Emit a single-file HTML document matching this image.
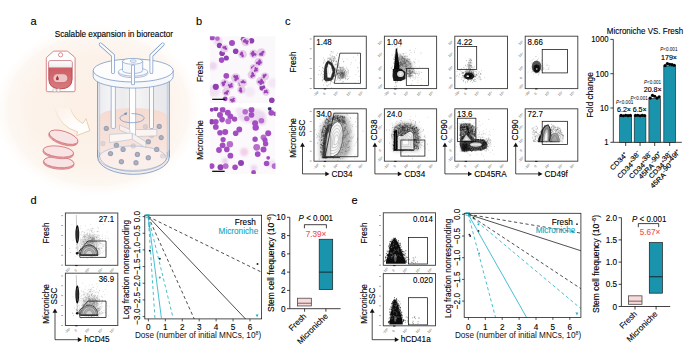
<!DOCTYPE html>
<html><head><meta charset="utf-8"><style>
html,body{margin:0;padding:0;background:#fff;overflow:hidden;}
svg{display:block;}
text{font-family:"Liberation Sans", sans-serif;}
</style></head><body>
<svg width="685" height="345" viewBox="0 0 685 345">
<defs>
<radialGradient id="glow" cx="0.5" cy="0.5" r="0.5">
 <stop offset="0" stop-color="#fcf0e6"/>
 <stop offset="0.6" stop-color="#fcf2e9"/>
 <stop offset="0.85" stop-color="#fdf7f2"/>
 <stop offset="1" stop-color="#ffffff" stop-opacity="0"/>
</radialGradient>
<filter id="b1" x="-50%" y="-50%" width="200%" height="200%"><feGaussianBlur stdDeviation="1"/></filter>
<filter id="b05" x="-50%" y="-50%" width="200%" height="200%"><feGaussianBlur stdDeviation="0.5"/></filter>
<filter id="b2" x="-50%" y="-50%" width="200%" height="200%"><feGaussianBlur stdDeviation="2"/></filter>
</defs>
<text x="30.50" y="24.90" font-size="11" text-anchor="start" fill="#000" stroke="#000" stroke-width="0.12" >a</text>
<text x="196.00" y="24.90" font-size="11" text-anchor="start" fill="#000" stroke="#000" stroke-width="0.12" >b</text>
<text x="285.00" y="24.90" font-size="11" text-anchor="start" fill="#000" stroke="#000" stroke-width="0.12" >c</text>
<text x="30.60" y="204.30" font-size="11" text-anchor="start" fill="#000" stroke="#000" stroke-width="0.12" >d</text>
<text x="351.50" y="204.40" font-size="11" text-anchor="start" fill="#000" stroke="#000" stroke-width="0.12" >e</text>
<ellipse cx="98" cy="110" rx="106" ry="88" fill="url(#glow)"/>
<path d="M46.3,58.5 Q46.3,57.5 47.2,56.8 L53,51.6 Q53.6,51.1 54.5,51.1 L66.5,51.1 Q67.4,51.1 68,51.6 L74.3,56.8 Q75.1,57.5 75.1,58.5 L75.1,90.3 Q75.1,91.7 73.7,91.7 L47.7,91.7 Q46.3,91.7 46.3,90.3 Z" fill="#fff" stroke="#cc5f66" stroke-width="0.75"/>
<circle cx="60.6" cy="54.8" r="2.1" fill="#fff" stroke="#cc5f66" stroke-width="0.7"/>
<linearGradient id="bagR" x1="0" y1="0" x2="0" y2="1"><stop offset="0" stop-color="#c9545b"/><stop offset="1" stop-color="#d97a7e"/></linearGradient>
<linearGradient id="bagW" x1="0" y1="0" x2="0" y2="1"><stop offset="0" stop-color="#ffffff"/><stop offset="1" stop-color="#ececec"/></linearGradient>
<path d="M48.8,62.6 Q48.8,60.7 50.7,60.7 L70.2,60.7 Q72.1,60.7 72.1,62.6 L72.1,79 Q72.1,88.8 60.45,88.8 Q48.8,88.8 48.8,79 Z" fill="url(#bagR)" stroke="#b5424a" stroke-width="0.85"/>
<path d="M48.8,62.6 Q48.8,60.7 50.7,60.7 L70.2,60.7 Q72.1,60.7 72.1,62.6 L72.1,67.6 L48.8,67.6 Z" fill="url(#bagW)" stroke="#c9a0a2" stroke-width="0.4"/>
<rect x="53" y="73.8" width="14.8" height="8.8" rx="4.4" fill="#eec3c3" stroke="#b9525a" stroke-width="0.6"/>
<path d="M57.4,75.6 Q56,78 56,79.2 A1.45,1.45 0 0 0 58.8,79.2 Q58.8,78 57.4,75.6 Z" fill="#a8343c"/>
<circle cx="54.6" cy="90.3" r="1.8" fill="#f7f7f7" stroke="#a9a9a9" stroke-width="0.55"/><circle cx="58.4" cy="90.3" r="1.8" fill="#f7f7f7" stroke="#a9a9a9" stroke-width="0.55"/>
<linearGradient id="arrF" x1="0" y1="0" x2="1" y2="1"><stop offset="0" stop-color="#fff" stop-opacity="0"/><stop offset="0.6" stop-color="#fff" stop-opacity="0.9"/><stop offset="1" stop-color="#fff"/></linearGradient>
<linearGradient id="arrS" x1="0" y1="0" x2="1" y2="1"><stop offset="0" stop-color="#e4c9a4" stop-opacity="0.2"/><stop offset="0.5" stop-color="#e2c39c"/><stop offset="1" stop-color="#dcb88e"/></linearGradient>
<path d="M55,108.5 Q60,127 77.5,131.8 L76.6,135.6 L89.8,130.6 L86,118.7 L82.8,123.6 Q73.5,118.5 70.5,108.5" fill="url(#arrF)" stroke="url(#arrS)" stroke-width="0.7" stroke-linejoin="round"/>
<g transform="rotate(5 58.8 162.2)"><ellipse cx="58.8" cy="163.79999999999998" rx="15.3" ry="5.4" fill="#f3d3d3" stroke="#cc5f66" stroke-width="0.6"/><ellipse cx="58.8" cy="163.0" rx="15.3" ry="5.4" fill="#f3d3d3" stroke="#cc5f66" stroke-width="0.5"/><ellipse cx="58.8" cy="162.2" rx="15.3" ry="5.4" fill="#f8e4e4" stroke="#cc5f66" stroke-width="0.7"/></g>
<g transform="rotate(7 58.400000000000006 151.5)"><ellipse cx="58.400000000000006" cy="153.1" rx="15.3" ry="5.4" fill="#f3d3d3" stroke="#cc5f66" stroke-width="0.6"/><ellipse cx="58.400000000000006" cy="152.3" rx="15.3" ry="5.4" fill="#f3d3d3" stroke="#cc5f66" stroke-width="0.5"/><ellipse cx="58.400000000000006" cy="151.5" rx="15.3" ry="5.4" fill="#f8e4e4" stroke="#cc5f66" stroke-width="0.7"/></g>
<g transform="rotate(18 63.6 137.2)"><ellipse cx="63.6" cy="138.79999999999998" rx="15.0" ry="5.8" fill="#f3d3d3" stroke="#cc5f66" stroke-width="0.6"/><ellipse cx="63.6" cy="138.0" rx="15.0" ry="5.8" fill="#f3d3d3" stroke="#cc5f66" stroke-width="0.5"/><ellipse cx="63.6" cy="137.2" rx="15.0" ry="5.8" fill="#f8e4e4" stroke="#cc5f66" stroke-width="0.7"/></g>
<linearGradient id="glass" x1="0" y1="0" x2="1" y2="0">
 <stop offset="0" stop-color="#e9eaee"/><stop offset="0.15" stop-color="#f3f3f5"/><stop offset="0.35" stop-color="#ececee"/>
 <stop offset="0.55" stop-color="#f4f4f5"/><stop offset="0.8" stop-color="#ebebee"/><stop offset="1" stop-color="#e6e7eb"/></linearGradient>
<linearGradient id="liq" x1="0" y1="0" x2="0" y2="1">
 <stop offset="0" stop-color="#f5dbd1"/><stop offset="0.5" stop-color="#f6e2db"/><stop offset="1" stop-color="#f8ebe7"/></linearGradient>
<radialGradient id="part" cx="0.5" cy="0.5" r="0.5"><stop offset="0" stop-color="#c2b2b0"/><stop offset="0.4" stop-color="#b0acb6"/><stop offset="0.8" stop-color="#94a0b6"/><stop offset="1" stop-color="#a9b3c5"/></radialGradient>
<path d="M97.6,76 L97.6,157 A35.85,17 0 0 0 169.3,157 L169.3,76 Z" fill="url(#glass)"/>
<path d="M99.2,117 A34.1,9 0 0 1 167.6,117 L167.6,157 A34.2,15.5 0 0 1 99.2,157 Z" fill="url(#liq)"/>
<ellipse cx="132.4" cy="158.2" rx="33.8" ry="12.2" fill="#fbf0ec" fill-opacity="0.8" stroke="#9fb2cf" stroke-width="0.6"/>
<path d="M97.6,150 L97.6,157 A35.85,17.3 0 0 0 169.3,157 L169.3,150" fill="none" stroke="#7091c1" stroke-width="0.8"/>
<path d="M99.6,152 L99.6,156.5 A33.9,15.8 0 0 0 167.3,156.5 L167.3,152" fill="none" stroke="#7091c1" stroke-width="0.5"/>
<line x1="97.60" y1="80.00" x2="97.60" y2="157.00" stroke="#7091c1" stroke-width="0.9" />
<line x1="169.30" y1="80.00" x2="169.30" y2="157.00" stroke="#7091c1" stroke-width="0.9" />
<line x1="99.60" y1="82.00" x2="99.60" y2="156.50" stroke="#a7b8d2" stroke-width="0.55" />
<line x1="167.30" y1="82.00" x2="167.30" y2="156.50" stroke="#a7b8d2" stroke-width="0.55" />
<path d="M111.2,84 L111.2,127.6 Q111.2,128.5 113.30000000000001,128.5 Q115.4,128.5 115.4,127.6 L115.4,84" fill="#fbfbfc" stroke="#7091c1" stroke-width="0.6"/>
<path d="M149.5,84 L149.5,127.6 Q149.5,128.5 151.5,128.5 Q153.5,128.5 153.5,127.6 L153.5,84" fill="#fbfbfc" stroke="#7091c1" stroke-width="0.6"/>
<rect x="129.4" y="84" width="6.4" height="51.5" fill="#fdfdfd" stroke="#7091c1" stroke-width="0.5"/>
<rect x="130.2" y="84" width="4.8" height="50" fill="#ffffff"/>
<path d="M126,114.2 A12.1,4.6 0 1 0 131.5,113.6" fill="none" stroke="#7091c1" stroke-width="0.7"/>
<path d="M123.6,113.3 L127.2,112.2 L126.4,115.3 Z" fill="#7091c1"/>
<circle cx="106.3" cy="128.4" r="2.7" fill="url(#part)" opacity="1"/>
<circle cx="159.2" cy="126.4" r="2.7" fill="url(#part)" opacity="1"/>
<circle cx="145.4" cy="126.7" r="2.7" fill="url(#part)" opacity="0.35"/>
<circle cx="151.6" cy="135.5" r="2.7" fill="url(#part)" opacity="0.35"/>
<circle cx="102.9" cy="143.5" r="2.7" fill="url(#part)" opacity="0.3"/>
<circle cx="161.2" cy="137.6" r="2.7" fill="url(#part)" opacity="1"/>
<path d="M119.5,125 L130,129.5 L130,134.5 L119.5,130 Z" fill="#f8eeea" stroke="#a4b4cc" stroke-width="0.5"/>
<path d="M135.5,129.5 L156.8,129.4 L156.8,135.8 L135.5,136.5 Z" fill="#fbf4f1" stroke="#a4b4cc" stroke-width="0.5"/>
<path d="M109.6,134.4 L132.3,133.1 L132.3,139.4 L109.6,142.6 Z" fill="#fcf6f3" stroke="#a4b4cc" stroke-width="0.5"/>
<path d="M132.3,133.1 L145.8,141.8 L145.8,147.7 L132.3,139.4 Z" fill="#faf0ec" stroke="#a4b4cc" stroke-width="0.5"/>
<circle cx="148.3" cy="141.8" r="2.7" fill="url(#part)" opacity="1"/>
<circle cx="116.4" cy="145.2" r="2.7" fill="url(#part)" opacity="1"/>
<circle cx="123.1" cy="149.4" r="2.7" fill="url(#part)" opacity="1"/>
<circle cx="110.5" cy="153.6" r="2.7" fill="url(#part)" opacity="1"/>
<circle cx="137.4" cy="154.4" r="2.7" fill="url(#part)" opacity="1"/>
<circle cx="148.3" cy="157.8" r="2.7" fill="url(#part)" opacity="1"/>
<circle cx="156.7" cy="149.4" r="2.7" fill="url(#part)" opacity="1"/>
<circle cx="121.4" cy="161.7" r="2.7" fill="url(#part)" opacity="1"/>
<circle cx="136" cy="162.8" r="2.7" fill="url(#part)" opacity="1"/>
<circle cx="133.2" cy="146" r="2.7" fill="url(#part)" opacity="0.35"/>
<circle cx="162.6" cy="156.1" r="2.7" fill="url(#part)" opacity="0.3"/>
<path d="M93.2,70.5 L93.2,76.6 A40,11.5 0 0 0 173.2,76.6 L173.2,70.5 Z" fill="#f7f8fb" stroke="#7091c1" stroke-width="0.7"/>
<ellipse cx="133.2" cy="70.5" rx="40" ry="11.5" fill="#fdfdfe" stroke="#7091c1" stroke-width="0.75"/>
<path d="M118.4,71.8 L118.4,73.4 A14.7,4.3 0 0 0 147.8,73.4 L147.8,71.8" fill="#f4f6fa" stroke="#7091c1" stroke-width="0.55"/>
<ellipse cx="133.1" cy="71.8" rx="14.7" ry="4.3" fill="#fbfbfd" stroke="#7091c1" stroke-width="0.55"/>
<path d="M122.5,61.3 L122.5,70.6 A10.1,2.9 0 0 0 142.7,70.6 L142.7,61.3 Z" fill="#f6f7fa" stroke="#7091c1" stroke-width="0.6"/>
<ellipse cx="132.6" cy="61.3" rx="10.1" ry="2.9" fill="#fdfdfe" stroke="#7091c1" stroke-width="0.6"/>
<ellipse cx="133.2" cy="61.1" rx="3.2" ry="1.3" fill="#f2f4f8" stroke="#7091c1" stroke-width="0.5"/>
<path d="M100.6,44.3 L113,55.4 L113,72.3" fill="none" stroke="#7091c1" stroke-width="3.6" stroke-linecap="round" stroke-linejoin="round"/>
<path d="M100.6,44.3 L113,55.4 L113,72.3" fill="none" stroke="#fbfcfd" stroke-width="2.3" stroke-linecap="round" stroke-linejoin="round"/>
<path d="M162.8,44.3 L151.4,55.4 L151.4,72.3" fill="none" stroke="#7091c1" stroke-width="3.6" stroke-linecap="round" stroke-linejoin="round"/>
<path d="M162.8,44.3 L151.4,55.4 L151.4,72.3" fill="none" stroke="#fbfcfd" stroke-width="2.3" stroke-linecap="round" stroke-linejoin="round"/>
<path d="M133,66.6 L133,83.3" fill="none" stroke="#7091c1" stroke-width="4" stroke-linecap="round" stroke-linejoin="round"/>
<path d="M133,66.6 L133,83.3" fill="none" stroke="#fbfcfd" stroke-width="2.7" stroke-linecap="round" stroke-linejoin="round"/>
<text x="54.70" y="36.50" font-size="8.2" text-anchor="start" fill="#000" stroke="#000" stroke-width="0.12" >Scalable expansion in bioreactor</text>
<clipPath id="im1"><rect x="209.7" y="36.2" width="65.8" height="66.8"/></clipPath>
<clipPath id="im2"><rect x="209.7" y="107.2" width="65.8" height="66.8"/></clipPath>
<filter id="soft" x="-10%" y="-10%" width="120%" height="120%"><feGaussianBlur stdDeviation="0.45"/></filter>
<filter id="soft2" x="-50%" y="-50%" width="200%" height="200%"><feGaussianBlur stdDeviation="1.2"/></filter>
<g clip-path="url(#im1)"><rect x="209.7" y="36.2" width="65.8" height="66.8" fill="#fbf8fb"/>
<g filter="url(#soft2)" opacity="0.7"><circle cx="213" cy="66" r="4" fill="#e5c9ea"/><circle cx="214" cy="91" r="6" fill="#ecd6ef"/><circle cx="218" cy="41" r="4" fill="#e3c3e8"/><circle cx="273" cy="83" r="5" fill="#efe0f2"/><circle cx="250" cy="92" r="5" fill="#f0e2f2"/></g>
<g filter="url(#soft)">
<circle cx="212.2" cy="37.7" r="2.60" fill="#a44ec2"/>
<circle cx="217.4" cy="38.6" r="2.40" fill="#b86ccd"/>
<circle cx="219.5" cy="45.5" r="2.70" fill="#9140b2"/>
<circle cx="232" cy="42.9" r="3.00" fill="#a44ec2"/>
<circle cx="235.7" cy="51.2" r="2.80" fill="#9140b2"/>
<circle cx="222.1" cy="53.3" r="2.80" fill="#9140b2"/>
<circle cx="226.3" cy="58.0" r="2.60" fill="#9140b2"/>
<circle cx="221.6" cy="60.1" r="2.80" fill="#a44ec2"/>
<circle cx="243" cy="39.2" r="2.40" fill="#a44ec2"/>
<circle cx="251.5" cy="40.8" r="2.80" fill="#9140b2"/>
<circle cx="226.3" cy="75.8" r="2.90" fill="#a44ec2"/>
<circle cx="215.8" cy="86.8" r="3.10" fill="#9140b2"/>
<circle cx="225.2" cy="98.8" r="2.40" fill="#9140b2"/>
<circle cx="262.4" cy="87.8" r="3.00" fill="#9140b2"/>
<circle cx="271.8" cy="100.3" r="2.80" fill="#9140b2"/>
<circle cx="224.5" cy="48.4" r="3.92" fill="#e7cdea"/>
<ellipse cx="223.56" cy="47.49" rx="1.40" ry="1.12" transform="rotate(224 223.56 47.49)" fill="#9c44b6"/>
<ellipse cx="225.08" cy="47.22" rx="1.40" ry="1.12" transform="rotate(296 225.08 47.22)" fill="#9c44b6"/>
<ellipse cx="225.78" cy="48.69" rx="1.40" ry="1.12" transform="rotate(373 225.78 48.69)" fill="#9c44b6"/>
<circle cx="245.7" cy="41.8" r="4.3999999999999995" fill="#e7cdea"/>
<ellipse cx="244.24" cy="41.42" rx="1.62" ry="1.30" transform="rotate(195 244.24 41.42)" fill="#9c44b6"/>
<ellipse cx="245.27" cy="40.35" rx="1.62" ry="1.30" transform="rotate(253 245.27 40.35)" fill="#9c44b6"/>
<ellipse cx="247.19" cy="41.52" rx="1.62" ry="1.30" transform="rotate(349 247.19 41.52)" fill="#9c44b6"/>
<ellipse cx="246.63" cy="42.99" rx="1.62" ry="1.30" transform="rotate(412 246.63 42.99)" fill="#9c44b6"/>
<circle cx="242.6" cy="54.3" r="4.28" fill="#e7cdea"/>
<ellipse cx="242.61" cy="55.76" rx="1.57" ry="1.25" transform="rotate(90 242.61 55.76)" fill="#9c44b6"/>
<ellipse cx="241.14" cy="54.33" rx="1.57" ry="1.25" transform="rotate(179 241.14 54.33)" fill="#9c44b6"/>
<ellipse cx="241.86" cy="53.04" rx="1.57" ry="1.25" transform="rotate(240 241.86 53.04)" fill="#9c44b6"/>
<circle cx="253.6" cy="53.8" r="4.3999999999999995" fill="#e7cdea"/>
<ellipse cx="254.97" cy="54.43" rx="1.62" ry="1.30" transform="rotate(25 254.97 54.43)" fill="#9c44b6"/>
<ellipse cx="252.96" cy="55.17" rx="1.62" ry="1.30" transform="rotate(115 252.96 55.17)" fill="#9c44b6"/>
<ellipse cx="252.10" cy="53.60" rx="1.62" ry="1.30" transform="rotate(187 252.10 53.60)" fill="#9c44b6"/>
<ellipse cx="253.17" cy="52.35" rx="1.62" ry="1.30" transform="rotate(254 253.17 52.35)" fill="#9c44b6"/>
<circle cx="261.4" cy="52.8" r="4.52" fill="#e7cdea"/>
<ellipse cx="262.87" cy="52.26" rx="1.67" ry="1.34" transform="rotate(340 262.87 52.26)" fill="#9c44b6"/>
<ellipse cx="261.99" cy="54.25" rx="1.67" ry="1.34" transform="rotate(428 261.99 54.25)" fill="#9c44b6"/>
<ellipse cx="260.51" cy="54.09" rx="1.67" ry="1.34" transform="rotate(485 260.51 54.09)" fill="#9c44b6"/>
<circle cx="258.8" cy="62.2" r="4.3999999999999995" fill="#e7cdea"/>
<ellipse cx="259.48" cy="60.85" rx="1.62" ry="1.30" transform="rotate(297 259.48 60.85)" fill="#9c44b6"/>
<ellipse cx="260.30" cy="62.40" rx="1.62" ry="1.30" transform="rotate(368 260.30 62.40)" fill="#9c44b6"/>
<ellipse cx="259.07" cy="63.69" rx="1.62" ry="1.30" transform="rotate(440 259.07 63.69)" fill="#9c44b6"/>
<ellipse cx="257.47" cy="62.92" rx="1.62" ry="1.30" transform="rotate(512 257.47 62.92)" fill="#9c44b6"/>
<circle cx="253.6" cy="67.9" r="3.92" fill="#e7cdea"/>
<ellipse cx="252.31" cy="67.67" rx="1.40" ry="1.12" transform="rotate(190 252.31 67.67)" fill="#9c44b6"/>
<ellipse cx="253.56" cy="66.59" rx="1.40" ry="1.12" transform="rotate(268 253.56 66.59)" fill="#9c44b6"/>
<ellipse cx="254.87" cy="67.57" rx="1.40" ry="1.12" transform="rotate(346 254.87 67.57)" fill="#9c44b6"/>
<circle cx="235.7" cy="77.9" r="4.64" fill="#e7cdea"/>
<ellipse cx="234.76" cy="76.59" rx="1.73" ry="1.38" transform="rotate(234 234.76 76.59)" fill="#9c44b6"/>
<ellipse cx="236.71" cy="76.64" rx="1.73" ry="1.38" transform="rotate(309 236.71 76.64)" fill="#9c44b6"/>
<ellipse cx="237.27" cy="78.27" rx="1.73" ry="1.38" transform="rotate(373 237.27 78.27)" fill="#9c44b6"/>
<ellipse cx="235.63" cy="79.51" rx="1.73" ry="1.38" transform="rotate(453 235.63 79.51)" fill="#9c44b6"/>
<circle cx="224.5" cy="83.5" r="4.3999999999999995" fill="#e7cdea"/>
<ellipse cx="223.55" cy="84.68" rx="1.62" ry="1.30" transform="rotate(129 223.55 84.68)" fill="#9c44b6"/>
<ellipse cx="223.02" cy="83.21" rx="1.62" ry="1.30" transform="rotate(191 223.02 83.21)" fill="#9c44b6"/>
<ellipse cx="224.74" cy="82.01" rx="1.62" ry="1.30" transform="rotate(279 224.74 82.01)" fill="#9c44b6"/>
<circle cx="230.5" cy="85.5" r="3.92" fill="#e7cdea"/>
<ellipse cx="231.31" cy="84.47" rx="1.40" ry="1.12" transform="rotate(308 231.31 84.47)" fill="#9c44b6"/>
<ellipse cx="231.60" cy="86.21" rx="1.40" ry="1.12" transform="rotate(393 231.60 86.21)" fill="#9c44b6"/>
<ellipse cx="229.96" cy="86.69" rx="1.40" ry="1.12" transform="rotate(474 229.96 86.69)" fill="#9c44b6"/>
<ellipse cx="229.21" cy="85.27" rx="1.40" ry="1.12" transform="rotate(550 229.21 85.27)" fill="#9c44b6"/>
<circle cx="226.3" cy="92" r="4.16" fill="#e7cdea"/>
<ellipse cx="227.60" cy="91.46" rx="1.51" ry="1.21" transform="rotate(337 227.60 91.46)" fill="#9c44b6"/>
<ellipse cx="226.80" cy="93.32" rx="1.51" ry="1.21" transform="rotate(429 226.80 93.32)" fill="#9c44b6"/>
<ellipse cx="225.38" cy="93.07" rx="1.51" ry="1.21" transform="rotate(491 225.38 93.07)" fill="#9c44b6"/>
<circle cx="241.4" cy="83.7" r="4.16" fill="#e7cdea"/>
<ellipse cx="242.38" cy="84.72" rx="1.51" ry="1.21" transform="rotate(46 242.38 84.72)" fill="#9c44b6"/>
<ellipse cx="240.57" cy="84.84" rx="1.51" ry="1.21" transform="rotate(126 240.57 84.84)" fill="#9c44b6"/>
<ellipse cx="240.01" cy="83.45" rx="1.51" ry="1.21" transform="rotate(190 240.01 83.45)" fill="#9c44b6"/>
<ellipse cx="241.41" cy="82.29" rx="1.51" ry="1.21" transform="rotate(270 241.41 82.29)" fill="#9c44b6"/>
<circle cx="241.4" cy="89.9" r="4.16" fill="#e7cdea"/>
<ellipse cx="241.14" cy="91.29" rx="1.51" ry="1.21" transform="rotate(101 241.14 91.29)" fill="#9c44b6"/>
<ellipse cx="240.07" cy="90.37" rx="1.51" ry="1.21" transform="rotate(161 240.07 90.37)" fill="#9c44b6"/>
<ellipse cx="240.64" cy="88.71" rx="1.51" ry="1.21" transform="rotate(238 240.64 88.71)" fill="#9c44b6"/>
<circle cx="232.5" cy="99.8" r="3.92" fill="#e7cdea"/>
<ellipse cx="233.50" cy="98.95" rx="1.40" ry="1.12" transform="rotate(319 233.50 98.95)" fill="#9c44b6"/>
<ellipse cx="233.56" cy="100.57" rx="1.40" ry="1.12" transform="rotate(396 233.56 100.57)" fill="#9c44b6"/>
<ellipse cx="232.26" cy="101.09" rx="1.40" ry="1.12" transform="rotate(461 232.26 101.09)" fill="#9c44b6"/>
<ellipse cx="231.20" cy="99.94" rx="1.40" ry="1.12" transform="rotate(534 231.20 99.94)" fill="#9c44b6"/>
<circle cx="252" cy="74.8" r="4.3999999999999995" fill="#e7cdea"/>
<ellipse cx="252.66" cy="73.44" rx="1.62" ry="1.30" transform="rotate(296 252.66 73.44)" fill="#9c44b6"/>
<ellipse cx="253.41" cy="75.35" rx="1.62" ry="1.30" transform="rotate(381 253.41 75.35)" fill="#9c44b6"/>
<ellipse cx="251.68" cy="76.28" rx="1.62" ry="1.30" transform="rotate(462 251.68 76.28)" fill="#9c44b6"/>
<circle cx="255.7" cy="69.6" r="3.6799999999999997" fill="#e7cdea"/>
<ellipse cx="255.42" cy="68.42" rx="1.30" ry="1.04" transform="rotate(257 255.42 68.42)" fill="#9c44b6"/>
<ellipse cx="256.67" cy="68.87" rx="1.30" ry="1.04" transform="rotate(323 256.67 68.87)" fill="#9c44b6"/>
<ellipse cx="256.71" cy="70.27" rx="1.30" ry="1.04" transform="rotate(394 256.71 70.27)" fill="#9c44b6"/>
<ellipse cx="255.04" cy="70.61" rx="1.30" ry="1.04" transform="rotate(483 255.04 70.61)" fill="#9c44b6"/>
<circle cx="243.1" cy="82.6" r="3.92" fill="#e7cdea"/>
<ellipse cx="241.89" cy="82.10" rx="1.40" ry="1.12" transform="rotate(203 241.89 82.10)" fill="#9c44b6"/>
<ellipse cx="243.15" cy="81.29" rx="1.40" ry="1.12" transform="rotate(272 243.15 81.29)" fill="#9c44b6"/>
<ellipse cx="244.41" cy="82.49" rx="1.40" ry="1.12" transform="rotate(355 244.41 82.49)" fill="#9c44b6"/>
<circle cx="260.9" cy="81.6" r="4.76" fill="#e7cdea"/>
<ellipse cx="261.64" cy="80.11" rx="1.78" ry="1.43" transform="rotate(296 261.64 80.11)" fill="#9c44b6"/>
<ellipse cx="262.43" cy="82.25" rx="1.78" ry="1.43" transform="rotate(383 262.43 82.25)" fill="#9c44b6"/>
<ellipse cx="260.73" cy="83.25" rx="1.78" ry="1.43" transform="rotate(456 260.73 83.25)" fill="#9c44b6"/>
<ellipse cx="259.26" cy="81.90" rx="1.78" ry="1.43" transform="rotate(530 259.26 81.90)" fill="#9c44b6"/>
<circle cx="265" cy="76.3" r="3.92" fill="#e7cdea"/>
<ellipse cx="263.88" cy="76.98" rx="1.40" ry="1.12" transform="rotate(149 263.88 76.98)" fill="#9c44b6"/>
<ellipse cx="263.94" cy="75.53" rx="1.40" ry="1.12" transform="rotate(216 263.94 75.53)" fill="#9c44b6"/>
<ellipse cx="265.42" cy="75.06" rx="1.40" ry="1.12" transform="rotate(289 265.42 75.06)" fill="#9c44b6"/>
<circle cx="266" cy="92" r="3.6799999999999997" fill="#e7cdea"/>
<ellipse cx="264.86" cy="92.39" rx="1.30" ry="1.04" transform="rotate(161 264.86 92.39)" fill="#9c44b6"/>
<ellipse cx="265.12" cy="91.17" rx="1.30" ry="1.04" transform="rotate(224 265.12 91.17)" fill="#9c44b6"/>
<ellipse cx="266.53" cy="90.91" rx="1.30" ry="1.04" transform="rotate(296 266.53 90.91)" fill="#9c44b6"/>
<ellipse cx="267.14" cy="92.39" rx="1.30" ry="1.04" transform="rotate(379 267.14 92.39)" fill="#9c44b6"/>
</g></g>
<rect x="212.2" y="98.7" width="13" height="1.3" fill="#111"/>
<g clip-path="url(#im2)"><rect x="209.7" y="107.2" width="65.8" height="66.8" fill="#fbf9fb"/>
<g filter="url(#soft2)" opacity="0.85"><ellipse cx="252" cy="116" rx="14" ry="7" fill="#ead4ee"/><circle cx="240" cy="111" r="4" fill="#efdff2"/><circle cx="244.2" cy="152" r="4" fill="#f0c9e6"/><circle cx="262" cy="121" r="4" fill="#e5c8ea"/><circle cx="225" cy="161" r="3" fill="#e6cbeb"/><circle cx="254" cy="168" r="3" fill="#e8cfec"/><circle cx="272" cy="164" r="4" fill="#ece0f1"/></g>
<g filter="url(#soft)">
<circle cx="211.7" cy="109.7" r="2.00" fill="#9140b2"/>
<circle cx="215.8" cy="108.7" r="2.50" fill="#9140b2"/>
<circle cx="222.6" cy="109.7" r="2.90" fill="#a44ec2"/>
<circle cx="220" cy="114.9" r="3.00" fill="#a44ec2"/>
<circle cx="227.8" cy="112.8" r="3.00" fill="#a44ec2"/>
<circle cx="230.4" cy="116.5" r="2.90" fill="#a44ec2"/>
<circle cx="222.1" cy="119.6" r="2.80" fill="#a44ec2"/>
<circle cx="234.6" cy="119.1" r="2.70" fill="#a44ec2"/>
<circle cx="228.3" cy="121.2" r="3.00" fill="#b86ccd"/>
<circle cx="211.7" cy="121.7" r="2.80" fill="#9140b2"/>
<circle cx="215.8" cy="121.7" r="2.80" fill="#a44ec2"/>
<circle cx="215.8" cy="126.9" r="2.90" fill="#a44ec2"/>
<circle cx="220" cy="132.7" r="2.80" fill="#a44ec2"/>
<circle cx="225.2" cy="132.1" r="3.00" fill="#a44ec2"/>
<circle cx="235.7" cy="133.2" r="2.80" fill="#a44ec2"/>
<circle cx="239.3" cy="129.5" r="2.90" fill="#a44ec2"/>
<circle cx="223.1" cy="139.6" r="2.60" fill="#a44ec2"/>
<circle cx="251.5" cy="109.7" r="2.90" fill="#a44ec2"/>
<circle cx="251.5" cy="114.9" r="2.80" fill="#a44ec2"/>
<circle cx="245.2" cy="111.8" r="2.80" fill="#b86ccd"/>
<circle cx="246.8" cy="118.6" r="2.70" fill="#b86ccd"/>
<circle cx="255.1" cy="123.3" r="3.00" fill="#a44ec2"/>
<circle cx="255.7" cy="127.6" r="3.20" fill="#a44ec2"/>
<circle cx="261.4" cy="120.7" r="2.80" fill="#b86ccd"/>
<circle cx="271.3" cy="112.8" r="2.90" fill="#a44ec2"/>
<circle cx="269.7" cy="108.7" r="1.90" fill="#3d2f7a"/>
<circle cx="268.2" cy="133.2" r="3.00" fill="#a44ec2"/>
<circle cx="263.5" cy="137.3" r="2.90" fill="#b86ccd"/>
<circle cx="255.1" cy="139.2" r="2.70" fill="#a44ec2"/>
<circle cx="222.6" cy="145.3" r="2.90" fill="#a44ec2"/>
<circle cx="229.9" cy="144.2" r="3.20" fill="#b86ccd"/>
<circle cx="219" cy="150" r="2.90" fill="#a44ec2"/>
<circle cx="226.8" cy="149.4" r="2.80" fill="#a44ec2"/>
<circle cx="230.4" cy="155.7" r="2.90" fill="#a44ec2"/>
<circle cx="211.7" cy="166.1" r="2.80" fill="#a44ec2"/>
<circle cx="220.5" cy="167.2" r="3.00" fill="#9140b2"/>
<circle cx="225.7" cy="166.1" r="2.90" fill="#b86ccd"/>
<circle cx="235.1" cy="167.2" r="2.80" fill="#a44ec2"/>
<circle cx="241" cy="163" r="3.00" fill="#9140b2"/>
<circle cx="265" cy="140" r="2.60" fill="#a44ec2"/>
<circle cx="265.6" cy="143.7" r="2.70" fill="#a44ec2"/>
<circle cx="256.7" cy="147.3" r="3.40" fill="#b86ccd"/>
<circle cx="263.5" cy="149.4" r="3.00" fill="#a44ec2"/>
<circle cx="257.7" cy="154.1" r="2.90" fill="#a44ec2"/>
<circle cx="266.6" cy="163.5" r="2.80" fill="#a44ec2"/>
<circle cx="268.2" cy="157.8" r="1.90" fill="#a44ec2"/>
<circle cx="253.6" cy="172.4" r="2.40" fill="#a44ec2"/>
<circle cx="275.5" cy="113.9" r="2.40" fill="#a44ec2"/>
<circle cx="274.6" cy="166.1" r="2.90" fill="#b86ccd"/>
</g></g>
<rect x="212.2" y="170.7" width="12.5" height="1.3" fill="#111"/>
<text x="203.50" y="71.60" font-size="8.2" text-anchor="middle" fill="#000" stroke="#000" stroke-width="0.12" transform="rotate(-90 203.5 71.6)" >Fresh</text>
<text x="202.80" y="140.00" font-size="8.2" text-anchor="middle" fill="#000" stroke="#000" stroke-width="0.12" transform="rotate(-90 202.8 140)" >Microniche</text>
<rect x="314.00" y="36.20" width="52.30" height="52.40" stroke="#444" stroke-width="0.95" fill="none" />
<text x="0.00" y="0.00" font-size="9.3" text-anchor="start" fill="#000" stroke="#000" stroke-width="0.12" transform="translate(316.30 44.80) scale(0.85 1)" >1.48</text>
<rect x="309.70" y="88.05" width="2" height="0.7" fill="#888"/>
<rect x="309.70" y="78.16" width="2" height="0.7" fill="#888"/>
<rect x="309.70" y="68.28" width="2" height="0.7" fill="#888"/>
<rect x="309.70" y="58.39" width="2" height="0.7" fill="#888"/>
<rect x="309.70" y="48.50" width="2" height="0.7" fill="#888"/>
<rect x="309.70" y="38.62" width="2" height="0.7" fill="#888"/>
<text font-size="3.4" text-anchor="middle" fill="#555" transform="translate(316.88 94.60) rotate(-40)">-10³</text>
<text font-size="3.4" text-anchor="middle" fill="#555" transform="translate(324.98 94.60) rotate(-40)">0</text>
<text font-size="3.4" text-anchor="middle" fill="#555" transform="translate(336.49 94.60) rotate(-40)">10³</text>
<text font-size="3.4" text-anchor="middle" fill="#555" transform="translate(349.56 94.60) rotate(-40)">10⁴</text>
<text font-size="3.4" text-anchor="middle" fill="#555" transform="translate(361.33 94.60) rotate(-40)">10⁵</text>
<rect x="323.78" y="88.30" width="2.4" height="1.1" fill="#222"/>
<rect x="384.40" y="36.20" width="52.20" height="52.40" stroke="#444" stroke-width="0.95" fill="none" />
<text x="0.00" y="0.00" font-size="9.3" text-anchor="start" fill="#000" stroke="#000" stroke-width="0.12" transform="translate(386.70 44.80) scale(0.85 1)" >1.04</text>
<text font-size="3.4" text-anchor="middle" fill="#555" transform="translate(380.80 43.69) rotate(-40)">10⁵</text>
<text font-size="3.4" text-anchor="middle" fill="#555" transform="translate(380.80 55.74) rotate(-40)">10⁴</text>
<text font-size="3.4" text-anchor="middle" fill="#555" transform="translate(380.80 69.36) rotate(-40)">10³</text>
<text font-size="3.4" text-anchor="middle" fill="#555" transform="translate(380.80 78.80) rotate(-40)">0</text>
<text font-size="3.4" text-anchor="middle" fill="#555" transform="translate(380.80 87.70) rotate(-40)">-10³</text>
<text font-size="3.4" text-anchor="middle" fill="#555" transform="translate(387.27 94.60) rotate(-40)">-10³</text>
<text font-size="3.4" text-anchor="middle" fill="#555" transform="translate(395.36 94.60) rotate(-40)">0</text>
<text font-size="3.4" text-anchor="middle" fill="#555" transform="translate(406.85 94.60) rotate(-40)">10³</text>
<text font-size="3.4" text-anchor="middle" fill="#555" transform="translate(419.90 94.60) rotate(-40)">10⁴</text>
<text font-size="3.4" text-anchor="middle" fill="#555" transform="translate(431.64 94.60) rotate(-40)">10⁵</text>
<rect x="394.16" y="88.30" width="2.4" height="1.1" fill="#222"/>
<rect x="454.80" y="36.20" width="52.70" height="52.40" stroke="#444" stroke-width="0.95" fill="none" />
<text x="0.00" y="0.00" font-size="9.3" text-anchor="start" fill="#000" stroke="#000" stroke-width="0.12" transform="translate(457.10 44.80) scale(0.85 1)" >4.22</text>
<text font-size="3.4" text-anchor="middle" fill="#555" transform="translate(451.20 43.69) rotate(-40)">10⁵</text>
<text font-size="3.4" text-anchor="middle" fill="#555" transform="translate(451.20 55.74) rotate(-40)">10⁴</text>
<text font-size="3.4" text-anchor="middle" fill="#555" transform="translate(451.20 69.36) rotate(-40)">10³</text>
<text font-size="3.4" text-anchor="middle" fill="#555" transform="translate(451.20 78.80) rotate(-40)">0</text>
<text font-size="3.4" text-anchor="middle" fill="#555" transform="translate(451.20 87.70) rotate(-40)">-10³</text>
<text font-size="3.4" text-anchor="middle" fill="#555" transform="translate(457.70 94.60) rotate(-40)">-10³</text>
<text font-size="3.4" text-anchor="middle" fill="#555" transform="translate(465.87 94.60) rotate(-40)">0</text>
<text font-size="3.4" text-anchor="middle" fill="#555" transform="translate(477.46 94.60) rotate(-40)">10³</text>
<text font-size="3.4" text-anchor="middle" fill="#555" transform="translate(490.64 94.60) rotate(-40)">10⁴</text>
<text font-size="3.4" text-anchor="middle" fill="#555" transform="translate(502.49 94.60) rotate(-40)">10⁵</text>
<rect x="464.67" y="88.30" width="2.4" height="1.1" fill="#222"/>
<rect x="525.20" y="36.20" width="52.60" height="52.40" stroke="#444" stroke-width="0.95" fill="none" />
<text x="0.00" y="0.00" font-size="9.3" text-anchor="start" fill="#000" stroke="#000" stroke-width="0.12" transform="translate(527.50 44.80) scale(0.85 1)" >8.66</text>
<text font-size="3.4" text-anchor="middle" fill="#555" transform="translate(521.60 43.69) rotate(-40)">10⁵</text>
<text font-size="3.4" text-anchor="middle" fill="#555" transform="translate(521.60 55.74) rotate(-40)">10⁴</text>
<text font-size="3.4" text-anchor="middle" fill="#555" transform="translate(521.60 69.36) rotate(-40)">10³</text>
<text font-size="3.4" text-anchor="middle" fill="#555" transform="translate(521.60 78.80) rotate(-40)">0</text>
<text font-size="3.4" text-anchor="middle" fill="#555" transform="translate(521.60 87.70) rotate(-40)">-10³</text>
<text font-size="3.4" text-anchor="middle" fill="#555" transform="translate(528.09 94.60) rotate(-40)">-10³</text>
<text font-size="3.4" text-anchor="middle" fill="#555" transform="translate(536.25 94.60) rotate(-40)">0</text>
<text font-size="3.4" text-anchor="middle" fill="#555" transform="translate(547.82 94.60) rotate(-40)">10³</text>
<text font-size="3.4" text-anchor="middle" fill="#555" transform="translate(560.97 94.60) rotate(-40)">10⁴</text>
<text font-size="3.4" text-anchor="middle" fill="#555" transform="translate(572.80 94.60) rotate(-40)">10⁵</text>
<rect x="535.05" y="88.30" width="2.4" height="1.1" fill="#222"/>
<rect x="314.00" y="108.80" width="52.30" height="52.40" stroke="#444" stroke-width="0.95" fill="none" />
<text x="0.00" y="0.00" font-size="9.3" text-anchor="start" fill="#000" stroke="#000" stroke-width="0.12" transform="translate(316.30 117.40) scale(0.85 1)" >34.0</text>
<rect x="309.70" y="160.65" width="2" height="0.7" fill="#888"/>
<rect x="309.70" y="150.76" width="2" height="0.7" fill="#888"/>
<rect x="309.70" y="140.88" width="2" height="0.7" fill="#888"/>
<rect x="309.70" y="130.99" width="2" height="0.7" fill="#888"/>
<rect x="309.70" y="121.10" width="2" height="0.7" fill="#888"/>
<rect x="309.70" y="111.22" width="2" height="0.7" fill="#888"/>
<text font-size="3.4" text-anchor="middle" fill="#555" transform="translate(316.88 167.20) rotate(-40)">-10³</text>
<text font-size="3.4" text-anchor="middle" fill="#555" transform="translate(324.98 167.20) rotate(-40)">0</text>
<text font-size="3.4" text-anchor="middle" fill="#555" transform="translate(336.49 167.20) rotate(-40)">10³</text>
<text font-size="3.4" text-anchor="middle" fill="#555" transform="translate(349.56 167.20) rotate(-40)">10⁴</text>
<text font-size="3.4" text-anchor="middle" fill="#555" transform="translate(361.33 167.20) rotate(-40)">10⁵</text>
<rect x="323.78" y="160.90" width="2.4" height="1.1" fill="#222"/>
<rect x="384.40" y="108.80" width="52.20" height="52.40" stroke="#444" stroke-width="0.95" fill="none" />
<text x="0.00" y="0.00" font-size="9.3" text-anchor="start" fill="#000" stroke="#000" stroke-width="0.12" transform="translate(386.70 117.40) scale(0.85 1)" >24.0</text>
<text font-size="3.4" text-anchor="middle" fill="#555" transform="translate(380.80 116.29) rotate(-40)">10⁵</text>
<text font-size="3.4" text-anchor="middle" fill="#555" transform="translate(380.80 128.34) rotate(-40)">10⁴</text>
<text font-size="3.4" text-anchor="middle" fill="#555" transform="translate(380.80 141.96) rotate(-40)">10³</text>
<text font-size="3.4" text-anchor="middle" fill="#555" transform="translate(380.80 151.40) rotate(-40)">0</text>
<text font-size="3.4" text-anchor="middle" fill="#555" transform="translate(380.80 160.30) rotate(-40)">-10³</text>
<text font-size="3.4" text-anchor="middle" fill="#555" transform="translate(387.27 167.20) rotate(-40)">-10³</text>
<text font-size="3.4" text-anchor="middle" fill="#555" transform="translate(395.36 167.20) rotate(-40)">0</text>
<text font-size="3.4" text-anchor="middle" fill="#555" transform="translate(406.85 167.20) rotate(-40)">10³</text>
<text font-size="3.4" text-anchor="middle" fill="#555" transform="translate(419.90 167.20) rotate(-40)">10⁴</text>
<text font-size="3.4" text-anchor="middle" fill="#555" transform="translate(431.64 167.20) rotate(-40)">10⁵</text>
<rect x="394.16" y="160.90" width="2.4" height="1.1" fill="#222"/>
<rect x="454.80" y="108.80" width="52.70" height="52.40" stroke="#444" stroke-width="0.95" fill="none" />
<text x="0.00" y="0.00" font-size="9.3" text-anchor="start" fill="#000" stroke="#000" stroke-width="0.12" transform="translate(457.10 117.40) scale(0.85 1)" >13.6</text>
<text font-size="3.4" text-anchor="middle" fill="#555" transform="translate(451.20 116.29) rotate(-40)">10⁵</text>
<text font-size="3.4" text-anchor="middle" fill="#555" transform="translate(451.20 128.34) rotate(-40)">10⁴</text>
<text font-size="3.4" text-anchor="middle" fill="#555" transform="translate(451.20 141.96) rotate(-40)">10³</text>
<text font-size="3.4" text-anchor="middle" fill="#555" transform="translate(451.20 151.40) rotate(-40)">0</text>
<text font-size="3.4" text-anchor="middle" fill="#555" transform="translate(451.20 160.30) rotate(-40)">-10³</text>
<text font-size="3.4" text-anchor="middle" fill="#555" transform="translate(457.70 167.20) rotate(-40)">-10³</text>
<text font-size="3.4" text-anchor="middle" fill="#555" transform="translate(465.87 167.20) rotate(-40)">0</text>
<text font-size="3.4" text-anchor="middle" fill="#555" transform="translate(477.46 167.20) rotate(-40)">10³</text>
<text font-size="3.4" text-anchor="middle" fill="#555" transform="translate(490.64 167.20) rotate(-40)">10⁴</text>
<text font-size="3.4" text-anchor="middle" fill="#555" transform="translate(502.49 167.20) rotate(-40)">10⁵</text>
<rect x="464.67" y="160.90" width="2.4" height="1.1" fill="#222"/>
<rect x="525.20" y="108.80" width="52.60" height="52.40" stroke="#444" stroke-width="0.95" fill="none" />
<text x="0.00" y="0.00" font-size="9.3" text-anchor="start" fill="#000" stroke="#000" stroke-width="0.12" transform="translate(527.50 117.40) scale(0.85 1)" >72.7</text>
<text font-size="3.4" text-anchor="middle" fill="#555" transform="translate(521.60 116.29) rotate(-40)">10⁵</text>
<text font-size="3.4" text-anchor="middle" fill="#555" transform="translate(521.60 128.34) rotate(-40)">10⁴</text>
<text font-size="3.4" text-anchor="middle" fill="#555" transform="translate(521.60 141.96) rotate(-40)">10³</text>
<text font-size="3.4" text-anchor="middle" fill="#555" transform="translate(521.60 151.40) rotate(-40)">0</text>
<text font-size="3.4" text-anchor="middle" fill="#555" transform="translate(521.60 160.30) rotate(-40)">-10³</text>
<text font-size="3.4" text-anchor="middle" fill="#555" transform="translate(528.09 167.20) rotate(-40)">-10³</text>
<text font-size="3.4" text-anchor="middle" fill="#555" transform="translate(536.25 167.20) rotate(-40)">0</text>
<text font-size="3.4" text-anchor="middle" fill="#555" transform="translate(547.82 167.20) rotate(-40)">10³</text>
<text font-size="3.4" text-anchor="middle" fill="#555" transform="translate(560.97 167.20) rotate(-40)">10⁴</text>
<text font-size="3.4" text-anchor="middle" fill="#555" transform="translate(572.80 167.20) rotate(-40)">10⁵</text>
<rect x="535.05" y="160.90" width="2.4" height="1.1" fill="#222"/>
<text x="296.00" y="62.00" font-size="8.2" text-anchor="middle" fill="#000" stroke="#000" stroke-width="0.12" transform="rotate(-90 296 62)" >Fresh</text>
<text x="296.00" y="138.00" font-size="8.2" text-anchor="middle" fill="#000" stroke="#000" stroke-width="0.12" transform="rotate(-90 296 138)" >Microniche</text>
<text x="304.50" y="128.00" font-size="8.2" text-anchor="middle" fill="#000" stroke="#000" stroke-width="0.12" transform="rotate(-90 304.5 128)" >SSC</text>
<path d="M302.5,146.0 L302.5,173.9 L326.0,173.9" stroke="#111" stroke-width="0.75" fill="none" />
<path d="M300.1,146.7 L302.5,142.5 L304.9,146.7 Z" stroke="none" stroke-width="0.8" fill="#111" />
<path d="M325.3,171.5 L329.5,173.9 L325.3,176.3 Z" stroke="none" stroke-width="0.8" fill="#111" />
<text x="331.50" y="176.50" font-size="8.2" text-anchor="start" fill="#000" stroke="#000" stroke-width="0.12" >CD34</text>
<path d="M374.9,146.0 L374.9,173.9 L398.5,173.9" stroke="#111" stroke-width="0.75" fill="none" />
<path d="M372.5,146.7 L374.9,142.5 L377.29999999999995,146.7 Z" stroke="none" stroke-width="0.8" fill="#111" />
<path d="M397.8,171.5 L402,173.9 L397.8,176.3 Z" stroke="none" stroke-width="0.8" fill="#111" />
<text x="377.00" y="130.00" font-size="8.2" text-anchor="middle" fill="#000" stroke="#000" stroke-width="0.12" transform="rotate(-90 377 130)" >CD38</text>
<text x="404.30" y="176.50" font-size="8.2" text-anchor="start" fill="#000" stroke="#000" stroke-width="0.12" >CD34</text>
<path d="M444.9,146.0 L444.9,173.9 L468.7,173.9" stroke="#111" stroke-width="0.75" fill="none" />
<path d="M442.5,146.7 L444.9,142.5 L447.29999999999995,146.7 Z" stroke="none" stroke-width="0.8" fill="#111" />
<path d="M468.0,171.5 L472.2,173.9 L468.0,176.3 Z" stroke="none" stroke-width="0.8" fill="#111" />
<text x="447.00" y="130.00" font-size="8.2" text-anchor="middle" fill="#000" stroke="#000" stroke-width="0.12" transform="rotate(-90 447 130)" >CD90</text>
<text x="474.30" y="176.50" font-size="8.2" text-anchor="start" fill="#000" stroke="#000" stroke-width="0.12" >CD45RA</text>
<path d="M515.7,146.0 L515.7,173.9 L539.0,173.9" stroke="#111" stroke-width="0.75" fill="none" />
<path d="M513.3000000000001,146.7 L515.7,142.5 L518.1,146.7 Z" stroke="none" stroke-width="0.8" fill="#111" />
<path d="M538.3,171.5 L542.5,173.9 L538.3,176.3 Z" stroke="none" stroke-width="0.8" fill="#111" />
<text x="518.00" y="130.00" font-size="8.2" text-anchor="middle" fill="#000" stroke="#000" stroke-width="0.12" transform="rotate(-90 518 130)" >CD90</text>
<text x="544.60" y="176.50" font-size="8.2" text-anchor="start" fill="#000" stroke="#000" stroke-width="0.12" >CD49f</text>
<path d="M328.3 78.4h0M334.4 66.1h0M329.0 65.2h0M331.6 68.9h0M334.0 56.6h0M335.2 69.1h0M332.1 68.4h0M327.7 72.0h0M332.6 68.0h0M328.3 73.7h0M327.9 58.1h0M331.6 64.5h0M323.4 62.4h0M329.0 60.5h0M324.1 68.5h0M332.9 67.8h0M326.5 71.3h0M332.3 67.3h0M330.4 76.5h0M329.6 63.3h0M330.5 70.9h0M334.7 60.6h0M328.0 62.9h0M323.2 69.0h0M332.1 64.1h0M333.6 75.4h0M331.3 72.1h0M334.2 60.2h0M331.1 73.5h0M322.9 70.5h0M327.8 74.3h0M328.0 68.7h0M331.6 63.1h0M331.7 68.6h0M331.8 65.6h0M332.8 73.7h0M328.2 73.3h0M332.2 82.0h0M323.0 74.3h0M331.2 68.6h0M324.7 77.2h0M324.4 72.3h0M335.7 58.6h0M329.7 59.8h0M328.9 79.6h0M338.4 57.7h0M326.8 73.6h0M334.7 72.7h0M326.6 70.7h0M329.6 67.6h0M326.5 71.3h0M330.7 68.5h0M330.0 60.0h0M326.6 77.1h0M330.2 58.9h0M333.7 73.3h0M337.0 70.5h0M329.3 58.7h0M331.7 87.5h0M327.2 64.1h0M332.4 63.5h0M328.9 66.4h0M329.1 76.7h0M328.7 75.4h0M327.7 71.1h0M323.3 57.9h0M332.9 65.3h0M331.0 73.1h0M333.4 75.3h0M333.2 68.7h0M327.7 63.6h0M328.9 60.9h0M327.6 68.1h0M330.7 66.8h0M322.7 67.5h0M329.2 76.6h0M332.2 64.8h0M325.0 82.6h0M330.4 82.1h0M337.9 64.4h0M330.4 72.4h0M331.0 73.0h0M330.1 70.3h0M324.3 67.1h0M326.7 69.5h0M327.2 73.1h0M332.1 71.6h0M330.5 69.8h0M328.1 67.6h0M327.4 71.4h0M329.0 73.0h0M323.9 74.5h0M327.5 63.5h0M329.3 65.0h0M331.1 65.2h0M326.5 62.6h0M334.1 70.0h0M325.3 68.5h0M322.2 80.6h0M323.6 71.6h0M332.9 59.2h0M329.6 76.1h0M330.9 71.0h0M332.7 70.6h0M330.8 68.3h0M332.7 62.8h0M332.8 65.9h0M325.3 71.0h0M334.6 76.5h0M327.0 73.6h0M328.0 67.9h0M332.1 53.0h0M331.2 62.0h0M328.5 58.4h0M325.0 61.7h0M330.8 81.0h0M328.3 76.6h0M330.4 55.6h0M329.6 72.2h0M327.7 70.9h0M332.4 63.3h0M324.5 66.7h0M329.1 66.4h0M331.3 81.5h0M327.3 73.6h0M332.2 74.4h0M333.6 66.8h0M330.2 83.4h0M333.0 65.1h0M330.4 78.1h0M331.4 65.3h0M336.2 61.1h0M331.3 69.1h0M324.1 76.9h0M331.9 61.1h0M332.1 66.3h0M323.4 63.3h0M329.8 73.5h0M330.0 69.4h0M331.4 67.8h0M333.6 70.6h0M330.0 72.9h0M326.4 63.6h0M334.6 72.1h0M328.2 71.2h0M327.5 70.7h0M326.9 70.6h0M322.6 77.4h0M329.2 57.8h0M329.1 66.3h0M331.2 61.1h0M324.6 70.7h0M328.2 70.2h0M324.2 60.1h0M331.2 69.0h0M336.0 64.9h0M327.7 62.4h0M329.4 68.7h0M332.4 70.3h0M326.6 70.1h0M337.7 79.1h0M319.7 66.6h0M325.8 72.9h0M327.0 82.3h0M332.0 75.6h0M330.2 68.8h0M329.5 78.1h0M331.7 66.8h0M333.9 71.0h0M330.0 63.5h0M328.1 64.3h0M318.6 74.6h0M331.7 67.8h0M332.8 72.6h0M333.2 52.0h0M328.2 72.6h0M333.4 82.6h0M335.7 61.7h0M321.1 71.9h0M328.7 75.7h0M328.8 70.5h0M323.7 71.4h0M327.6 71.2h0M331.3 68.4h0M330.6 69.1h0M331.7 72.9h0M328.1 64.7h0M335.8 69.2h0M332.7 72.2h0M328.2 63.5h0M329.7 70.8h0M332.9 60.5h0M327.5 68.0h0M337.5 53.4h0M331.6 65.5h0M331.5 65.8h0M329.3 80.0h0M330.3 72.2h0M331.6 64.0h0M331.6 67.8h0M326.6 68.3h0M328.0 74.1h0M329.9 65.3h0M333.7 76.6h0M333.4 73.8h0M329.5 66.0h0M327.6 75.4h0M331.3 58.8h0M330.7 59.2h0M331.3 60.7h0M324.9 69.2h0M330.8 57.4h0M330.1 84.4h0M322.4 80.9h0M327.5 65.2h0M330.3 58.9h0M333.7 73.1h0M327.1 66.7h0M324.4 65.8h0M334.5 57.6h0M327.8 69.8h0M331.9 78.9h0M328.6 63.6h0M331.5 66.7h0M327.3 76.3h0M335.3 71.7h0M328.3 72.9h0M322.8 67.9h0M323.4 85.0h0M331.9 70.3h0M331.3 51.5h0M330.5 80.7h0M326.2 73.4h0M333.6 58.6h0M331.5 78.9h0M330.4 68.7h0M333.8 58.7h0M328.8 76.4h0M324.1 75.3h0M330.0 54.4h0M330.1 62.2h0M331.8 61.0h0M334.0 64.4h0M331.3 65.1h0M327.2 77.1h0M330.7 66.4h0M323.9 76.4h0M332.4 67.1h0M331.4 62.0h0M326.7 62.8h0M330.5 71.2h0M326.1 73.7h0M332.1 70.6h0M333.5 67.5h0M328.6 72.2h0M328.6 74.5h0M323.6 78.3h0M326.9 67.5h0M324.0 72.5h0M333.0 77.1h0M334.0 58.6h0M327.2 65.4h0M325.1 76.3h0M330.2 68.9h0M332.2 62.6h0M327.1 62.4h0M330.9 71.6h0M330.5 76.8h0M325.2 64.4h0M331.3 59.7h0M326.6 75.8h0M332.4 77.0h0M329.9 67.6h0M333.7 67.0h0M329.4 78.4h0M328.8 64.6h0M328.9 73.1h0M331.1 70.3h0M333.0 58.2h0M326.3 69.7h0M327.5 59.2h0M326.1 62.0h0M329.9 61.8h0M328.7 80.9h0M327.7 77.8h0M331.6 61.4h0M329.5 62.1h0M333.4 61.4h0M333.7 73.7h0M321.5 73.4h0M335.8 64.3h0M334.8 57.0h0M332.0 57.6h0M333.0 56.8h0M319.7 70.4h0M338.2 66.0h0M332.4 70.2h0M327.7 73.1h0M336.6 61.3h0M331.2 71.7h0M322.8 79.5h0M337.4 63.4h0M335.6 70.3h0M327.5 79.3h0M330.0 71.4h0M333.7 78.7h0M334.0 59.7h0M322.8 76.0h0M326.1 69.6h0M325.8 67.2h0M323.4 79.7h0M326.0 67.6h0M327.7 77.3h0M324.5 68.1h0M328.2 72.6h0M331.6 66.0h0M330.7 66.5h0M331.3 68.5h0M327.2 68.5h0M328.6 84.9h0M327.5 70.9h0M336.7 55.3h0M324.4 59.9h0M326.7 85.9h0M329.7 77.6h0M331.1 51.8h0M320.3 74.9h0M331.4 60.1h0M335.0 58.9h0M332.1 79.6h0M327.9 60.9h0M333.6 61.8h0M333.7 61.1h0M332.3 70.1h0M328.8 62.6h0M332.2 56.0h0M328.9 66.1h0M333.1 60.6h0M335.9 67.7h0M324.1 78.0h0M335.6 68.5h0M326.3 68.7h0M327.3 66.5h0M334.7 72.5h0M329.7 71.5h0M328.5 74.8h0M333.0 66.9h0M327.5 85.8h0M331.2 67.9h0M336.8 70.1h0M324.9 73.1h0M326.8 65.1h0M330.8 68.3h0M327.3 64.8h0M326.2 76.8h0M327.5 64.7h0M337.3 66.2h0M333.5 78.9h0M330.3 59.1h0M330.5 73.9h0M332.9 70.0h0M332.4 79.2h0M324.3 78.4h0M330.7 65.2h0M326.5 81.9h0M334.8 57.1h0M329.9 68.1h0M329.4 65.4h0M323.5 74.2h0M326.5 66.0h0M328.1 63.7h0M331.8 72.0h0M328.0 62.1h0M326.9 75.5h0M329.7 70.7h0M328.6 67.0h0M332.1 56.3h0M336.0 64.3h0" stroke="#222" stroke-width="0.55" stroke-linecap="round" opacity="0.5" fill="none"/>
<path d="M339.9 77.8h0M342.1 73.6h0M339.9 68.5h0M342.0 77.3h0M339.0 77.9h0M338.3 71.2h0M342.9 73.5h0M343.4 71.1h0M338.6 67.5h0M338.1 70.1h0M337.5 74.5h0M339.6 67.1h0M348.5 70.8h0M338.0 77.5h0M344.8 69.8h0M337.4 70.3h0M344.7 72.5h0M339.2 73.4h0M344.9 69.1h0M340.4 69.1h0M347.6 79.3h0M344.2 73.1h0M343.3 66.8h0M342.3 69.2h0M337.8 71.2h0M340.5 75.3h0M343.5 74.3h0M338.9 75.7h0M341.2 77.3h0M338.9 64.7h0M340.2 80.4h0M342.8 72.9h0M344.0 75.1h0M342.8 71.9h0M341.7 74.1h0M339.7 69.9h0M341.9 76.6h0M343.3 75.1h0M342.9 81.8h0M342.2 76.8h0M347.0 73.7h0M342.2 76.8h0M346.2 74.5h0M342.5 73.8h0M338.1 77.1h0M340.8 68.0h0M341.1 68.0h0M338.7 73.6h0M338.9 76.9h0M337.4 74.4h0M343.1 78.2h0M344.1 74.3h0M341.7 73.3h0M344.7 71.4h0M343.0 73.2h0M342.2 72.7h0M347.5 71.4h0M342.2 74.4h0M343.2 75.0h0M342.7 76.7h0M337.3 73.6h0M338.1 74.3h0M338.2 70.5h0M341.4 78.0h0M343.2 74.5h0M345.5 70.5h0M335.7 72.2h0M340.8 77.5h0M347.5 69.3h0M348.5 78.5h0M343.9 74.7h0M348.3 73.8h0M340.2 74.0h0M337.7 75.1h0M341.2 74.6h0M342.5 70.2h0M345.2 70.3h0M344.0 68.4h0M342.6 70.9h0M341.7 71.5h0M335.4 70.0h0M341.7 75.5h0M337.4 66.7h0M339.1 72.9h0M339.8 71.0h0M343.9 76.6h0M343.6 70.5h0M341.8 72.9h0M337.5 76.4h0M341.8 72.0h0M345.5 76.0h0M343.9 77.4h0M343.6 69.5h0M340.5 76.8h0M339.4 73.7h0M342.7 78.2h0M345.2 76.4h0M341.0 76.5h0M343.0 73.0h0M345.3 75.1h0M339.4 77.6h0M340.8 75.4h0M337.3 73.5h0M338.9 70.4h0M336.2 80.4h0M341.1 74.3h0M344.6 73.1h0M343.0 69.2h0M342.1 72.2h0M342.9 74.1h0M337.6 67.6h0M338.7 75.9h0M342.7 74.8h0M335.9 64.9h0M339.8 72.5h0M339.8 74.7h0M341.0 69.7h0M339.1 74.0h0M341.7 73.3h0M347.9 72.7h0M341.8 70.3h0M340.5 75.2h0M343.1 73.0h0M342.6 73.7h0M336.2 63.0h0M348.0 76.2h0M341.3 67.9h0M337.9 77.8h0M333.7 72.5h0M343.9 74.0h0M343.6 73.1h0M348.2 70.2h0M337.7 74.4h0M345.5 73.3h0M344.4 71.8h0M338.2 78.0h0M345.9 78.4h0M340.3 69.8h0M338.2 72.8h0M343.1 75.1h0M337.5 74.1h0M341.5 73.8h0M341.4 72.9h0M343.2 73.9h0M342.1 71.3h0M342.6 73.1h0M335.6 75.0h0M340.8 76.5h0M341.0 73.2h0M342.1 73.5h0M340.2 67.8h0M346.7 68.4h0M340.5 75.6h0M342.6 75.3h0M343.7 77.5h0M342.3 82.8h0M338.7 74.2h0M340.5 71.8h0M342.3 78.2h0M339.5 71.2h0M343.5 75.2h0M347.0 76.8h0M342.1 72.4h0M342.1 72.9h0M337.7 73.5h0M341.0 72.8h0M340.3 78.9h0M343.4 76.5h0M339.8 70.2h0M340.7 74.3h0M340.5 72.9h0M344.2 74.5h0M338.7 72.1h0M339.7 74.1h0M338.2 72.9h0M343.4 73.6h0M338.9 71.5h0M341.8 75.0h0M343.8 73.0h0M337.8 78.1h0M342.3 74.8h0M342.4 70.2h0M340.6 74.3h0M344.4 73.7h0M332.8 72.7h0M342.5 77.6h0M343.5 81.5h0M345.5 77.8h0M344.1 69.1h0M343.9 75.4h0M340.0 75.4h0M342.7 72.0h0M341.2 72.7h0M342.1 72.1h0M343.0 67.4h0M340.7 68.1h0M340.1 75.2h0M341.6 73.1h0M341.7 78.5h0M338.4 76.3h0M337.3 72.0h0M342.0 70.8h0M342.1 75.8h0M338.2 73.3h0M340.4 67.3h0M341.0 70.9h0M345.2 70.7h0M346.3 71.8h0M346.9 75.2h0M342.8 76.1h0M344.0 78.0h0M346.4 72.4h0M338.0 65.0h0M340.4 75.9h0M342.6 73.9h0M340.5 71.5h0M340.7 74.7h0M336.6 75.8h0M337.4 73.0h0M339.7 72.3h0M338.6 69.8h0M340.8 70.0h0M348.4 72.2h0M339.6 71.7h0M338.5 65.6h0M340.8 74.5h0M337.3 73.5h0M338.1 73.4h0M342.5 75.0h0M342.7 71.2h0M343.9 72.0h0M342.5 75.7h0M340.6 69.4h0M343.2 69.9h0M339.0 69.9h0M343.8 72.9h0M335.2 75.8h0M347.3 79.2h0M339.9 73.7h0M342.9 76.3h0M341.6 70.0h0M343.6 75.4h0M337.7 72.3h0M342.2 73.5h0M342.9 76.0h0M343.0 73.1h0M337.7 75.4h0M345.4 79.8h0M341.4 73.3h0M345.5 78.1h0M342.4 75.7h0M339.3 75.3h0M339.1 73.0h0M341.1 72.0h0M335.5 70.8h0M342.4 73.3h0M340.4 74.8h0M343.4 76.2h0M339.2 73.5h0M340.5 70.6h0M337.3 73.1h0M339.0 80.3h0M341.2 72.7h0M340.3 79.4h0M338.8 72.9h0M339.3 73.0h0M341.4 77.0h0M337.5 73.4h0M346.0 71.8h0M341.0 70.6h0M334.1 73.1h0M344.7 71.9h0M336.3 74.3h0M341.7 76.6h0M344.0 72.6h0M342.6 67.7h0M344.6 74.0h0M344.5 76.8h0M340.6 73.0h0M339.0 66.8h0M341.1 73.9h0M338.4 75.7h0M341.7 74.9h0M339.3 67.8h0M343.6 75.4h0M341.1 72.1h0M340.7 73.0h0M340.0 67.0h0M343.6 68.7h0M340.5 72.5h0M342.2 68.3h0M344.8 75.5h0M343.6 77.5h0M339.2 63.4h0M342.4 77.7h0M344.7 71.8h0M341.2 74.4h0M336.4 71.3h0M339.7 78.5h0M339.7 78.5h0" stroke="#333" stroke-width="0.6" stroke-linecap="round" opacity="0.45" fill="none"/>
<path d="M342.0 66.9h0M350.7 64.2h0M340.7 71.0h0M355.1 82.9h0M343.7 61.5h0M337.8 59.9h0M336.6 61.2h0M353.4 57.3h0M351.5 62.6h0M341.5 68.0h0M346.5 67.0h0M338.8 70.4h0M357.7 54.3h0M337.9 71.0h0M343.6 61.3h0M359.7 62.9h0M358.1 71.9h0M336.7 61.7h0M337.8 69.6h0M357.8 55.5h0M336.7 54.9h0M342.6 58.8h0M359.2 76.5h0M358.5 70.8h0M355.7 74.6h0M343.0 72.9h0M342.9 67.5h0M355.7 60.4h0M340.2 78.7h0M347.1 59.0h0M343.6 62.1h0M357.5 67.7h0M358.1 67.6h0M358.5 80.6h0M349.6 76.8h0" stroke="#555" stroke-width="0.5" stroke-linecap="round" opacity="0.5" fill="none"/>
<path d="M341.60,73.70 L345.00,71.00 L346.00,76.00 L342.00,79.00 L338.00,77.00 Z" fill="#666" stroke="none" stroke-width="0.5" opacity="0.5" filter="url(#b1)"/>
<path d="M327.90,60.40 L331.80,62.80 L335.20,68.70 L334.70,75.60 L331.80,80.60 L325.90,81.60 L323.90,79.60 L324.10,69.70 L325.40,63.80 Z" fill="#000" stroke="none" stroke-width="0.5" opacity="0.8" filter="url(#b05)"/>
<path d="M328.40,63.30 L331.20,65.80 L332.70,71.70 L330.60,78.00 L327.30,77.60 L326.80,68.70 Z" fill="#fff" stroke="none" stroke-width="0.5" opacity="1" filter="url(#b05)"/>
<path d="M328.40,63.30 L331.20,65.80 L332.70,71.70 L330.60,78.00 L327.30,77.60 L326.80,68.70 Z" fill="none" stroke="#444" stroke-width="0.4" opacity="1"/>
<path d="M328.60,66.50 L330.20,68.20 L330.80,71.70 L329.50,74.60 L328.50,73.80 L328.40,69.20 Z" fill="none" stroke="#bbb" stroke-width="0.3" opacity="1"/>
<path d="M339.90,53.20 L360.50,53.20 L360.50,83.40 L334.30,83.40 Z" fill="none" stroke="#111" stroke-width="0.75" opacity="1"/>
<path d="M409.8 69.9h0M409.5 62.9h0M406.8 56.0h0M403.1 61.7h0M410.2 61.5h0M395.2 73.9h0M401.5 67.5h0M401.9 64.8h0M405.6 62.4h0M402.6 69.8h0M404.4 62.2h0M404.5 59.8h0M410.1 60.0h0M405.1 63.5h0M397.6 60.8h0M404.6 63.8h0M408.7 61.9h0M400.4 67.0h0M408.0 64.8h0M401.8 58.1h0M405.7 58.2h0M401.9 56.4h0M404.2 58.8h0M410.4 67.0h0M404.8 56.6h0M398.1 61.9h0M406.1 62.9h0M404.3 63.8h0M406.4 64.1h0M408.8 59.4h0M400.1 56.2h0M397.1 63.3h0M399.4 66.2h0M405.8 59.4h0M400.3 62.2h0M402.4 60.9h0M405.1 63.2h0M405.8 65.0h0M403.4 63.4h0M409.0 59.3h0M405.9 61.6h0M400.5 62.3h0M400.2 64.7h0M400.1 62.7h0M407.0 60.1h0M407.5 61.6h0M404.8 59.2h0M408.8 71.8h0M407.9 64.8h0M405.5 65.5h0M397.2 62.4h0M406.1 65.0h0M401.2 63.2h0M401.3 63.1h0M395.9 60.4h0M399.2 57.1h0M398.2 62.7h0M399.8 65.9h0M401.2 63.6h0M397.9 62.4h0M405.4 63.2h0M402.0 65.2h0M403.8 63.1h0M407.6 58.4h0M405.1 63.6h0M399.7 59.4h0M405.7 62.5h0M403.0 62.9h0M401.1 59.8h0M400.2 56.1h0M399.7 57.8h0M403.0 66.1h0M400.9 61.8h0M404.0 61.0h0M400.5 62.4h0M409.3 62.2h0M402.0 57.8h0M402.3 57.2h0M402.1 58.1h0M406.1 53.2h0M408.5 63.2h0M396.0 65.6h0M409.9 64.0h0M395.9 64.4h0M396.6 61.7h0M404.1 70.6h0M402.7 61.9h0M402.8 65.9h0M403.2 58.3h0M405.6 56.2h0M402.6 65.0h0M407.9 58.3h0M406.2 66.8h0M407.1 65.6h0M406.8 61.7h0M406.7 64.8h0M405.7 68.5h0M393.9 63.7h0M408.5 61.5h0M401.2 65.5h0M405.3 58.8h0M405.1 60.9h0M402.1 62.9h0M404.3 56.8h0M402.7 65.9h0M395.3 59.9h0M404.6 61.8h0M402.4 63.7h0M405.1 74.9h0M398.4 63.4h0M396.9 64.3h0M408.0 59.9h0M403.7 60.0h0M409.3 59.8h0M399.9 68.1h0M402.6 65.7h0M403.7 63.5h0M401.3 59.5h0M399.4 69.3h0M402.8 64.2h0M397.0 56.8h0M401.0 70.3h0M399.2 63.2h0M396.5 64.0h0M400.9 62.9h0M401.1 60.9h0M400.6 64.0h0M403.5 61.8h0M409.1 60.1h0M401.9 60.3h0M404.1 57.3h0M395.1 62.8h0M402.5 57.7h0M407.1 60.2h0M396.9 65.1h0M407.1 56.3h0M399.1 67.3h0M409.2 63.8h0M401.8 64.2h0M406.1 66.3h0M409.8 58.2h0M406.4 59.1h0M402.8 58.5h0M400.8 65.9h0M401.3 67.8h0M400.9 64.3h0M401.7 61.9h0M405.2 66.4h0M411.0 52.6h0M403.3 61.7h0M400.0 65.7h0M399.4 64.4h0M402.9 53.4h0M404.4 63.9h0M400.3 66.6h0M403.1 61.0h0M404.2 55.9h0M404.4 60.8h0M398.6 64.4h0M403.0 66.4h0M397.0 65.2h0M404.2 69.3h0M400.9 68.8h0M397.2 67.6h0M402.9 64.5h0M396.2 57.5h0M399.8 70.5h0M401.6 59.5h0M404.2 58.5h0M397.6 60.2h0M410.5 67.3h0M399.8 65.8h0M410.1 68.2h0M394.5 68.2h0M401.8 56.4h0M404.3 62.7h0M403.8 59.4h0M402.7 59.9h0M404.9 62.2h0M398.3 58.7h0M410.4 63.4h0M404.2 58.8h0M404.6 69.3h0M403.4 58.4h0M402.9 63.3h0M399.9 60.0h0M408.0 62.4h0M398.7 57.8h0M400.5 64.0h0M404.8 59.9h0M406.6 61.1h0M394.4 54.7h0M395.5 60.1h0M402.7 64.3h0M407.4 60.1h0M403.3 73.4h0M403.1 61.4h0M399.0 58.7h0M405.5 62.9h0M410.3 63.5h0M408.1 65.5h0M400.7 61.9h0M400.0 58.7h0M401.5 62.1h0M404.9 61.5h0M396.1 66.8h0M403.9 53.7h0M400.1 64.5h0M397.0 63.7h0M400.3 58.2h0M404.5 63.8h0M398.4 65.6h0M406.1 60.2h0M405.5 64.3h0M403.9 66.8h0M402.1 58.7h0M406.3 64.9h0M404.3 59.1h0M407.1 66.8h0M406.0 66.6h0M407.3 60.2h0M404.5 60.6h0M406.4 60.5h0M400.9 64.0h0M403.4 64.4h0M402.1 58.0h0M401.3 65.5h0M404.7 62.3h0M414.2 61.6h0M404.1 65.7h0M408.3 61.6h0M397.1 66.8h0M407.4 70.3h0M399.7 72.0h0M404.3 66.5h0M402.3 64.2h0M407.1 61.0h0M406.5 60.6h0M401.2 63.1h0M401.1 63.6h0M405.4 56.2h0M397.3 66.3h0M411.0 63.3h0M410.2 64.7h0M400.8 64.9h0M392.7 66.2h0M402.1 56.4h0M393.4 62.7h0M406.2 66.6h0M415.0 62.8h0M393.3 58.0h0M405.8 66.4h0M396.6 64.5h0M401.7 64.1h0M403.7 65.2h0M407.1 61.2h0M409.9 68.5h0M397.7 61.5h0M408.8 68.5h0M406.1 66.6h0" stroke="#222" stroke-width="0.55" stroke-linecap="round" opacity="0.45" fill="none"/>
<path d="M396.5 75.9h0M395.9 74.0h0M397.9 71.8h0M399.9 77.2h0M396.0 75.8h0M393.8 76.6h0M402.7 73.0h0M398.2 69.3h0M398.9 65.2h0M398.6 66.7h0M396.4 69.9h0M397.1 55.1h0M401.4 70.1h0M393.9 77.6h0M397.2 70.6h0M398.7 61.8h0M391.4 68.2h0M397.7 77.0h0M395.7 66.9h0M398.0 66.5h0M396.8 71.0h0M395.3 81.7h0M395.4 69.3h0M396.6 63.3h0M398.3 77.1h0M400.2 73.6h0M396.3 75.9h0M394.4 69.4h0M398.3 73.5h0M394.9 57.0h0M400.6 64.8h0M393.9 59.0h0M397.2 78.3h0M397.2 78.4h0M397.7 72.6h0M399.2 65.8h0M397.8 65.6h0M395.9 74.0h0M395.5 69.3h0M395.6 68.0h0M396.1 77.4h0M397.3 69.2h0M400.4 45.4h0M394.9 46.6h0M397.1 72.0h0M398.4 70.6h0M395.4 82.4h0M397.7 66.3h0M394.8 71.7h0M396.1 64.7h0M397.5 70.0h0M395.4 78.3h0M395.1 59.3h0M397.7 69.2h0M397.2 64.9h0M397.1 63.7h0M393.7 74.1h0M395.0 66.3h0M398.5 68.4h0M402.5 57.0h0M395.5 68.9h0M399.7 66.1h0M394.2 77.3h0M395.2 66.5h0M398.8 62.8h0M396.1 72.0h0M396.6 70.4h0M395.1 67.1h0M394.8 55.6h0M400.5 71.7h0M398.8 60.3h0M397.0 66.4h0M394.2 72.4h0M395.6 66.4h0M394.0 76.0h0M398.5 71.2h0M395.2 63.7h0M399.5 65.8h0M397.5 69.2h0M394.8 80.2h0M393.0 69.8h0M396.8 55.1h0M397.7 72.2h0M397.1 61.4h0M397.9 77.0h0M397.5 81.8h0M398.7 74.2h0M399.8 62.7h0M396.0 72.2h0M398.0 80.1h0M399.3 69.5h0M397.5 65.9h0M396.3 64.5h0M398.8 64.3h0M396.3 69.4h0M396.0 66.3h0M392.7 71.2h0M396.4 69.7h0M397.8 53.4h0M401.9 69.6h0M397.5 54.2h0M398.4 71.9h0M396.5 70.8h0M399.8 66.2h0M395.4 79.7h0M397.8 67.7h0M401.9 70.4h0M396.9 71.3h0M396.5 70.9h0M397.6 63.9h0M396.8 71.6h0M398.0 73.8h0M398.8 71.1h0M398.3 66.0h0M396.7 77.3h0M393.3 71.9h0M403.6 54.1h0M400.2 54.8h0M397.9 81.8h0M400.2 61.4h0M394.6 57.1h0M398.6 65.4h0M397.1 70.6h0M397.9 72.7h0M397.4 55.6h0M400.0 46.4h0M399.6 63.5h0M396.7 64.2h0M396.3 68.2h0M396.5 59.5h0M398.8 63.7h0M399.8 67.1h0M395.7 71.8h0M398.9 60.9h0M396.5 79.7h0M395.1 61.5h0M397.4 58.6h0M392.1 55.0h0M397.8 73.5h0M398.3 71.4h0M394.6 73.7h0M399.4 62.7h0M399.0 65.4h0M397.5 71.2h0M394.1 80.0h0M395.4 67.5h0M396.1 72.0h0M397.9 68.5h0M399.9 70.6h0M396.3 45.3h0M396.5 66.0h0M395.3 61.4h0M398.3 76.7h0M400.9 77.5h0M395.7 70.4h0M394.4 74.2h0M397.8 63.4h0M396.9 66.3h0M395.8 78.9h0M403.3 74.9h0M399.2 69.6h0M396.4 85.9h0M396.4 71.5h0M396.8 73.1h0M397.0 73.1h0M394.6 67.5h0M399.8 60.1h0M395.8 79.3h0M397.9 76.9h0M392.6 69.5h0M394.5 57.2h0M397.9 77.8h0M394.1 59.5h0M395.9 67.3h0M394.4 86.4h0M398.3 65.4h0M396.0 86.9h0M401.6 64.4h0M397.8 78.4h0M394.7 63.6h0M399.8 62.7h0M396.2 57.4h0M395.5 73.7h0M395.4 57.7h0M395.8 82.4h0M397.4 63.7h0M397.3 71.7h0M397.3 53.6h0M397.6 66.4h0M398.7 57.2h0M399.1 64.1h0M393.6 78.8h0M396.0 71.1h0M396.7 76.9h0M399.2 77.0h0M398.4 55.0h0M393.6 69.6h0M395.1 71.8h0M397.3 56.6h0M394.9 58.9h0M395.2 66.3h0M398.4 78.8h0M395.0 63.4h0M400.1 75.2h0M397.5 49.0h0M395.0 69.3h0M395.8 84.0h0M397.2 70.3h0M394.8 59.5h0M395.6 62.9h0M396.5 71.0h0M397.5 76.1h0M394.3 69.7h0M397.5 80.8h0M396.6 70.6h0M395.3 71.4h0M397.8 62.9h0M396.1 67.7h0M398.2 58.7h0M398.8 65.3h0M400.8 79.8h0M396.2 62.9h0M402.0 73.1h0M398.1 64.6h0M396.7 74.5h0M398.2 61.3h0M399.5 70.5h0M395.1 76.0h0M396.6 74.3h0M395.9 70.9h0M393.7 71.0h0M393.9 69.3h0M391.9 67.5h0M398.5 71.9h0M399.4 59.3h0M400.2 81.0h0M394.6 61.6h0M395.8 67.8h0M397.4 48.0h0M398.2 65.9h0M394.9 75.6h0M396.3 77.1h0M398.1 65.4h0M399.4 74.5h0M396.0 55.0h0M395.9 72.9h0M396.5 82.2h0M397.5 69.5h0M397.8 60.8h0M396.7 62.6h0" stroke="#111" stroke-width="0.55" stroke-linecap="round" opacity="0.5" fill="none"/>
<path d="M402.4 68.3h0M412.4 71.8h0M409.6 69.1h0M408.1 75.0h0M410.3 71.6h0M414.9 72.8h0M408.9 76.0h0M404.4 74.4h0M406.4 70.9h0M407.8 73.3h0M410.3 73.8h0M410.7 76.7h0M415.4 74.8h0M412.4 72.0h0M406.4 74.5h0M410.1 75.2h0M404.1 80.0h0M405.9 73.1h0M413.2 69.4h0M408.2 67.7h0M405.4 67.9h0M410.3 73.8h0M409.0 76.3h0M414.5 73.0h0M409.3 72.3h0M408.5 76.4h0M410.8 72.1h0M409.3 74.4h0M408.7 73.8h0M409.9 76.5h0M413.7 69.3h0M409.5 74.9h0M408.6 75.1h0M411.1 74.6h0M409.8 73.8h0M411.7 69.2h0M407.1 70.3h0M415.4 73.8h0M411.2 73.5h0M408.3 71.1h0M412.7 72.0h0M415.1 73.5h0M410.3 72.4h0M409.8 73.1h0M414.9 79.1h0M406.3 73.7h0M412.3 70.7h0M408.0 71.8h0M402.3 74.7h0M409.9 72.8h0M410.3 73.7h0M417.5 73.5h0M412.7 71.7h0M411.2 72.2h0M409.6 70.7h0M407.4 74.2h0M412.4 74.2h0M407.9 73.9h0M401.9 75.5h0M409.9 73.7h0M413.8 71.9h0M413.1 71.9h0M411.8 72.0h0M411.0 76.8h0M408.0 71.5h0M409.0 73.8h0M418.9 71.6h0M403.5 71.4h0M405.0 71.6h0M410.1 70.6h0M407.9 68.2h0M410.7 71.1h0M413.6 75.8h0M407.3 72.1h0M410.3 75.1h0M404.7 72.9h0M416.1 72.9h0M410.8 73.1h0M406.3 75.6h0M411.0 73.5h0M412.5 75.2h0M404.1 74.4h0M408.3 73.5h0M407.8 70.9h0M413.2 73.1h0M409.2 72.4h0M410.4 73.1h0M402.6 70.9h0M409.4 75.1h0M414.5 70.7h0M416.4 73.4h0M411.8 71.8h0M408.3 76.9h0M409.5 72.9h0M413.9 77.7h0M405.4 72.7h0M410.2 77.9h0M418.2 73.1h0M411.5 75.5h0M414.0 72.4h0M413.0 71.4h0M401.7 69.7h0M411.0 75.3h0M403.1 68.6h0M410.2 64.5h0M412.1 76.0h0M400.8 75.3h0M409.8 77.0h0M411.3 72.7h0M410.8 75.8h0M411.0 73.4h0M405.8 74.6h0M410.5 78.1h0M410.4 73.1h0M408.4 75.2h0M409.8 71.5h0M415.6 78.0h0M409.0 70.7h0M414.1 71.2h0M419.5 73.0h0M413.6 70.0h0M410.4 76.2h0M411.9 72.0h0M418.4 75.3h0M409.7 71.8h0M409.6 76.9h0M408.0 73.5h0M407.9 76.7h0M410.0 75.7h0M412.3 71.9h0M412.7 75.9h0M406.8 75.2h0M421.9 72.6h0M412.6 69.9h0M412.0 71.9h0M413.0 73.3h0M406.7 76.3h0M409.8 70.7h0M410.7 70.9h0M411.8 73.2h0M409.3 75.2h0M406.4 76.0h0M404.0 77.6h0M411.1 72.7h0M408.1 74.8h0M410.0 72.9h0M413.8 72.3h0M409.7 74.5h0M414.0 73.0h0M411.0 73.5h0M412.9 77.3h0M407.5 73.1h0M410.3 75.0h0M415.4 73.4h0M411.2 76.4h0M406.5 71.4h0M409.0 73.4h0M411.2 72.0h0M416.2 71.5h0M409.8 76.3h0M413.0 73.4h0M411.7 75.5h0M410.4 75.1h0M407.5 73.6h0M405.1 71.0h0M406.8 76.7h0M409.0 74.2h0M407.5 72.8h0M409.5 71.1h0M413.2 69.0h0M412.5 80.4h0M407.8 73.4h0M405.3 73.3h0M404.7 75.0h0M408.8 68.4h0M406.1 69.1h0M409.4 75.5h0M409.0 70.1h0M407.6 73.5h0M402.3 74.8h0M411.6 66.7h0M414.1 68.8h0M409.5 76.3h0M404.8 68.2h0M406.5 70.3h0M409.7 71.7h0M408.5 71.8h0M409.5 70.8h0M411.2 73.1h0M406.8 77.9h0M406.0 75.1h0M407.7 74.1h0M411.8 75.4h0M414.8 70.9h0M419.5 74.2h0M407.5 69.5h0M417.9 77.5h0M410.1 75.2h0M414.5 73.4h0M408.8 73.1h0" stroke="#333" stroke-width="0.55" stroke-linecap="round" opacity="0.45" fill="none"/>
<path d="M410.1 67.4h0M418.7 61.2h0M414.8 64.1h0M412.0 83.8h0M415.7 48.7h0M419.6 66.5h0M421.3 52.6h0M421.3 72.2h0M415.2 66.4h0M421.4 79.0h0M413.4 61.9h0M411.0 65.7h0M407.2 56.6h0M415.9 76.5h0M420.3 53.9h0M409.6 54.8h0M415.3 59.2h0M409.8 50.5h0M417.9 82.5h0M406.5 66.1h0M418.1 80.2h0M410.3 50.2h0M417.8 74.3h0M411.1 84.4h0M416.9 69.1h0M414.6 51.0h0M421.3 84.6h0M407.0 76.4h0M414.4 62.6h0M414.6 52.5h0" stroke="#555" stroke-width="0.5" stroke-linecap="round" opacity="0.5" fill="none"/>
<path d="M398.60,53.00 L412.00,63.00 L413.00,71.00 L405.00,72.00 L399.00,68.00 Z" fill="#333" stroke="none" stroke-width="0.5" opacity="0.35" filter="url(#b1)"/>
<path d="M395.80,48.50 L397.00,48.50 L398.60,60.00 L399.60,69.00 L393.80,69.00 L394.80,60.00 Z" fill="#000" stroke="none" stroke-width="0.5" opacity="0.95" filter="url(#b05)"/>
<path d="M393.00,69.00 L401.00,68.50 L405.50,72.00 L405.50,79.00 L401.00,81.00 L393.50,81.00 L392.50,76.00 Z" fill="#000" stroke="none" stroke-width="0.5" opacity="0.88" filter="url(#b05)"/>
<ellipse cx="400.5" cy="74" rx="3.3" ry="3.0" transform="rotate(0 400.5 74)" fill="#fff" opacity="1" filter="url(#b05)"/>
<ellipse cx="400.5" cy="74" rx="2.4" ry="2.1" transform="rotate(0 400.5 74)" fill="none" stroke="#777" stroke-width="0.4" opacity="1"/>
<ellipse cx="400.5" cy="74" rx="1.2" ry="1.0" transform="rotate(0 400.5 74)" fill="none" stroke="#aaa" stroke-width="0.35" opacity="1"/>
<rect x="406.30" y="68.30" width="22.20" height="17.20" stroke="#111" stroke-width="0.75" fill="none" />
<path d="M478.3 73.5h0M472.8 76.3h0M470.8 75.6h0M470.6 69.9h0M467.8 79.1h0M465.6 71.8h0M480.1 79.2h0M477.5 75.2h0M471.6 77.7h0M472.9 74.9h0M463.6 72.8h0M463.4 80.4h0M468.4 74.6h0M471.6 75.2h0M472.7 73.1h0M463.3 80.9h0M467.0 73.6h0M466.6 73.4h0M470.3 77.6h0M465.4 76.1h0M467.1 79.0h0M464.5 75.5h0M473.4 70.7h0M470.7 75.6h0M466.5 74.4h0M474.7 75.9h0M468.2 74.4h0M472.2 79.2h0M473.7 77.5h0M477.2 70.1h0M463.6 67.7h0M473.9 67.7h0M469.9 77.5h0M463.7 72.9h0M468.9 77.4h0M463.2 76.1h0M473.2 75.5h0M470.8 79.1h0M471.0 75.0h0M468.5 77.1h0M468.7 77.1h0M470.5 78.7h0M466.4 75.3h0M471.6 76.3h0M475.1 76.3h0M474.1 81.3h0M473.8 71.6h0M463.6 77.2h0M468.3 75.9h0M469.2 79.2h0M475.4 71.4h0M471.3 74.0h0M464.1 77.1h0M469.4 76.4h0M481.2 79.3h0M475.0 73.7h0M464.7 79.0h0M468.6 75.2h0M468.3 75.3h0M480.9 74.0h0M468.7 75.7h0M471.3 71.2h0M462.0 73.1h0M469.0 72.5h0M465.5 72.0h0M468.2 74.6h0M462.6 73.2h0M471.5 74.5h0M463.8 73.8h0M469.8 77.4h0M462.6 77.1h0M467.8 75.6h0M472.9 72.1h0M466.2 74.5h0M473.1 73.2h0M463.5 72.7h0M471.6 78.6h0M467.6 73.8h0M469.0 74.4h0M465.6 73.5h0M470.8 75.2h0M469.9 71.7h0M467.3 72.6h0M474.5 79.5h0M471.3 79.9h0M468.5 73.9h0M464.0 75.6h0M467.8 75.2h0M472.0 74.1h0M464.8 74.7h0M469.5 75.0h0M472.9 74.2h0M468.6 80.4h0M474.6 74.6h0M465.7 73.5h0M471.6 77.6h0M480.6 74.1h0M470.6 73.8h0M470.3 73.7h0M465.2 78.2h0M470.5 79.0h0M467.7 75.8h0M472.9 69.0h0M464.1 77.4h0M470.4 69.2h0M466.7 71.7h0M467.9 79.9h0M467.5 81.4h0M468.9 72.7h0M477.0 78.0h0M476.2 81.2h0M474.8 78.9h0M462.4 72.5h0M472.1 75.7h0M473.3 73.6h0M475.1 81.5h0M472.8 77.8h0M472.4 78.1h0M471.2 73.5h0M471.1 75.5h0M463.4 75.9h0M470.3 75.8h0M467.8 76.7h0M473.0 72.9h0M471.6 77.6h0M473.5 72.2h0M465.6 75.2h0M465.5 83.0h0M466.5 72.6h0M473.0 73.6h0M459.6 74.6h0M465.6 73.4h0M462.8 72.1h0M469.2 74.7h0M465.0 72.7h0M466.1 75.3h0M469.2 70.9h0M472.7 72.6h0M471.5 71.9h0M471.1 74.5h0M470.0 76.4h0M471.7 75.3h0M470.5 70.8h0M469.4 67.9h0M459.8 73.8h0M468.7 79.5h0M472.7 78.3h0M468.4 76.2h0M474.9 76.5h0M471.4 75.2h0M465.7 72.0h0M463.5 76.2h0M468.6 72.8h0M471.4 73.1h0M474.5 80.9h0M471.9 72.7h0M463.2 81.3h0M471.9 71.2h0M474.7 69.7h0M467.9 74.2h0M468.3 71.3h0M480.6 73.7h0M471.6 75.0h0M462.8 73.2h0M470.8 77.9h0M468.4 76.1h0M468.4 76.8h0M458.9 76.9h0M467.2 73.1h0M457.2 71.6h0M472.7 82.3h0M466.8 72.9h0M472.1 75.9h0M467.3 74.4h0M468.2 76.9h0M473.5 80.6h0M474.1 77.1h0M470.7 78.0h0M465.6 81.8h0M471.2 79.5h0M466.4 78.3h0M471.8 74.4h0M467.0 72.2h0M478.0 78.9h0M470.5 75.6h0M466.7 69.1h0M462.0 73.1h0M469.3 71.3h0M473.6 76.6h0M470.7 69.4h0M469.0 74.9h0M464.3 68.0h0M478.6 77.0h0M468.3 80.1h0M475.0 76.4h0M471.0 77.5h0M476.6 75.2h0M469.0 76.9h0M457.3 75.3h0M468.2 74.9h0M469.2 76.1h0M470.5 75.2h0M469.4 76.5h0M467.7 78.1h0M462.4 75.6h0M472.0 70.9h0M468.1 79.2h0M469.4 72.2h0M456.6 76.1h0M470.5 77.0h0M479.2 75.0h0M470.6 72.8h0M469.7 74.9h0M473.4 76.8h0M466.6 73.5h0M476.2 71.9h0M473.4 80.2h0M472.9 75.8h0M476.1 76.1h0M470.0 74.4h0M475.2 77.2h0M477.0 73.9h0M468.6 73.6h0M471.3 72.8h0M474.2 76.1h0M465.6 65.5h0M461.8 79.6h0M469.7 75.5h0M468.1 76.3h0M461.3 68.6h0M462.6 75.2h0M473.2 76.5h0M469.4 70.9h0M473.6 74.1h0M469.9 74.8h0M467.9 72.7h0M467.3 70.9h0M471.1 74.4h0M474.6 69.2h0M475.3 74.8h0M469.2 72.4h0M466.3 70.2h0M474.0 74.3h0M473.2 77.6h0M467.7 74.2h0M468.4 78.3h0M470.6 75.5h0M473.2 74.7h0M479.2 72.0h0M475.6 79.5h0M464.9 77.8h0M471.3 77.8h0M464.6 75.8h0M465.6 73.9h0M476.4 74.6h0M459.9 70.5h0M464.9 78.3h0M466.9 70.0h0M475.0 75.8h0M471.5 72.4h0M476.4 74.6h0M461.1 71.4h0M466.2 74.5h0M473.4 72.7h0M467.3 82.1h0M470.4 73.3h0M470.1 71.0h0M472.4 78.1h0M467.4 78.2h0M468.7 75.9h0M466.7 72.4h0M463.3 75.7h0M468.7 74.2h0M464.9 71.3h0M467.2 76.5h0M471.4 72.8h0M471.3 80.6h0M470.5 81.5h0M472.0 79.3h0M467.6 78.8h0M464.7 75.8h0M468.5 68.6h0M463.9 78.6h0M472.2 79.1h0M470.9 65.7h0M471.1 73.2h0M467.7 73.6h0M466.5 71.9h0M475.6 76.4h0M467.0 73.6h0M474.4 76.2h0M470.9 71.1h0M468.0 71.4h0M461.3 77.8h0M468.5 73.7h0M465.6 77.4h0M479.4 76.8h0M474.1 71.0h0M470.8 75.7h0M476.7 75.0h0" stroke="#222" stroke-width="0.55" stroke-linecap="round" opacity="0.5" fill="none"/>
<path d="M468.3 65.7h0M469.1 71.7h0M470.8 67.3h0M470.1 69.3h0M469.0 62.3h0M466.8 70.7h0M470.6 68.5h0M469.8 72.6h0M468.2 70.8h0M468.4 64.1h0M467.8 66.3h0M469.3 67.7h0M468.8 60.4h0M470.7 71.1h0M470.9 65.7h0M470.4 59.1h0M469.2 70.6h0M470.5 62.5h0M471.1 65.4h0M470.9 60.3h0M468.9 67.2h0M470.2 68.1h0M469.7 65.1h0M470.5 69.4h0M467.3 64.6h0M469.4 66.5h0M471.4 60.6h0M470.6 59.0h0M468.6 63.8h0M469.3 63.5h0M468.9 64.5h0M469.3 58.6h0M467.5 64.2h0M470.6 69.9h0M474.3 66.3h0M468.5 66.6h0M470.9 66.5h0M468.1 65.5h0M469.7 60.3h0M467.8 70.7h0M466.2 66.6h0M469.4 71.4h0M470.7 62.5h0M471.8 63.7h0M472.9 72.5h0M469.6 69.0h0M470.1 62.3h0M471.5 67.6h0M471.1 70.2h0M472.0 70.1h0M469.6 66.3h0M470.4 65.5h0M469.4 73.4h0M470.6 73.5h0M468.6 65.8h0M469.1 64.4h0M469.3 65.5h0M469.1 73.1h0M470.9 63.0h0M468.9 68.9h0M470.7 63.6h0M471.3 60.3h0M469.0 72.8h0M465.7 65.2h0M471.4 65.4h0M468.6 62.5h0M466.5 60.7h0M469.9 63.7h0M469.8 65.4h0M470.2 59.4h0M469.3 64.7h0M469.3 62.5h0M466.3 68.5h0M471.1 75.4h0M471.0 72.5h0M470.7 64.5h0M470.6 61.4h0M470.2 65.6h0M468.1 70.8h0M471.6 67.8h0M471.1 72.5h0M469.6 60.6h0M468.3 68.8h0M470.2 60.1h0M471.9 66.9h0M472.4 70.5h0M469.1 66.4h0M468.6 62.7h0M469.3 68.0h0M472.0 62.5h0M470.9 66.2h0M469.5 70.5h0M469.3 71.5h0M469.3 62.4h0M471.1 60.3h0M468.0 65.4h0M469.8 65.0h0M466.7 60.8h0M470.7 68.3h0M468.2 67.2h0M470.2 70.2h0M468.7 71.9h0M469.4 71.9h0M471.3 62.1h0M469.4 67.3h0M471.5 60.6h0M469.1 68.6h0M470.6 62.0h0M468.4 67.8h0M468.2 67.1h0M471.3 66.2h0M465.6 70.8h0M471.7 71.8h0M471.2 59.4h0M472.1 67.5h0M471.4 65.5h0M469.5 65.2h0M472.4 67.2h0M469.5 61.0h0M470.6 66.2h0" stroke="#444" stroke-width="0.55" stroke-linecap="round" opacity="0.45" fill="none"/>
<path d="M478.7 72.0h0M472.6 70.0h0M473.9 77.0h0M479.9 77.9h0M471.2 80.2h0M476.9 72.3h0M484.7 77.4h0M479.7 76.7h0M466.0 76.1h0M480.4 77.3h0M470.3 75.2h0M480.5 79.9h0M470.6 76.3h0M467.4 71.9h0M473.6 70.2h0M473.1 79.6h0M472.0 71.7h0M468.1 76.1h0M474.0 76.9h0M474.0 75.8h0M474.1 73.2h0M466.2 73.1h0M480.8 73.8h0M481.4 70.5h0M480.1 79.1h0" stroke="#555" stroke-width="0.5" stroke-linecap="round" opacity="0.5" fill="none"/>
<ellipse cx="469" cy="76" rx="5" ry="3.6" transform="rotate(0 469 76)" fill="#000" opacity="0.95" filter="url(#b05)"/>
<ellipse cx="467.8" cy="76.2" rx="1.3" ry="0.9" transform="rotate(0 467.8 76.2)" fill="#fff" opacity="0.9" filter="url(#b05)"/>
<ellipse cx="469" cy="76" rx="3.6" ry="2.5" transform="rotate(0 469 76)" fill="none" stroke="#555" stroke-width="0.35" opacity="1"/>
<rect x="457.40" y="46.40" width="19.30" height="23.10" stroke="#111" stroke-width="0.75" fill="none" />
<path d="M541.0 66.9h0M536.3 69.6h0M539.2 73.4h0M542.0 60.2h0M539.5 64.5h0M530.3 68.6h0M536.5 65.8h0M533.0 63.2h0M536.4 61.4h0M536.7 67.5h0M536.6 68.2h0M536.8 62.6h0M533.7 67.5h0M540.1 67.6h0M535.4 67.7h0M531.3 63.3h0M535.8 66.8h0M536.0 66.0h0M533.2 64.8h0M537.8 60.0h0M533.2 65.7h0M541.7 69.6h0M542.0 72.1h0M535.6 66.7h0M533.3 71.5h0M539.3 69.2h0M539.1 68.7h0M537.7 68.0h0M540.9 64.0h0M533.7 67.0h0M540.7 67.9h0M536.4 70.2h0M537.4 59.8h0M533.8 59.1h0M536.3 65.3h0M538.4 75.0h0M535.1 67.0h0M535.8 56.4h0M534.6 64.3h0M537.9 63.8h0M532.9 69.2h0M536.8 63.6h0M534.6 65.9h0M539.6 72.4h0M532.9 71.4h0M537.2 68.4h0M540.1 63.4h0M539.8 62.1h0M535.5 63.8h0M542.4 73.2h0M539.4 69.0h0M535.3 73.6h0M541.5 70.4h0M536.7 65.7h0M536.8 72.1h0M534.0 67.5h0M542.3 70.4h0M542.6 68.7h0M538.4 72.3h0M539.2 68.4h0M535.5 61.5h0M541.8 65.6h0M534.7 70.4h0M534.3 62.1h0M535.3 66.9h0M538.0 69.1h0M540.2 66.7h0M538.3 66.8h0M535.1 68.7h0M538.3 74.2h0M539.1 64.6h0M539.0 66.2h0M542.2 60.8h0M535.1 64.7h0M537.5 66.7h0M532.1 60.2h0M537.7 72.7h0M541.8 65.7h0M538.6 63.9h0M532.6 71.8h0M539.3 65.9h0M536.0 70.6h0M538.2 65.9h0M538.1 67.2h0M535.9 64.5h0M540.1 65.4h0M533.5 74.0h0M541.1 69.2h0M537.0 67.9h0M532.6 67.1h0M538.0 66.5h0M538.5 64.3h0M537.7 61.3h0M537.1 64.9h0M533.0 65.7h0M537.2 64.9h0M540.1 64.6h0M540.1 69.9h0M535.2 72.5h0M532.8 69.1h0M537.3 70.0h0M532.2 62.7h0M534.5 67.2h0M537.4 67.2h0M536.3 64.5h0M532.8 65.5h0M538.7 70.9h0M535.5 71.1h0M532.8 69.9h0M533.6 68.0h0M534.0 63.4h0M535.3 72.3h0M535.0 69.4h0M537.5 68.2h0M538.0 69.4h0M533.3 67.2h0M538.1 64.9h0M538.2 63.3h0M539.3 64.4h0M536.2 70.0h0M540.4 64.9h0M535.0 70.7h0M528.0 72.0h0M541.1 63.1h0M540.8 68.4h0M538.5 58.4h0M535.5 66.3h0M535.8 65.6h0M536.1 56.4h0M536.4 64.5h0M536.8 65.2h0M537.0 68.1h0M542.6 64.0h0M542.3 66.1h0M534.2 61.6h0M539.7 61.4h0M539.9 68.3h0M535.2 64.5h0M538.5 67.6h0M539.3 67.0h0M535.4 69.0h0M533.3 70.2h0M537.2 62.8h0M533.8 65.8h0M531.3 72.2h0M540.0 62.9h0M536.6 73.3h0M538.3 63.2h0M530.2 60.9h0M540.7 68.2h0" stroke="#333" stroke-width="0.55" stroke-linecap="round" opacity="0.4" fill="none"/>
<path d="M543.4 67.2h0M543.8 65.2h0M544.1 68.5h0M541.7 70.0h0M542.7 67.3h0M543.3 67.8h0M549.6 66.0h0M545.7 69.9h0M546.9 65.6h0M543.3 68.9h0M548.0 65.2h0M546.1 64.0h0M548.8 69.3h0M548.3 68.0h0M542.3 69.4h0M547.0 69.3h0M548.5 69.2h0M549.1 68.1h0M547.0 65.0h0M543.5 69.4h0" stroke="#666" stroke-width="0.5" stroke-linecap="round" opacity="0.5" fill="none"/>
<ellipse cx="536.5" cy="66.8" rx="4.6" ry="6" transform="rotate(0 536.5 66.8)" fill="#555" opacity="0.9" filter="url(#b05)"/>
<ellipse cx="536.7" cy="68.5" rx="3.2" ry="4" transform="rotate(0 536.7 68.5)" fill="#000" opacity="0.9" filter="url(#b05)"/>
<ellipse cx="536.5" cy="66.8" rx="4.4" ry="5.8" transform="rotate(0 536.5 66.8)" fill="none" stroke="#222" stroke-width="0.4" opacity="1"/>
<ellipse cx="536.5" cy="66.8" rx="3.08" ry="4.06" transform="rotate(0 536.5 66.8)" fill="none" stroke="#222" stroke-width="0.4" opacity="1"/>
<ellipse cx="536.5" cy="66.8" rx="1.7600000000000002" ry="2.32" transform="rotate(0 536.5 66.8)" fill="none" stroke="#222" stroke-width="0.4" opacity="1"/>
<ellipse cx="536.8" cy="69" rx="0.8" ry="0.8" transform="rotate(0 536.8 69)" fill="#fff" opacity="0.9" filter="url(#b05)"/>
<rect x="542.20" y="49.50" width="25.30" height="23.40" stroke="#111" stroke-width="0.75" fill="none" />
<path d="M320.00,158.50 L320.50,130.00 L327.00,117.00 L337.00,114.00 L347.00,116.50 L351.00,128.00 L350.50,152.00 L344.00,158.50 Z" fill="#555" stroke="none" stroke-width="0.5" opacity="0.45" filter="url(#b2)"/>
<path d="M338.6 137.5h0M352.1 138.3h0M327.1 146.9h0M339.8 123.0h0M329.3 145.6h0M323.7 134.0h0M342.6 135.1h0M337.8 129.9h0M330.7 129.9h0M331.6 143.6h0M333.7 158.5h0M339.1 140.4h0M352.9 137.4h0M328.5 138.1h0M325.9 141.9h0M345.2 144.9h0M331.9 135.1h0M337.7 150.2h0M332.2 132.2h0M343.4 140.1h0M337.3 142.5h0M329.0 134.9h0M343.6 136.1h0M333.2 140.2h0M328.5 138.0h0M351.0 138.8h0M339.4 121.5h0M341.9 147.2h0M341.7 135.7h0M338.0 136.6h0M341.8 137.5h0M342.5 123.1h0M333.1 145.4h0M327.5 132.7h0M328.2 131.0h0M332.7 120.7h0M325.4 158.5h0M332.1 146.8h0M325.1 134.9h0M339.5 135.6h0M331.2 134.7h0M334.5 146.1h0M345.8 123.5h0M318.9 133.5h0M334.4 144.8h0M344.1 130.5h0M351.1 141.3h0M320.1 146.3h0M336.9 140.4h0M322.7 132.6h0M336.4 135.5h0M339.3 151.2h0M345.9 151.7h0M332.2 155.7h0M336.3 146.5h0M334.4 121.7h0M316.9 137.5h0M329.7 136.5h0M343.6 121.0h0M320.8 138.7h0M338.2 134.3h0M332.4 119.3h0M335.1 128.9h0M337.5 147.7h0M330.2 141.2h0M335.8 144.8h0M346.5 145.3h0M339.9 146.2h0M331.7 136.7h0M336.6 150.8h0M326.4 135.8h0M321.9 130.0h0M320.9 148.6h0M342.0 125.9h0M337.0 145.3h0M348.0 147.3h0M336.1 136.1h0M339.7 140.8h0M332.4 123.4h0M344.1 129.9h0M332.1 145.6h0M333.5 149.3h0M325.4 144.6h0M325.9 119.8h0M326.6 137.6h0M331.0 121.5h0M345.5 127.4h0M333.9 139.7h0M330.9 140.7h0M340.0 136.4h0M343.8 131.3h0M326.4 138.5h0M327.0 140.5h0M334.7 131.9h0M339.1 143.3h0M335.7 142.5h0M331.8 124.1h0M335.3 144.5h0M320.1 119.2h0M329.5 145.6h0M326.4 137.8h0M327.6 141.0h0M338.9 151.7h0M334.6 148.5h0M338.6 132.1h0M347.3 131.5h0M342.7 128.6h0M337.9 131.2h0M335.3 120.4h0M338.2 120.2h0M337.6 141.3h0M323.0 122.8h0M327.6 130.1h0M342.3 133.9h0M331.4 124.2h0M330.4 131.7h0M335.5 121.2h0M333.8 143.1h0M338.9 123.6h0M340.7 146.3h0M338.5 123.8h0M323.2 136.4h0M328.1 121.6h0M341.2 147.6h0M338.8 151.7h0M343.3 124.9h0M344.0 139.1h0M337.0 154.4h0M337.0 154.5h0M335.8 132.8h0M329.5 135.0h0M321.7 135.1h0M334.5 131.0h0M319.3 111.9h0M341.5 127.0h0M346.6 130.1h0M339.2 121.4h0M330.1 134.1h0M338.0 155.8h0M344.1 121.8h0M335.2 135.2h0M329.4 143.0h0M348.0 133.1h0M342.6 153.1h0M324.8 155.7h0M348.2 141.4h0M348.4 140.9h0M343.6 144.9h0M327.9 139.3h0M334.1 131.5h0M326.6 127.6h0M324.1 148.6h0M319.3 136.5h0M331.3 122.9h0M341.6 128.8h0M344.8 135.9h0M337.8 135.8h0M339.3 147.8h0M331.4 136.6h0M349.6 131.9h0M349.8 134.0h0M332.2 118.1h0M329.9 117.3h0M329.8 144.2h0M335.1 130.3h0M327.5 128.7h0M324.6 122.1h0M350.3 141.0h0M327.1 143.7h0M347.6 131.1h0M335.3 123.2h0M321.0 151.0h0M363.0 131.3h0M320.7 151.4h0M343.0 143.0h0M347.1 134.3h0M336.4 145.9h0M332.0 142.0h0M332.7 141.8h0M338.2 115.4h0M337.1 121.4h0M329.8 118.1h0M341.8 133.9h0M330.7 150.4h0M340.9 135.1h0M317.8 142.7h0M333.2 132.8h0M341.4 130.6h0M333.5 146.6h0M340.1 130.6h0M345.5 150.6h0M350.1 137.7h0M335.7 148.7h0M338.4 138.8h0M334.5 133.6h0M330.4 129.5h0M338.5 133.9h0M323.7 136.6h0M346.9 153.1h0M319.8 126.4h0M341.1 138.4h0M335.7 135.7h0M336.5 125.9h0M345.4 126.5h0M332.4 153.7h0M343.7 137.7h0M335.5 130.5h0M331.3 134.1h0M346.1 133.3h0M339.1 142.2h0M338.6 134.3h0M340.8 139.4h0M336.3 132.1h0M317.3 143.7h0M341.6 132.2h0M333.4 140.2h0M326.7 144.3h0M340.0 147.0h0M344.3 117.2h0M339.7 132.9h0M343.0 149.6h0M341.7 137.0h0M357.4 138.7h0M326.0 147.2h0M321.9 157.3h0M342.0 152.5h0M343.1 142.5h0M325.4 130.0h0M339.9 135.7h0M338.9 130.3h0M328.8 140.2h0M341.2 138.1h0M329.2 118.7h0M352.4 126.5h0M329.1 128.9h0M343.0 129.8h0M339.3 141.0h0M326.1 138.3h0M325.7 134.7h0M341.3 135.2h0M328.4 132.1h0M333.4 140.7h0M318.8 115.6h0M339.1 136.2h0M334.9 139.4h0M334.2 132.0h0M335.2 144.3h0M337.7 137.4h0M326.5 138.8h0M326.5 128.9h0M336.0 138.3h0M342.7 147.2h0M339.1 133.8h0M335.1 134.3h0M348.2 143.1h0M330.6 127.4h0M345.6 128.4h0M337.7 139.1h0M344.2 128.2h0M338.4 139.5h0M340.0 152.3h0M336.0 134.7h0M343.3 122.4h0M337.4 126.5h0M327.0 119.1h0M321.2 144.9h0M341.8 138.8h0M343.2 138.1h0M332.2 125.1h0M340.3 146.4h0M345.8 129.3h0M334.1 122.3h0M343.4 145.6h0M339.1 137.3h0M334.3 133.1h0M344.3 131.1h0M341.8 140.9h0M328.6 120.9h0M329.0 136.3h0M324.4 143.1h0M343.6 143.9h0M324.0 110.6h0M340.6 154.0h0M331.5 142.6h0M333.6 130.1h0M343.5 131.9h0M340.2 156.5h0M332.4 157.5h0M323.9 146.3h0M336.2 128.6h0M349.4 121.7h0M339.4 129.2h0M346.2 137.1h0M342.0 137.4h0M328.5 113.0h0M349.1 141.0h0M326.3 133.0h0M344.4 121.7h0M353.3 136.1h0M331.0 150.9h0M337.7 126.4h0M341.9 142.7h0M344.9 127.9h0M325.6 143.2h0M333.7 113.3h0M329.8 143.5h0M328.1 150.6h0M331.1 135.7h0M322.9 127.2h0M333.0 143.2h0M335.5 148.8h0M317.7 135.8h0M334.8 125.5h0M335.4 128.8h0M338.7 133.5h0M339.9 127.4h0M344.7 142.2h0M349.3 136.8h0M330.9 138.1h0M332.3 125.3h0M335.2 136.3h0M330.2 132.3h0M327.1 137.9h0M322.7 154.7h0M334.3 147.4h0M325.1 139.9h0M333.0 147.7h0M343.5 119.6h0M345.6 121.4h0M345.8 137.4h0M324.8 143.9h0M336.3 126.1h0M328.6 141.7h0M324.9 126.6h0M350.5 129.9h0M337.5 142.2h0M341.8 147.3h0M315.3 129.9h0M345.2 129.1h0M349.3 141.0h0M324.7 142.4h0M351.2 131.0h0M340.3 127.7h0M330.2 137.9h0M338.8 141.3h0M328.1 115.8h0M339.3 139.5h0M321.8 155.1h0M330.8 121.0h0M337.8 144.4h0M355.4 121.8h0M325.1 133.1h0M331.6 135.9h0M330.8 119.4h0M330.8 144.6h0M342.0 130.4h0M339.0 142.0h0M331.4 132.9h0M337.2 127.4h0M334.3 130.8h0M346.3 114.0h0M325.4 145.5h0M338.4 137.7h0M342.1 122.9h0M339.1 124.7h0M324.2 141.7h0M329.0 132.6h0M341.1 126.0h0M332.5 147.6h0M342.5 123.7h0M324.1 136.2h0M317.9 136.1h0M336.7 142.5h0M337.4 152.3h0M331.1 151.9h0M338.9 143.4h0M333.0 147.7h0M328.4 144.8h0M344.8 130.6h0M328.2 128.2h0M334.5 141.3h0M340.4 158.9h0M348.0 141.5h0M333.2 123.6h0M341.3 143.6h0M333.1 135.2h0M334.4 140.9h0M335.2 125.4h0M335.1 142.6h0M348.7 150.3h0M340.0 137.1h0M324.8 131.1h0M324.2 135.2h0M342.7 149.7h0M342.5 138.2h0M343.4 135.0h0M319.2 137.4h0M337.2 118.0h0M333.3 109.8h0M330.1 150.4h0M328.7 151.4h0M337.7 129.2h0M320.1 144.3h0M342.0 121.2h0M330.7 149.3h0M328.7 141.1h0M320.3 125.6h0M342.2 124.6h0M324.9 120.8h0M333.6 119.5h0M333.7 143.4h0M347.9 133.9h0M347.6 144.6h0M332.9 142.9h0M346.0 154.9h0M341.3 136.8h0M341.7 140.3h0M336.3 140.3h0M351.0 125.2h0M335.6 125.1h0M341.1 150.2h0M346.4 134.3h0M334.9 145.9h0M336.4 140.7h0M336.5 140.5h0M333.8 142.1h0M323.8 131.6h0M324.6 135.4h0M328.8 142.8h0M346.6 124.5h0M328.6 140.4h0M346.1 146.9h0M338.8 137.0h0M331.3 141.3h0M339.1 139.5h0M332.1 119.1h0M328.7 132.6h0M325.5 140.1h0M324.0 132.9h0M337.2 146.6h0M336.0 150.9h0M331.2 128.3h0M344.8 128.3h0M335.6 118.0h0M343.5 146.0h0M330.8 117.4h0M337.0 140.5h0M342.8 158.6h0M337.3 135.0h0M333.6 133.8h0M325.0 126.4h0M336.0 119.0h0M323.4 149.8h0M329.0 145.6h0M344.0 138.1h0M342.0 135.9h0M328.2 135.5h0M335.6 138.7h0M336.1 133.0h0M343.9 135.9h0M331.0 147.3h0M327.2 136.6h0M347.0 139.1h0M346.9 135.5h0M331.3 135.3h0M331.1 133.1h0M331.0 145.9h0M338.7 135.4h0M332.3 152.8h0M326.6 128.5h0M346.2 126.2h0M326.8 136.1h0M329.7 133.7h0M335.7 147.1h0M336.5 140.8h0M344.5 154.0h0M334.2 116.8h0M326.2 148.6h0M332.1 129.4h0M330.2 154.7h0M336.1 133.4h0M330.8 124.9h0M357.9 139.1h0M336.8 134.1h0M344.8 127.2h0M320.5 129.8h0M335.5 128.0h0M334.3 128.8h0M328.9 138.0h0M338.3 130.5h0M344.2 137.5h0M336.7 131.9h0M337.9 142.3h0M341.4 129.0h0M341.0 131.7h0M335.4 145.9h0M347.9 133.7h0M326.3 138.4h0M345.5 134.9h0M356.7 118.6h0M346.3 151.6h0M345.1 129.3h0M345.2 151.5h0M345.6 136.1h0M332.2 151.8h0M338.5 133.9h0M328.5 140.0h0M324.0 143.1h0M338.2 120.7h0M337.9 151.3h0M338.7 123.2h0M329.7 146.5h0M325.3 132.6h0M344.9 135.3h0M329.9 146.1h0M347.9 143.1h0M326.3 118.9h0M335.1 117.5h0M333.8 147.6h0M338.5 131.8h0M338.0 143.4h0M338.8 127.9h0M328.3 123.2h0M340.7 141.8h0M338.9 140.1h0M347.1 150.8h0M344.1 130.8h0M334.0 122.9h0M330.0 138.1h0M326.1 129.6h0M351.7 136.9h0M324.5 122.7h0M333.8 146.8h0M333.8 147.1h0M338.9 125.5h0M344.1 133.3h0M351.1 132.4h0M334.7 131.5h0M332.7 142.4h0M332.7 150.6h0M337.3 155.4h0M334.7 151.9h0M345.2 136.9h0M354.3 156.2h0M340.0 135.9h0M334.9 135.8h0M338.8 125.4h0M336.5 131.1h0M348.1 147.4h0M337.4 160.4h0M337.9 145.1h0M327.8 138.1h0M346.5 144.4h0M332.5 137.7h0M330.3 130.0h0M322.9 149.1h0M344.4 137.5h0M325.0 134.3h0M353.0 124.7h0M332.0 132.4h0M343.2 124.5h0M338.5 129.0h0M333.9 124.3h0M340.3 132.9h0M329.8 149.6h0M338.9 139.2h0M345.9 135.7h0M338.7 132.5h0M341.4 132.9h0M330.7 142.5h0M345.6 148.4h0M341.6 139.0h0M316.4 134.4h0M333.4 143.7h0M348.9 147.6h0M321.6 137.0h0M333.0 145.7h0M336.9 116.7h0M328.6 133.7h0M319.2 135.0h0M332.1 149.4h0M335.1 130.8h0M334.4 137.8h0M344.2 127.8h0M341.5 138.6h0M356.0 126.7h0M329.4 132.2h0M339.7 132.8h0M342.0 134.2h0M345.4 143.6h0M322.0 136.0h0M326.3 135.2h0M335.0 119.4h0M337.3 124.6h0M349.4 146.6h0M348.4 134.1h0M326.5 139.9h0M325.1 125.7h0M329.2 135.2h0M324.9 113.3h0M347.3 132.3h0M333.2 143.9h0M339.4 130.4h0M330.0 155.1h0M344.7 146.7h0M350.6 117.6h0M336.6 134.5h0M319.4 140.0h0M340.3 140.9h0M320.9 133.9h0M337.3 135.1h0M337.2 143.4h0M346.7 141.3h0M356.6 142.0h0M337.0 146.6h0M335.2 134.1h0M347.6 114.7h0M319.0 159.7h0M340.9 144.4h0M337.7 141.2h0M328.1 134.0h0M326.0 150.0h0M340.5 141.0h0M338.8 136.7h0M324.5 156.1h0M341.0 136.4h0M339.1 152.5h0" stroke="#111" stroke-width="0.55" stroke-linecap="round" opacity="0.45" fill="none"/>
<path d="M327.9 125.2h0M326.6 119.5h0M326.8 130.2h0M322.3 147.3h0M326.5 155.7h0M326.3 153.4h0M325.7 131.4h0M326.7 118.9h0M328.5 122.3h0M322.7 136.0h0M326.4 152.5h0M324.1 140.3h0M327.3 119.8h0M323.3 157.2h0M323.7 154.2h0M328.1 125.8h0M326.6 120.0h0M326.5 136.8h0M325.4 149.1h0M324.2 146.0h0M329.0 126.2h0M323.6 141.7h0M326.9 145.6h0M321.6 139.9h0M325.5 137.4h0M325.8 120.6h0M322.5 131.3h0M321.4 132.8h0M326.8 143.6h0M321.4 152.3h0M322.3 129.6h0M322.0 145.8h0M329.8 124.9h0M327.7 122.1h0M323.8 139.2h0M325.3 148.5h0M322.6 132.3h0M330.6 123.8h0M322.7 128.1h0M326.7 151.1h0M324.5 138.5h0M323.0 128.6h0M326.7 131.6h0M322.3 131.5h0M322.3 130.7h0M321.3 145.9h0M328.2 126.8h0M327.8 127.6h0M325.8 134.3h0M324.1 132.5h0M321.8 149.4h0M323.9 143.9h0M326.6 147.1h0M328.2 124.6h0M321.3 131.7h0M322.7 156.2h0M327.7 128.9h0M323.2 154.5h0M327.2 123.9h0M327.5 134.2h0M327.4 119.9h0M327.2 125.3h0M320.8 147.7h0M326.8 156.1h0M321.1 153.2h0M320.8 142.8h0M324.3 147.2h0M326.9 125.7h0M326.9 132.6h0M327.5 126.3h0M321.9 132.9h0M326.9 140.6h0M322.5 132.3h0M325.1 125.2h0M327.0 130.3h0M321.5 144.7h0M322.3 130.8h0M328.6 121.3h0M326.3 140.8h0M324.7 125.8h0M324.7 154.7h0M324.9 151.5h0M323.2 155.6h0M321.4 132.5h0M325.4 128.4h0M322.8 129.7h0M322.3 156.2h0M326.5 157.6h0M325.7 148.0h0M328.9 130.8h0M330.6 126.1h0M323.1 135.8h0M330.7 124.8h0M324.5 134.1h0M325.6 152.1h0M325.6 128.3h0M326.9 155.0h0M329.8 119.7h0M323.3 143.0h0M329.3 127.4h0M325.1 148.4h0M322.7 153.0h0M325.0 125.9h0M323.9 151.3h0M322.5 148.3h0M323.7 126.5h0M329.9 125.2h0M322.5 152.4h0M324.8 134.8h0M329.8 128.5h0M328.9 130.5h0M324.4 137.0h0M323.9 124.9h0M325.5 136.0h0M327.2 126.2h0M329.6 127.0h0M325.7 130.6h0M322.7 139.9h0M322.4 130.9h0M321.2 144.1h0M326.8 144.5h0M324.4 126.6h0M326.0 134.4h0M325.1 127.2h0M322.6 149.4h0M326.8 123.2h0M325.2 155.5h0M329.3 125.1h0M330.4 125.5h0M326.1 134.1h0M320.7 152.5h0M326.8 137.6h0M323.3 126.5h0M320.9 148.0h0M324.4 140.9h0M324.9 150.1h0M328.1 120.0h0M321.8 139.9h0M321.5 140.1h0M325.5 126.8h0M327.8 132.3h0M326.8 142.6h0M326.1 149.4h0M322.1 133.9h0M327.9 122.5h0M324.9 142.5h0M322.7 143.1h0M327.3 125.6h0M330.3 125.5h0M323.9 138.8h0M329.1 117.0h0M323.1 143.4h0M327.7 119.7h0M321.7 148.3h0M323.4 153.6h0M323.7 132.9h0M326.6 137.2h0M324.1 130.3h0M328.0 129.3h0M323.0 147.7h0M326.2 142.7h0M321.3 135.3h0M325.9 133.3h0M325.7 148.6h0M326.6 129.0h0M322.5 131.7h0M324.8 131.0h0M326.1 150.9h0M324.3 144.3h0M323.3 136.1h0M324.7 130.3h0M327.1 133.1h0M322.1 136.8h0M324.0 148.2h0M323.2 139.7h0M323.6 137.9h0M325.3 128.8h0M320.8 152.1h0M329.0 124.1h0M327.4 128.3h0M325.5 131.3h0M325.0 152.6h0M325.9 141.2h0M326.1 153.6h0M326.4 149.0h0M329.3 123.9h0M326.2 143.5h0M329.5 129.3h0M330.2 126.7h0M326.2 135.0h0M322.2 154.3h0M324.3 135.9h0M321.1 137.4h0M320.8 151.4h0M327.8 123.8h0M326.9 133.6h0M323.1 134.2h0M323.6 135.7h0M326.6 137.2h0M321.1 140.0h0M324.9 148.4h0M322.3 145.8h0M327.5 130.9h0M330.2 120.9h0M330.2 118.9h0M322.6 145.8h0M324.0 131.0h0M326.2 147.5h0M320.8 144.4h0M327.5 134.8h0M323.6 138.3h0M321.1 144.5h0M326.2 127.1h0M320.8 155.1h0M328.8 120.6h0M325.3 121.0h0M327.7 130.5h0M329.7 121.5h0M326.9 124.7h0M325.4 151.4h0M323.1 140.3h0M323.0 156.7h0M326.9 128.1h0M323.8 126.5h0M322.4 132.8h0M326.0 122.3h0M329.2 120.7h0M321.5 140.6h0M322.3 153.9h0M325.1 136.7h0M326.5 123.0h0M320.9 141.1h0M322.0 158.0h0M321.2 151.4h0M322.4 142.6h0M322.3 146.1h0M327.9 130.6h0M323.0 151.4h0M330.4 123.1h0M323.9 136.4h0M321.2 137.4h0M326.8 137.7h0M320.8 147.1h0M325.7 123.1h0M324.5 149.5h0M325.5 122.7h0M321.9 153.7h0M323.2 140.7h0M323.1 129.5h0M328.1 127.6h0M325.1 142.0h0M325.9 153.5h0M323.7 157.4h0M328.9 123.7h0M330.7 124.1h0M328.8 117.4h0M324.7 127.3h0M325.5 128.2h0M324.3 157.7h0M324.4 152.6h0M325.2 152.4h0M325.3 128.0h0M323.9 151.1h0M323.2 128.2h0M324.0 145.2h0M330.0 118.2h0M326.2 136.5h0M325.3 151.4h0M324.0 157.5h0M326.6 150.9h0M323.8 152.6h0M324.8 149.6h0M327.6 123.6h0M325.7 121.4h0M325.8 123.0h0M327.5 135.2h0M326.7 134.8h0M326.5 133.6h0M323.6 156.0h0M326.1 122.3h0M324.2 148.5h0M326.2 136.2h0M326.5 146.4h0M327.0 133.8h0M325.3 132.6h0M328.6 120.3h0M325.1 144.0h0M325.9 147.3h0M324.8 150.3h0M322.9 145.7h0M322.1 145.6h0M329.6 121.3h0M326.7 126.9h0M326.8 141.9h0M328.2 121.8h0M324.3 155.8h0M326.7 118.6h0M326.0 129.0h0M327.7 134.1h0M324.0 143.7h0M330.7 125.8h0M328.6 122.0h0M325.6 123.9h0M323.5 134.8h0M325.6 152.2h0M325.6 156.0h0M325.9 135.5h0M323.5 132.3h0M327.2 138.9h0M325.8 141.8h0M323.4 127.8h0M326.5 149.1h0M328.8 132.7h0M326.5 149.8h0M323.1 138.2h0M322.7 147.0h0M323.3 134.3h0M324.7 157.3h0M324.9 144.3h0M324.7 126.0h0M321.3 152.3h0M326.6 132.8h0M326.8 147.2h0M325.6 134.2h0M324.4 132.2h0M323.1 145.2h0M328.9 132.6h0M323.8 153.1h0M329.3 121.8h0M321.8 154.4h0M325.9 129.4h0M321.4 134.5h0M326.7 128.9h0M324.0 130.1h0M323.9 147.0h0M327.8 119.4h0M329.0 118.4h0M330.9 124.6h0M322.8 135.6h0M322.2 156.6h0M323.8 135.9h0M321.2 144.7h0M325.5 150.8h0M326.3 157.9h0M320.9 147.3h0M325.1 145.8h0M324.2 151.0h0M326.4 129.5h0M324.0 143.4h0M323.5 129.2h0" stroke="#000" stroke-width="0.6" stroke-linecap="round" opacity="0.5" fill="none"/>
<path d="M342.8 122.8h0M333.3 119.1h0M333.8 117.3h0M337.3 118.3h0M342.4 118.9h0M345.0 122.9h0M338.9 120.8h0M338.9 118.2h0M334.8 119.6h0M334.8 120.0h0M337.7 119.0h0M341.6 122.4h0M333.0 119.2h0M340.0 121.5h0M337.6 119.0h0M334.1 118.3h0M341.8 119.5h0M342.3 121.7h0M334.2 116.8h0M336.1 115.9h0M332.2 119.1h0M335.3 115.9h0M342.9 116.7h0M342.3 116.3h0M340.5 115.9h0M338.4 120.0h0M338.2 120.1h0M332.3 119.0h0M332.4 118.6h0M344.1 121.6h0M341.4 118.7h0M337.3 118.5h0M343.7 120.6h0M342.7 117.6h0M336.9 120.5h0M340.6 117.0h0M342.5 117.4h0M338.0 118.1h0M333.7 117.1h0M343.4 123.0h0M339.5 116.6h0M333.9 116.7h0M337.1 120.2h0M337.6 115.6h0M333.3 117.0h0M341.8 119.9h0M337.6 118.7h0M337.5 119.0h0M334.5 119.2h0M339.1 119.2h0M339.3 119.7h0M339.6 117.5h0M334.0 117.5h0M342.7 116.9h0M338.6 115.5h0M342.9 118.2h0M343.3 120.6h0M339.0 117.5h0M342.6 116.9h0M332.1 117.9h0M340.8 121.5h0M337.7 116.7h0M342.0 119.2h0M343.8 122.5h0M333.7 118.0h0M343.3 122.2h0M344.3 118.3h0M335.6 116.0h0M338.8 120.8h0M341.7 116.3h0M338.8 121.3h0M337.8 117.7h0M338.7 119.9h0M340.1 117.9h0M345.1 118.1h0M342.5 121.7h0M332.2 118.1h0M339.8 121.9h0M333.7 118.4h0M343.2 121.4h0M344.8 122.0h0M340.7 121.1h0M334.4 116.3h0M339.5 120.3h0M343.9 117.3h0M337.7 119.4h0M338.3 117.7h0M334.9 116.2h0M345.0 122.0h0M338.4 115.9h0M333.3 118.0h0M342.4 116.8h0M340.2 115.7h0M339.9 117.7h0M339.4 119.9h0M339.6 120.7h0M336.3 115.1h0M338.4 121.2h0M342.2 120.5h0M337.6 117.0h0M343.6 120.7h0M337.5 120.9h0M336.8 117.2h0M335.7 115.3h0M340.4 116.2h0M344.7 121.0h0M344.8 119.3h0M341.8 120.2h0M336.5 117.9h0M340.0 120.2h0M342.9 122.4h0M337.4 118.6h0M344.5 120.5h0M339.7 120.9h0M335.1 118.9h0M339.4 119.4h0M342.6 120.0h0M335.8 118.3h0M340.5 122.2h0M344.6 117.0h0M340.5 120.4h0M341.7 116.5h0M337.3 116.9h0M339.7 120.8h0M332.4 119.2h0M344.5 123.2h0M334.6 120.0h0M334.4 117.2h0M344.5 123.0h0M344.9 122.7h0M333.7 116.7h0M340.9 121.2h0M340.4 118.0h0M336.1 118.4h0M343.1 117.0h0M341.7 116.8h0M340.0 120.2h0M341.0 117.4h0M333.8 117.3h0M337.7 118.9h0M330.9 119.2h0M336.2 116.4h0M333.3 119.0h0M337.8 117.2h0M338.8 118.1h0M342.3 119.8h0M343.9 121.6h0M340.4 116.5h0M341.8 117.9h0M338.7 117.8h0M344.0 119.3h0M336.0 116.7h0M340.7 121.8h0M339.6 119.2h0M341.8 116.0h0M341.8 119.9h0M335.6 118.1h0M339.6 117.0h0M341.7 121.9h0M337.1 117.8h0M334.8 118.0h0M343.0 118.6h0M338.2 121.3h0M340.5 120.2h0M344.9 120.0h0M337.4 118.3h0M340.4 119.0h0M335.6 119.6h0M336.7 118.4h0M337.4 115.9h0M340.9 117.2h0M333.3 119.2h0M343.9 116.3h0M332.2 118.2h0M337.7 116.3h0M336.3 120.6h0M338.0 118.2h0M342.4 116.1h0M343.0 121.7h0M342.2 120.2h0M344.8 117.7h0M344.1 123.4h0M337.9 118.5h0M344.0 120.7h0M343.2 122.1h0M335.4 117.6h0M343.7 118.4h0M333.3 117.7h0M343.6 117.7h0M336.0 115.2h0M344.7 116.9h0M343.1 118.1h0M339.2 119.4h0M338.3 119.9h0M337.4 115.3h0M345.3 123.3h0M342.6 120.6h0M334.3 116.7h0M342.8 117.5h0M344.8 117.2h0" stroke="#000" stroke-width="0.55" stroke-linecap="round" opacity="0.45" fill="none"/>
<path d="M320.2 123.5h0M350.2 148.3h0M322.3 143.0h0M351.1 156.9h0M338.5 153.7h0M331.6 113.4h0M323.9 124.8h0M319.6 158.4h0M356.0 154.9h0M338.1 132.8h0M330.4 139.3h0M322.9 149.0h0M331.0 150.5h0M321.8 125.3h0M349.5 149.8h0M343.0 139.6h0M355.4 143.8h0M330.0 121.4h0M334.4 156.6h0M324.5 153.8h0M346.8 120.1h0M318.5 115.1h0M337.8 124.1h0M345.2 138.6h0M332.5 138.8h0M345.4 146.1h0M323.2 124.2h0M325.6 141.1h0M354.2 134.5h0M320.2 130.7h0M329.1 133.7h0M354.9 158.4h0M339.1 147.0h0M318.9 139.8h0M341.5 152.3h0M334.4 132.1h0M350.4 118.5h0M354.4 145.7h0M351.0 154.1h0M333.1 156.4h0" stroke="#444" stroke-width="0.5" stroke-linecap="round" opacity="0.4" fill="none"/>
<path d="M322.30,158.20 L323.00,143.00 L325.50,131.00 L328.00,125.00 L330.00,124.00 L328.50,134.00 L327.50,158.20 Z" fill="#111" stroke="none" stroke-width="0.5" opacity="0.6" filter="url(#b05)"/>
<path d="M327.00,156.50 L328.00,145.00 L329.00,135.00 L331.00,128.00 L334.00,123.50 L337.40,121.60 L340.50,123.50 L342.50,128.00 L343.00,134.60 L342.00,143.00 L340.00,150.00 L337.40,154.00 L333.00,156.50 Z" fill="#f7f7f7" stroke="#333" stroke-width="0.6" stroke-linejoin="round" opacity="1"/>
<path d="M328.71,153.53 L329.53,144.10 L330.35,135.90 L331.99,130.16 L334.45,126.47 L337.24,124.91 L339.78,126.47 L341.42,130.16 L341.83,135.57 L341.01,142.46 L339.37,148.20 L337.24,151.48 L333.63,153.53 Z" fill="none" stroke="#888" stroke-width="0.4" stroke-linejoin="round" opacity="1"/>
<path d="M330.42,150.56 L331.06,143.20 L331.70,136.80 L332.98,132.32 L334.90,129.44 L337.08,128.22 L339.06,129.44 L340.34,132.32 L340.66,136.54 L340.02,141.92 L338.74,146.40 L337.08,148.96 L334.26,150.56 Z" fill="none" stroke="#888" stroke-width="0.4" stroke-linejoin="round" opacity="1"/>
<path d="M332.13,147.59 L332.59,142.30 L333.05,137.70 L333.97,134.48 L335.35,132.41 L336.91,131.54 L338.34,132.41 L339.26,134.48 L339.49,137.52 L339.03,141.38 L338.11,144.60 L336.91,146.44 L334.89,147.59 Z" fill="none" stroke="#888" stroke-width="0.4" stroke-linejoin="round" opacity="1"/>
<path d="M333.84,144.62 L334.12,141.40 L334.40,138.60 L334.96,136.64 L335.80,135.38 L336.75,134.85 L337.62,135.38 L338.18,136.64 L338.32,138.49 L338.04,140.84 L337.48,142.80 L336.75,143.92 L335.52,144.62 Z" fill="none" stroke="#888" stroke-width="0.4" stroke-linejoin="round" opacity="1"/>
<path d="M325.2,157 L325.8,145 L327.3,134 L329.2,131 L330.5,136 L330.8,157 Z" fill="#d4d4d4" stroke="#555" stroke-width="0.4" opacity="0.85"/>
<circle cx="336.5" cy="139.7" r="1.1" fill="#fff"/>
<line x1="322.50" y1="157.60" x2="340.00" y2="157.60" stroke="#111" stroke-width="0.8" />
<path d="M334.00,113.20 L357.90,113.20 L357.90,156.70 L325.00,156.70 Z" fill="none" stroke="#111" stroke-width="0.75" opacity="1"/>
<path d="M393.50,150.50 L393.50,129.00 L397.50,124.50 L405.00,123.00 L413.50,124.50 L418.50,129.00 L419.50,140.00 L418.50,150.50 Z" fill="#333" stroke="none" stroke-width="0.5" opacity="0.4" filter="url(#b2)"/>
<path d="M412.3 140.2h0M396.9 136.7h0M408.1 127.1h0M402.2 136.2h0M399.2 129.8h0M403.9 126.7h0M401.6 134.0h0M400.1 129.1h0M404.4 141.3h0M395.0 132.1h0M400.9 139.2h0M396.0 126.3h0M418.0 138.1h0M409.0 127.4h0M394.6 133.0h0M399.8 149.4h0M406.2 134.1h0M401.4 149.5h0M412.9 128.2h0M396.0 147.3h0M415.3 139.7h0M413.8 143.0h0M401.8 146.6h0M394.6 148.7h0M394.9 141.3h0M405.7 140.5h0M417.7 143.0h0M406.4 141.9h0M403.1 126.9h0M397.0 130.4h0M416.9 135.0h0M411.4 132.3h0M415.0 140.4h0M400.0 124.5h0M413.6 127.9h0M413.3 126.9h0M414.5 142.2h0M398.2 135.3h0M410.6 128.0h0M398.7 128.0h0M395.2 149.3h0M399.2 138.1h0M398.2 130.5h0M416.6 128.2h0M395.4 146.1h0M406.7 135.3h0M417.9 132.9h0M413.8 134.1h0M404.7 143.2h0M403.8 123.7h0M400.4 146.9h0M401.9 139.7h0M409.3 144.9h0M403.3 141.4h0M403.1 130.1h0M395.4 145.4h0M395.6 133.5h0M410.2 130.5h0M406.5 145.8h0M412.8 132.5h0M417.0 146.8h0M414.7 129.1h0M403.9 150.4h0M408.9 129.7h0M405.1 133.1h0M408.2 131.7h0M418.1 136.7h0M406.2 123.9h0M399.5 128.6h0M404.4 124.8h0M401.4 146.0h0M406.5 147.7h0M404.1 139.0h0M415.9 133.1h0M405.7 134.4h0M407.2 130.6h0M412.3 129.0h0M397.6 136.6h0M413.6 134.7h0M397.8 125.9h0M413.4 133.8h0M394.1 142.0h0M414.8 149.2h0M411.3 138.8h0M403.4 126.1h0M397.3 144.4h0M401.8 140.5h0M408.6 142.9h0M411.9 133.5h0M397.4 137.0h0M400.2 143.5h0M408.1 139.1h0M412.6 142.7h0M405.9 145.5h0M413.5 144.7h0M395.9 144.6h0M408.0 135.9h0M413.5 147.2h0M416.4 127.7h0M407.8 148.3h0M399.1 141.6h0M402.2 127.5h0M415.8 144.8h0M398.8 125.1h0M395.4 136.5h0M414.9 145.5h0M393.8 131.8h0M401.9 149.4h0M400.8 144.1h0M397.9 128.6h0M410.5 138.7h0M408.2 127.5h0M415.3 146.1h0M399.9 138.8h0M402.1 128.3h0M418.0 138.3h0M396.0 135.0h0M400.2 149.9h0M400.9 136.1h0M402.1 126.0h0M416.6 142.4h0M417.4 146.6h0M409.2 139.0h0M411.7 133.7h0M412.4 126.7h0M408.7 142.3h0M404.2 144.2h0M401.6 127.6h0M411.7 143.0h0M400.9 127.5h0M404.9 127.9h0M393.8 145.7h0M407.2 128.0h0M401.2 131.8h0M404.8 148.6h0M414.4 126.0h0M411.9 135.5h0M400.1 124.8h0M409.7 149.6h0M394.3 148.1h0M415.7 132.0h0M412.1 142.4h0M411.6 140.2h0M414.6 146.8h0M399.8 137.0h0M407.8 144.9h0M416.9 141.1h0M407.1 136.6h0M400.4 132.4h0M411.4 147.3h0M418.2 148.5h0M400.5 129.8h0M395.6 147.7h0M408.1 132.1h0M410.4 145.7h0M412.4 128.2h0M400.8 138.6h0M410.2 128.8h0M411.2 132.6h0M395.1 150.1h0M408.1 139.7h0M397.7 143.9h0M395.3 127.5h0M415.2 144.1h0M405.1 127.4h0M406.1 130.5h0M403.2 127.8h0M417.2 145.7h0M404.8 141.8h0M394.8 129.0h0M401.3 135.3h0M411.4 143.6h0M416.9 144.9h0M401.5 150.2h0M402.5 126.8h0M416.7 148.1h0M404.7 128.2h0M401.7 148.8h0M396.1 142.9h0M394.4 140.8h0M414.5 139.5h0M406.2 143.9h0M396.8 133.6h0M398.4 146.5h0M418.7 143.3h0M418.7 138.3h0M414.2 145.4h0M408.4 129.4h0M401.6 146.7h0M411.3 144.4h0M398.2 138.8h0M410.9 133.7h0M403.4 131.9h0M412.7 147.6h0M409.0 125.5h0M412.6 133.4h0M417.5 135.6h0M409.3 139.4h0M416.7 141.7h0M407.8 139.2h0M409.3 142.6h0M417.5 134.4h0M406.3 143.5h0M416.2 145.5h0M411.9 139.2h0M396.7 144.0h0M394.9 129.2h0M410.2 134.0h0M394.2 149.1h0M408.6 148.4h0M396.4 136.2h0M403.3 150.4h0M405.0 136.0h0M403.7 139.5h0M400.8 143.3h0M404.8 149.9h0M395.5 140.5h0M398.8 140.2h0M407.6 130.0h0M403.6 137.4h0M409.8 147.8h0M408.5 147.4h0M408.7 138.5h0M397.2 141.8h0M414.6 139.7h0M395.5 129.5h0M406.2 126.3h0M395.7 133.4h0M418.6 130.2h0M403.9 147.0h0M404.0 147.0h0M408.3 139.1h0M414.6 144.4h0M396.9 138.1h0M417.8 131.2h0M397.5 148.5h0M410.6 144.5h0M410.1 126.1h0M417.1 129.0h0M415.4 136.7h0M403.1 129.2h0M417.0 146.0h0M397.3 149.8h0M398.6 149.6h0M409.6 137.1h0M412.7 146.1h0M404.2 146.6h0M416.4 134.7h0M412.7 140.3h0M408.6 139.0h0M397.6 146.5h0M410.6 125.7h0M407.4 129.1h0M405.4 144.1h0M394.6 143.4h0M404.1 125.7h0M396.2 149.7h0M404.4 130.5h0M418.4 138.1h0M395.3 138.6h0M415.6 137.7h0M394.6 133.1h0M411.8 142.3h0M396.1 134.1h0M412.1 128.3h0M407.5 126.7h0M395.5 142.9h0M401.8 141.1h0M409.8 146.2h0M396.3 136.3h0M394.9 144.8h0M405.7 142.1h0M416.4 141.2h0M397.7 132.1h0M414.4 132.4h0M409.4 135.8h0M411.0 144.8h0M410.5 146.7h0M398.5 145.3h0M398.6 139.9h0M415.6 141.9h0M394.7 145.9h0M402.1 126.5h0M418.7 133.3h0M397.1 146.3h0M410.4 125.9h0M394.2 148.4h0M418.4 148.1h0M417.4 131.6h0M403.5 128.1h0M399.8 125.3h0M412.4 144.2h0M412.2 128.2h0M414.8 131.0h0M398.5 148.3h0M408.0 137.4h0M399.5 142.7h0M402.8 133.5h0M400.6 127.6h0M405.8 147.3h0M398.5 147.6h0M395.6 140.0h0M396.5 140.3h0M401.1 142.2h0M415.3 130.6h0M415.0 129.4h0M405.3 125.2h0M404.8 148.9h0M397.7 136.4h0M395.1 143.0h0M399.6 143.9h0M409.9 149.5h0M399.0 142.5h0M409.4 125.2h0M407.0 149.5h0M415.3 132.4h0M409.5 132.2h0M413.7 143.1h0M398.0 144.5h0M418.3 140.4h0M414.8 133.0h0M396.1 142.7h0M413.0 140.2h0M416.5 127.4h0M407.3 125.9h0M414.5 129.1h0M396.5 145.3h0M406.7 141.3h0M414.7 144.0h0M418.9 145.7h0M395.3 147.2h0M404.7 146.2h0M416.0 142.6h0M404.8 141.6h0M407.8 142.5h0M395.4 131.6h0M407.4 140.0h0M401.8 131.9h0M395.5 147.5h0M417.2 130.0h0M400.7 126.2h0M411.5 140.7h0M403.4 144.8h0M394.9 141.3h0M401.8 147.2h0M398.1 131.8h0M396.7 146.5h0M416.4 140.4h0M419.0 142.2h0M399.0 132.9h0M415.8 131.7h0M401.6 142.7h0M415.4 148.5h0M410.9 126.2h0M398.5 145.4h0M401.9 143.9h0M395.9 133.9h0M412.9 141.7h0M413.7 143.7h0M410.1 149.7h0M409.9 131.0h0M410.8 134.4h0M402.6 143.2h0M411.1 124.6h0M412.3 130.4h0M409.0 139.2h0M404.1 143.1h0M416.9 138.1h0M397.0 138.4h0M417.9 133.7h0M393.7 134.7h0M400.3 138.2h0M397.5 149.6h0M393.7 145.7h0M394.2 141.6h0M405.1 130.2h0M402.8 127.8h0M397.0 133.9h0M405.3 127.6h0M412.4 148.2h0M405.6 149.4h0M397.3 147.7h0M395.4 135.4h0M402.2 143.5h0M418.9 136.7h0M417.1 147.7h0M413.8 132.9h0M394.4 143.9h0M397.6 136.2h0M410.5 124.2h0M408.6 148.7h0M410.5 149.1h0M414.0 132.3h0M405.0 139.6h0M404.8 147.8h0M417.6 129.7h0M394.6 141.7h0M411.3 146.2h0M403.5 146.9h0M403.1 144.2h0M412.6 144.3h0M409.1 138.9h0M415.5 135.2h0M403.7 127.7h0M396.3 144.0h0M410.8 127.6h0M401.3 140.8h0M402.2 135.4h0M405.4 134.7h0M398.9 132.6h0M413.5 143.9h0M417.1 142.4h0M416.9 148.2h0M417.7 136.8h0M415.0 141.1h0M404.3 131.7h0M405.3 141.7h0M413.5 131.0h0M398.5 134.2h0M403.3 133.4h0M416.3 146.8h0M394.5 132.8h0M400.6 148.4h0M406.1 139.4h0M395.7 141.1h0M394.3 144.9h0M394.7 143.4h0M413.4 129.3h0M399.1 137.0h0M395.1 134.9h0M412.4 147.0h0M404.1 127.2h0M396.9 128.9h0M399.7 149.8h0M419.1 136.6h0M416.7 148.9h0M398.6 129.0h0M414.7 130.0h0M401.4 135.2h0M402.1 130.2h0M394.7 139.8h0M409.7 135.2h0M405.7 132.9h0M416.9 127.7h0M396.9 149.0h0M400.6 131.8h0M403.5 143.2h0M412.7 147.5h0M398.8 145.3h0M394.4 149.1h0M414.5 147.4h0M403.2 130.1h0M400.9 130.9h0M412.9 136.2h0M416.6 131.6h0M415.2 139.0h0M416.2 128.3h0M402.9 143.6h0M406.8 141.9h0M415.2 128.4h0M396.1 146.2h0M404.7 144.1h0M400.6 150.2h0M402.8 147.8h0M409.5 140.1h0M412.4 143.3h0M401.3 142.1h0M405.4 147.2h0M396.3 131.8h0M412.4 147.6h0M404.3 127.5h0M394.9 133.8h0M402.0 143.7h0M407.3 131.0h0M407.3 132.4h0M401.6 142.9h0M393.6 132.0h0M405.9 149.9h0M411.1 150.3h0M409.2 141.9h0M400.8 135.1h0M407.1 138.0h0M411.0 135.3h0M400.8 142.2h0M406.0 133.4h0M401.0 131.2h0M414.9 140.1h0M394.0 129.7h0M404.8 129.6h0M404.4 136.3h0M396.4 133.1h0M406.7 135.6h0M409.7 132.8h0M402.7 135.3h0M414.8 148.5h0M407.8 143.9h0M406.0 142.5h0M405.4 136.9h0M412.0 147.7h0M401.8 149.7h0M409.0 123.8h0M404.8 149.7h0M399.4 142.7h0M414.9 140.3h0M407.9 148.7h0M395.4 132.4h0M394.5 135.6h0M406.5 126.0h0M396.2 126.3h0M395.8 127.3h0M400.2 145.6h0M397.6 142.1h0M414.1 149.3h0M398.9 140.1h0M414.2 146.5h0M401.9 137.5h0M419.3 142.3h0M399.4 128.5h0M406.1 133.6h0M416.0 139.5h0M407.7 130.3h0M408.6 137.2h0M405.1 133.2h0M408.1 136.2h0M395.2 135.1h0M418.3 148.6h0M404.1 149.7h0M399.4 133.6h0M416.9 136.9h0M400.0 140.0h0M398.2 138.7h0M402.8 130.1h0M397.4 138.2h0M412.6 143.8h0M399.0 132.0h0M399.5 142.3h0M419.3 141.2h0M412.0 128.2h0M404.7 134.0h0M408.5 136.6h0M411.7 142.8h0M397.1 134.6h0M414.3 133.7h0M393.5 149.0h0M398.7 138.0h0M396.3 145.3h0M400.7 123.9h0M407.6 129.1h0M405.3 149.4h0M405.1 129.0h0M396.5 133.1h0M402.8 126.9h0M398.8 133.3h0M394.5 148.5h0M401.6 130.2h0M411.1 143.7h0M395.1 141.2h0M406.1 126.6h0M396.7 146.3h0M412.5 144.1h0M395.9 137.4h0M393.8 146.5h0M408.3 135.6h0M401.5 140.0h0M395.7 144.0h0M417.7 144.4h0M393.6 145.3h0M417.5 149.8h0M404.7 131.7h0M398.7 141.8h0M400.1 135.4h0M411.9 144.5h0M401.3 146.7h0M398.0 144.9h0M401.8 147.6h0M405.4 147.6h0M411.8 124.8h0M402.1 131.0h0M406.6 137.5h0M400.5 138.9h0M396.8 147.6h0M412.2 130.5h0M397.6 141.6h0M405.8 144.7h0M399.4 136.1h0M402.4 150.3h0M404.0 140.7h0M394.1 148.2h0M395.9 142.0h0M402.8 129.3h0M413.6 147.3h0M402.2 132.0h0M398.2 132.3h0M406.1 135.9h0M397.4 127.2h0M409.0 127.1h0M416.4 146.1h0M407.5 128.1h0M410.8 137.2h0M404.8 142.9h0M400.5 139.3h0M416.3 130.3h0M393.9 139.4h0M400.0 125.1h0M402.0 135.1h0M401.2 135.7h0M417.0 133.1h0M399.8 125.7h0M394.3 146.5h0M412.7 129.3h0M403.3 149.3h0M402.4 126.9h0M409.8 150.0h0M404.2 145.6h0M412.5 140.2h0M399.2 126.2h0M411.8 141.3h0M399.4 148.7h0M403.1 142.2h0M416.8 137.8h0M393.7 145.6h0M418.4 142.0h0M401.1 135.1h0M402.4 128.1h0M407.2 146.5h0M408.3 145.0h0M406.1 125.5h0M412.9 134.2h0M402.0 148.4h0M408.0 136.7h0M395.5 145.3h0M396.5 141.0h0M402.2 134.1h0M412.6 145.3h0M396.0 141.3h0M407.7 138.1h0M400.3 143.1h0M417.2 138.3h0M395.0 148.9h0M412.7 127.6h0M404.0 143.3h0M409.8 132.3h0M405.7 148.0h0M411.3 141.3h0M404.7 123.9h0M399.5 137.2h0M398.1 139.6h0M418.6 140.1h0M408.4 139.9h0M404.8 132.0h0M411.4 135.1h0M396.3 127.6h0M404.0 144.3h0M394.7 141.2h0M414.2 141.3h0M402.8 143.1h0M398.9 137.6h0M409.8 135.3h0M407.1 123.4h0M396.2 134.3h0M401.5 136.5h0M410.3 144.4h0M400.2 144.7h0M414.5 128.4h0M393.7 135.7h0M418.6 147.1h0M404.3 127.4h0M403.7 143.8h0M395.9 135.7h0M397.6 141.3h0M408.6 144.7h0M400.1 136.4h0M394.1 141.9h0M404.1 128.2h0M402.0 148.2h0M398.0 137.9h0M398.7 149.2h0M396.6 149.6h0M402.7 145.6h0M396.4 130.2h0M415.1 135.0h0M396.7 143.6h0M414.3 142.9h0M401.2 146.9h0M395.2 143.2h0M410.0 136.0h0M405.4 141.0h0M414.9 141.3h0M418.4 146.8h0M414.7 149.1h0M396.0 143.8h0M407.7 149.0h0M401.1 142.1h0M409.0 133.1h0M413.8 145.8h0M412.7 141.3h0M395.8 135.9h0M411.5 143.8h0M403.7 146.6h0M405.9 126.9h0M394.9 141.0h0M397.6 135.2h0M404.5 133.5h0M404.6 139.5h0M412.7 147.1h0M406.6 148.9h0M394.0 130.0h0M406.8 149.7h0M401.2 125.9h0M398.5 125.4h0M398.4 129.2h0M399.2 135.5h0M394.5 128.8h0M393.6 142.1h0M413.0 150.3h0M415.3 145.8h0M400.2 146.5h0M401.5 141.6h0M404.7 137.9h0M415.3 127.4h0M417.1 139.6h0M396.5 136.4h0M414.1 130.3h0M404.3 137.1h0M402.2 128.5h0M406.7 140.5h0M400.8 145.5h0M407.4 126.3h0M410.7 133.0h0M409.7 144.6h0M394.3 134.4h0M404.4 129.0h0M399.0 131.4h0M397.4 124.9h0M400.6 130.8h0M410.6 140.4h0M403.1 140.3h0M400.2 135.6h0M402.2 125.1h0M402.3 146.2h0M411.7 128.1h0M416.8 142.4h0M408.5 141.7h0M394.0 134.4h0M414.2 146.4h0M395.9 131.0h0M398.4 139.3h0M397.7 145.8h0M410.0 128.0h0M413.4 126.5h0" stroke="#000" stroke-width="0.8" stroke-linecap="round" opacity="0.5" fill="none"/>
<path d="M413.4 141.2h0M402.8 130.4h0M402.0 137.4h0M404.9 130.4h0M400.5 141.2h0M414.5 147.6h0M401.0 130.2h0M410.6 135.3h0M411.8 143.4h0M403.6 136.4h0M394.9 126.9h0M411.2 150.9h0M394.1 127.5h0M402.6 141.8h0M392.7 137.1h0M415.5 121.9h0M397.6 141.5h0M413.8 131.4h0M412.1 143.1h0M396.0 136.2h0M401.7 134.8h0M407.4 129.5h0M392.4 127.5h0M396.4 135.4h0M412.3 133.3h0M400.6 133.3h0M411.1 135.9h0M406.0 132.2h0M405.4 134.1h0M413.9 137.1h0M414.3 139.7h0M407.6 125.2h0M404.2 130.5h0M412.8 139.0h0M408.5 135.6h0M415.3 123.3h0M410.8 134.0h0M398.3 131.8h0M405.2 138.6h0M413.4 132.1h0M400.2 143.4h0M413.6 129.7h0M400.5 138.7h0M403.4 141.1h0M400.0 132.1h0M427.5 144.1h0M417.2 139.4h0M401.0 144.7h0M416.9 135.5h0M403.8 140.6h0M405.1 126.5h0M410.7 142.2h0M392.8 148.9h0M397.4 128.2h0M398.9 136.4h0M404.8 124.9h0M406.2 139.4h0M400.3 120.6h0M397.0 131.5h0M410.7 133.0h0M408.5 155.7h0M405.3 135.0h0M411.9 144.9h0M415.2 136.7h0M396.1 123.3h0M398.9 134.0h0M396.3 126.1h0M402.6 133.0h0M400.8 148.6h0M412.0 127.1h0M411.9 135.1h0M399.1 132.0h0M424.8 135.2h0M398.3 134.9h0M410.4 136.9h0M403.3 129.5h0M399.9 126.4h0M405.0 139.4h0M408.3 135.5h0M414.8 138.9h0M409.4 128.7h0M402.3 133.0h0M413.1 135.3h0M404.0 134.6h0M416.6 132.5h0M399.6 138.0h0M404.8 146.0h0M414.0 138.7h0M404.4 136.8h0M415.7 139.6h0M410.4 120.0h0M397.1 135.5h0M410.3 141.1h0M406.3 124.3h0M406.2 130.9h0M389.3 130.1h0M402.2 137.6h0M411.0 137.6h0M405.3 132.8h0M405.2 128.6h0M410.7 136.5h0M413.2 140.4h0M402.6 135.9h0M405.2 136.8h0M386.5 130.0h0M420.0 137.3h0M416.3 133.0h0M394.2 134.6h0M403.0 131.3h0M414.6 146.7h0M400.6 150.4h0M412.6 128.6h0M413.5 139.4h0M406.0 125.7h0M409.1 131.5h0M419.2 129.5h0M394.6 139.9h0M397.1 147.2h0M399.0 141.9h0M398.4 133.2h0M406.9 132.0h0M411.0 132.0h0M416.5 143.1h0M393.8 150.9h0M408.3 131.1h0M408.1 137.8h0M412.0 142.9h0M414.9 128.2h0M408.0 132.6h0M394.3 131.4h0M398.0 139.6h0M403.7 139.4h0M405.3 137.9h0M409.5 131.3h0M404.8 135.8h0M402.0 129.9h0M408.0 141.3h0M419.8 138.3h0M407.9 129.3h0M405.5 145.7h0M420.9 140.5h0M418.5 148.9h0M422.0 142.5h0M401.7 138.5h0M415.4 133.3h0M406.0 131.4h0M402.0 127.1h0M414.9 132.5h0M406.9 140.7h0M403.9 129.5h0M401.5 129.6h0M406.9 132.7h0M414.4 134.5h0M409.9 130.4h0M392.5 134.5h0M413.1 143.7h0M414.8 134.0h0M403.2 137.7h0M403.3 140.6h0M412.1 143.4h0M399.9 147.1h0M391.5 134.5h0M401.7 136.4h0M403.6 144.5h0M399.9 141.8h0M397.2 136.5h0M408.4 143.5h0M396.9 121.3h0M418.4 130.2h0M403.5 135.5h0M416.1 141.8h0M414.7 146.0h0M409.5 135.2h0M415.8 143.8h0M408.1 124.0h0M401.4 139.9h0M402.2 143.4h0M425.7 137.6h0M408.6 143.0h0M419.3 122.0h0M402.2 146.9h0M405.6 124.9h0M409.9 127.7h0M412.8 143.8h0M403.1 128.8h0M409.8 134.5h0M403.8 132.8h0M402.3 130.1h0M412.2 145.0h0M399.5 128.0h0M411.7 146.0h0M410.1 145.0h0M412.0 137.5h0M404.0 131.6h0M405.3 124.6h0M417.0 129.1h0M408.0 139.5h0M405.3 136.7h0M400.0 134.0h0M411.6 141.8h0M395.9 136.5h0M392.7 136.3h0M406.4 127.4h0M416.7 127.3h0M415.0 125.2h0M411.3 123.4h0M402.0 127.6h0M408.0 131.0h0M404.1 138.3h0M398.2 132.5h0M407.5 129.9h0M408.5 124.1h0M420.8 144.3h0M394.6 131.0h0M402.9 140.5h0M411.1 144.0h0M414.3 128.7h0M406.8 135.4h0M410.1 135.5h0M392.1 133.1h0M424.2 136.7h0M414.6 136.1h0M403.4 136.7h0M403.9 142.6h0M402.2 123.5h0M412.1 140.3h0M402.4 135.5h0M411.3 139.2h0M398.2 146.1h0M424.7 136.7h0M398.1 144.1h0M416.1 130.4h0M394.3 127.2h0M401.8 128.9h0M402.0 133.3h0M393.0 138.6h0M415.6 122.0h0M403.2 132.9h0M399.2 136.4h0M396.9 141.6h0M402.2 128.6h0M407.8 136.4h0M415.3 136.8h0M401.8 149.0h0M406.2 138.2h0M415.5 131.8h0M403.8 130.3h0M419.2 129.6h0M396.2 127.6h0M418.1 143.1h0M399.3 130.4h0M422.0 131.3h0M404.9 130.7h0M423.3 130.7h0M393.9 137.0h0M406.8 133.6h0M399.2 122.8h0M397.9 148.9h0M392.3 144.8h0M422.0 145.3h0M407.7 145.2h0M414.6 126.8h0M409.5 129.3h0M389.6 143.2h0M399.2 138.2h0M395.5 143.5h0M409.8 134.0h0M398.3 131.2h0M406.4 131.6h0M397.5 140.3h0M407.8 143.4h0M411.7 127.8h0M406.0 129.9h0M394.8 137.1h0M403.0 139.1h0M401.9 140.9h0M403.9 138.0h0M413.1 148.5h0M402.5 122.2h0M393.5 145.0h0M418.5 142.4h0M416.6 134.0h0M401.4 145.6h0M411.3 140.4h0M410.2 136.5h0M393.2 144.6h0M407.6 131.6h0M402.0 142.8h0M400.8 128.8h0M408.6 142.7h0M412.7 142.6h0M408.0 135.5h0M391.5 135.8h0M401.2 148.3h0M402.1 139.1h0M411.8 129.0h0M397.1 145.7h0M414.9 125.2h0M406.4 146.2h0M399.8 137.1h0M406.5 134.3h0M401.8 118.1h0M397.1 134.1h0M407.1 149.0h0M424.0 146.3h0M407.0 129.0h0M404.2 144.2h0M404.6 138.4h0M415.2 130.2h0M400.4 147.2h0M409.9 143.5h0M407.9 129.7h0M415.8 134.1h0M409.7 141.0h0M409.4 129.0h0M409.7 128.0h0M408.4 134.2h0M417.3 132.8h0M404.8 135.8h0M391.4 135.2h0M405.4 131.3h0M404.5 138.7h0M408.6 140.6h0M413.6 144.7h0M403.6 139.0h0M405.5 133.5h0M402.0 129.2h0M407.1 143.4h0M402.5 133.3h0M398.8 127.5h0M397.5 137.9h0M393.2 147.8h0M411.6 136.9h0M401.1 142.9h0M403.1 150.1h0M404.6 139.8h0M399.4 144.2h0M409.4 140.2h0M418.2 130.7h0M392.0 123.1h0M400.5 134.3h0M403.0 140.1h0M413.8 131.7h0M414.9 133.0h0M398.5 141.9h0M412.2 141.5h0M398.4 146.4h0M408.8 131.4h0M406.1 138.2h0M405.6 132.9h0M418.3 133.5h0M408.7 136.5h0M407.8 125.7h0M420.7 147.3h0M405.5 144.8h0M406.6 142.6h0M405.2 126.2h0M401.5 133.0h0M400.8 123.0h0M404.2 140.8h0M408.7 131.3h0M418.2 135.4h0M408.6 135.4h0M399.9 137.8h0M398.9 129.2h0M391.9 138.0h0M410.3 136.5h0M403.0 135.3h0M411.9 133.3h0M405.4 139.3h0M404.9 139.1h0M410.6 134.9h0M419.9 132.2h0M405.9 138.6h0M405.6 129.1h0M406.1 130.3h0M404.7 140.5h0M411.4 136.7h0M402.3 151.5h0M405.0 149.2h0M400.1 138.5h0M417.4 130.9h0M397.1 143.5h0M417.5 142.5h0M409.2 133.3h0M408.5 142.9h0M403.1 125.8h0M414.0 128.9h0M396.1 133.7h0M413.8 128.1h0M406.2 149.6h0M408.8 135.4h0M399.9 126.2h0M415.9 127.7h0M406.8 143.5h0M401.5 135.4h0M413.3 137.7h0M414.7 144.5h0M416.7 127.2h0M408.1 137.4h0M404.5 125.2h0M404.7 145.5h0M412.9 132.0h0M405.0 136.1h0M411.7 132.2h0M401.1 127.2h0M411.6 149.7h0M408.8 141.0h0M411.7 129.2h0M410.3 147.2h0M413.4 135.6h0M400.3 132.3h0M414.5 132.8h0M406.7 138.5h0M403.8 130.7h0M409.1 131.8h0M402.8 144.7h0M411.2 122.2h0M397.8 142.1h0M399.2 142.4h0M413.6 144.1h0M418.7 128.2h0M399.5 133.6h0M402.6 143.5h0M409.5 131.4h0M402.8 128.8h0M403.4 127.9h0M419.9 142.7h0M403.6 136.1h0M411.9 137.1h0M415.4 138.3h0M423.1 141.8h0M398.2 130.3h0M402.3 149.3h0M403.9 143.5h0M395.7 140.8h0M398.3 133.9h0M406.1 127.7h0M423.4 129.5h0M402.5 148.8h0M413.1 120.5h0M409.2 144.5h0M398.7 137.2h0M400.8 132.1h0M418.9 144.0h0M400.2 128.8h0M411.8 138.9h0M403.9 139.0h0M396.7 132.2h0M400.9 145.8h0M406.2 130.4h0M400.9 144.8h0M409.0 133.7h0M403.8 142.5h0M404.2 135.7h0M401.4 120.7h0M410.8 136.3h0M412.5 158.7h0M403.9 141.4h0M403.7 132.3h0M400.5 134.8h0M406.7 149.3h0M409.1 133.5h0M413.6 131.1h0M411.6 138.9h0M402.4 140.5h0M414.7 141.8h0M392.6 125.2h0M405.4 135.2h0M395.7 142.4h0M409.8 145.5h0M408.3 149.1h0M401.4 134.5h0M411.0 139.8h0M395.0 131.8h0M410.6 138.0h0M400.8 135.2h0M405.1 135.7h0M409.6 141.7h0M400.5 153.1h0M408.4 136.3h0M420.1 137.3h0M397.6 128.1h0M401.8 132.9h0M393.3 134.4h0M399.8 145.9h0M409.4 131.3h0M413.7 135.8h0M391.4 136.9h0M416.7 137.6h0M401.6 137.6h0M401.8 141.2h0M408.2 134.9h0M412.2 148.8h0M408.7 146.1h0M412.4 136.0h0M406.7 147.5h0M409.2 144.0h0M394.8 142.6h0M393.6 150.9h0" stroke="#111" stroke-width="0.6" stroke-linecap="round" opacity="0.45" fill="none"/>
<path d="M400.4 156.5h0M415.7 116.1h0M406.5 141.5h0M421.2 128.1h0M404.3 122.0h0M397.5 150.0h0M402.0 148.2h0M427.4 158.0h0M428.2 117.3h0M419.0 155.1h0M421.1 145.3h0M405.2 133.1h0M399.7 147.1h0M389.0 117.8h0M408.9 127.2h0M403.9 142.9h0M399.5 136.4h0M409.3 119.4h0M428.9 150.3h0M392.5 131.4h0M419.3 143.1h0M390.6 120.1h0M410.3 116.7h0M414.5 150.7h0M425.4 148.4h0M390.0 125.1h0M404.2 155.7h0M420.6 137.7h0M395.4 140.5h0M401.6 131.3h0" stroke="#444" stroke-width="0.5" stroke-linecap="round" opacity="0.4" fill="none"/>
<path d="M397.60,149.50 L397.80,137.00 Q398.80,134.60 400.00,135.60 Q402.00,136.50 404.00,135.00 Q407.00,132.50 409.60,131.40 Q412.50,131.50 413.20,134.00 L413.70,149.50 Z" fill="#fafafa" stroke="#333" stroke-width="0.5"/>
<path d="M399.18,148.00 L399.34,138.00 Q400.14,136.08 401.10,136.88 Q402.70,137.60 404.30,136.40 Q406.70,134.40 408.78,133.52 Q411.10,133.60 411.66,135.60 L412.06,148.00 Z" fill="none" stroke="#888" stroke-width="0.4"/>
<path d="M400.76,146.50 L400.88,139.00 Q401.48,137.56 402.20,138.16 Q403.40,138.70 404.60,137.80 Q406.40,136.30 407.96,135.64 Q409.70,135.70 410.12,137.20 L410.42,146.50 Z" fill="none" stroke="#888" stroke-width="0.4"/>
<path d="M402.34,145.00 L402.42,140.00 Q402.82,139.04 403.30,139.44 Q404.10,139.80 404.90,139.20 Q406.10,138.20 407.14,137.76 Q408.30,137.80 408.58,138.80 L408.78,145.00 Z" fill="none" stroke="#888" stroke-width="0.4"/>
<path d="M393.60,150.50 L393.90,130.50 L397.00,130.00 L397.30,150.50 Z" fill="#000" stroke="none" stroke-width="0.5" opacity="0.95" filter="url(#b05)"/>
<line x1="395.40" y1="133.00" x2="395.50" y2="149.00" stroke="#fff" stroke-width="0.4" opacity="0.5"/>
<line x1="393.50" y1="150.20" x2="414.00" y2="150.20" stroke="#111" stroke-width="1.0" />
<rect x="400.90" y="140.00" width="24.00" height="16.10" stroke="#111" stroke-width="0.75" fill="none" />
<path d="M457.0 123.1h0M466.1 118.3h0M464.3 140.4h0M475.5 126.5h0M460.0 131.1h0M464.2 139.7h0M471.8 138.7h0M467.9 142.8h0M469.5 155.2h0M477.0 139.6h0M470.6 133.3h0M463.5 137.5h0M474.0 149.0h0M473.1 144.6h0M474.7 137.0h0M475.5 142.8h0M470.4 136.0h0M473.5 123.8h0M476.2 128.7h0M490.3 140.3h0M473.9 141.0h0M456.8 146.4h0M466.1 145.1h0M481.8 146.7h0M470.4 129.2h0M470.1 149.2h0M482.7 137.4h0M462.7 142.3h0M478.6 137.6h0M463.6 148.1h0M484.4 149.8h0M479.4 136.8h0M476.0 131.3h0M486.2 133.1h0M466.6 135.4h0M469.2 148.4h0M479.9 134.1h0M474.6 140.9h0M486.3 129.2h0M469.2 130.4h0M472.8 145.0h0M468.1 153.5h0M464.6 138.2h0M468.8 127.7h0M468.8 138.2h0M467.6 132.7h0M472.7 133.5h0M479.0 144.0h0M471.6 145.7h0M455.7 128.5h0M483.7 134.0h0M479.4 142.8h0M473.5 137.3h0M464.8 126.2h0M458.0 139.0h0M471.6 140.5h0M463.1 137.0h0M481.9 134.5h0M468.7 135.0h0M487.3 149.1h0M484.5 159.6h0M469.9 140.2h0M468.0 137.8h0M475.8 123.1h0M475.3 135.4h0M462.5 131.8h0M479.1 134.3h0M482.4 143.3h0M472.8 130.9h0M463.2 144.1h0M471.1 139.1h0M472.6 143.7h0M477.9 135.9h0M474.2 136.5h0M477.6 127.5h0M468.1 146.2h0M462.1 130.7h0M474.6 128.9h0M471.5 139.4h0M477.2 139.5h0M474.2 134.5h0M473.0 139.4h0M474.2 143.1h0M476.5 143.1h0M473.4 138.2h0M466.6 141.3h0M481.9 135.7h0M476.7 137.4h0M471.3 130.0h0M468.6 141.4h0M474.4 143.9h0M468.8 120.9h0M477.3 138.0h0M474.6 151.3h0M482.7 124.0h0M467.9 134.2h0M485.3 134.2h0M467.3 144.4h0M457.6 130.7h0M461.5 127.5h0M475.0 138.0h0M470.2 136.5h0M467.8 136.0h0M476.4 132.3h0M473.1 134.1h0M477.5 147.3h0M475.5 145.6h0M468.2 134.5h0M473.7 135.8h0M476.7 137.3h0M462.8 128.7h0M470.9 154.8h0M474.6 127.0h0M474.6 133.1h0M457.8 154.3h0M491.2 140.8h0M471.8 135.7h0M477.4 144.8h0M481.9 131.6h0M468.6 143.1h0M474.9 127.5h0M470.6 144.9h0M468.8 148.1h0M479.2 141.9h0M471.4 136.6h0M466.1 137.9h0M476.5 127.7h0M469.9 120.2h0M460.1 129.9h0M475.6 138.3h0M473.1 134.4h0M461.5 141.8h0M478.7 130.3h0M468.7 139.7h0M463.9 130.2h0M475.0 139.0h0M479.8 136.9h0M476.2 142.3h0M488.1 135.1h0M472.7 130.8h0M476.0 143.8h0M485.6 139.0h0M478.6 140.9h0M485.7 141.0h0M469.7 144.0h0M472.5 133.4h0M457.4 139.2h0M482.2 141.1h0M480.9 137.2h0M477.3 145.6h0M470.9 128.1h0M470.2 138.2h0M480.5 125.8h0M483.4 144.6h0M471.5 130.5h0M466.6 140.3h0M475.1 141.4h0M460.0 132.7h0M472.1 136.6h0M466.9 138.3h0M483.5 130.9h0M483.2 133.1h0M465.8 129.7h0M477.8 142.6h0M481.7 134.2h0M460.1 151.3h0M479.6 121.6h0M463.7 137.1h0M481.5 153.5h0M462.8 141.4h0M470.9 135.8h0M470.3 129.0h0M465.3 134.4h0M477.5 129.0h0M484.1 137.6h0M479.7 132.4h0M461.2 144.3h0M479.1 125.2h0M478.0 127.4h0M474.7 144.2h0M472.5 135.8h0M470.7 137.4h0M464.8 139.9h0M469.3 125.0h0M472.3 151.0h0M480.8 138.3h0M466.7 133.4h0M481.9 145.3h0M464.9 138.5h0M484.0 140.8h0M473.8 134.4h0M457.6 142.0h0M476.4 144.2h0M482.5 139.5h0M468.4 140.8h0M464.8 122.8h0M470.1 133.3h0M465.0 137.6h0M478.8 134.7h0M458.2 123.4h0M465.1 135.3h0M471.4 141.6h0M489.7 134.1h0M480.6 138.4h0M474.0 136.2h0M479.8 145.8h0M481.6 155.2h0M461.9 136.0h0M478.5 147.0h0M477.9 134.7h0M490.2 135.4h0M480.8 137.3h0M469.4 144.7h0M465.1 143.3h0M474.8 131.8h0M471.8 140.4h0M476.7 147.5h0M462.6 131.3h0M468.4 127.7h0M488.7 138.1h0M470.6 135.3h0M464.3 143.7h0M474.4 134.0h0M469.4 140.9h0M473.8 144.9h0M483.1 136.8h0M465.1 133.8h0M474.1 134.3h0M476.3 130.3h0M471.6 140.6h0M464.6 142.4h0M489.1 119.3h0M466.2 135.8h0M479.5 132.3h0M471.7 148.3h0M475.2 134.8h0M467.3 139.1h0M475.3 141.5h0M474.9 123.2h0M465.9 134.8h0M472.8 142.1h0M466.2 142.1h0M483.9 143.8h0M478.8 136.3h0M463.6 140.1h0M473.8 145.9h0M470.6 130.4h0" stroke="#333" stroke-width="0.5" stroke-linecap="round" opacity="0.35" fill="none"/>
<path d="M465.8 124.7h0M462.3 121.7h0M463.9 137.6h0M463.7 121.3h0M493.7 129.4h0M470.1 119.9h0M475.9 141.6h0M486.2 151.6h0M488.4 119.5h0M462.9 134.3h0M483.4 155.9h0M494.0 154.3h0M488.0 139.5h0M462.1 151.2h0M460.3 143.0h0M486.7 138.7h0M478.7 148.3h0M466.8 152.2h0M485.7 143.6h0M494.3 146.5h0M489.3 131.5h0M466.1 119.8h0M490.5 152.2h0M476.9 154.0h0M470.2 155.6h0" stroke="#444" stroke-width="0.5" stroke-linecap="round" opacity="0.4" fill="none"/>
<path d="M460.00,125.00 L469.00,124.50 L474.00,129.00 L474.50,137.00 L468.00,134.00 L461.00,131.00 Z" fill="#222" stroke="none" stroke-width="0.5" opacity="0.6" filter="url(#b1)"/>
<path d="M466.9 129.8h0M460.9 124.4h0M473.2 126.0h0M460.4 125.1h0M475.1 132.9h0M464.1 128.8h0M461.4 126.9h0M474.2 126.8h0M465.5 132.5h0M474.8 131.6h0M472.4 125.7h0M466.6 124.4h0M468.5 130.2h0M461.9 124.3h0M466.3 125.6h0M460.5 125.7h0M465.1 131.8h0M472.2 129.7h0M463.0 130.5h0M466.2 124.3h0M469.6 132.9h0M468.6 133.1h0M463.6 131.4h0M468.6 128.5h0M472.1 128.1h0M464.3 126.6h0M471.2 130.9h0M466.4 133.3h0M466.1 125.0h0M474.3 133.3h0M469.0 124.9h0M473.5 127.6h0M474.7 135.6h0M473.6 126.2h0M472.9 129.8h0M464.2 128.8h0M462.5 126.5h0M470.7 132.1h0M474.2 131.7h0M472.7 130.1h0M466.4 124.5h0M469.2 128.2h0M464.7 129.0h0M471.9 132.2h0M471.7 129.6h0M467.6 132.7h0M473.6 129.2h0M470.8 133.0h0M468.4 128.3h0M472.6 131.8h0M469.2 125.2h0M470.7 125.6h0M470.5 130.4h0M472.4 129.9h0M466.3 128.4h0M461.0 126.4h0M465.8 127.5h0M468.6 132.1h0M471.6 126.6h0M465.0 132.1h0M470.0 132.4h0M469.3 124.1h0M467.9 124.0h0M465.9 127.7h0M475.7 132.3h0M463.7 128.0h0M470.3 124.9h0M475.6 134.8h0M464.0 124.4h0M475.9 132.8h0M466.1 127.0h0M472.4 131.2h0M467.4 125.0h0M474.8 133.5h0M465.9 131.2h0M463.3 128.7h0M468.7 127.0h0M467.6 133.5h0M462.6 129.6h0M472.5 126.5h0M474.0 131.3h0M473.5 128.1h0M475.1 136.4h0M460.4 127.0h0M464.8 131.8h0M471.0 125.9h0M467.8 133.0h0M475.7 129.5h0M468.3 129.3h0M461.5 128.9h0M465.2 123.5h0M474.4 131.7h0M468.5 124.6h0M474.9 134.1h0M471.0 127.0h0M475.1 130.4h0M470.8 127.0h0M467.9 126.1h0M463.1 130.6h0M466.8 127.0h0M471.0 124.4h0M466.6 131.4h0M467.0 123.4h0M472.3 130.9h0M474.3 135.4h0M464.3 129.5h0M470.9 134.6h0M470.1 134.0h0M464.1 126.7h0M475.6 136.1h0M470.8 133.8h0M474.7 133.9h0M465.5 123.8h0M469.3 130.4h0M471.7 133.8h0M461.7 125.0h0M469.8 124.5h0M468.0 132.1h0M464.7 128.9h0M472.8 126.1h0M463.5 123.5h0M460.2 127.0h0M473.5 134.9h0M464.9 131.9h0M468.7 125.9h0M464.1 127.2h0M475.3 129.4h0M462.0 130.7h0M472.3 131.5h0M471.4 128.8h0M460.9 124.1h0M462.1 126.2h0M473.0 134.2h0M469.5 132.8h0M468.6 132.2h0M466.4 129.2h0M474.6 134.9h0M464.9 130.4h0M466.3 124.7h0M469.5 123.3h0M468.3 127.5h0M465.4 132.8h0M466.7 125.7h0M464.6 127.4h0M471.9 126.3h0M475.6 131.3h0M474.0 129.2h0M466.7 132.0h0M474.7 134.7h0M464.7 124.3h0M467.7 131.7h0M475.4 129.9h0M475.7 128.6h0M466.5 124.0h0M464.9 124.6h0M468.5 128.7h0M470.7 131.6h0M464.9 123.5h0M461.7 123.7h0M461.7 126.1h0M471.5 127.5h0M469.0 123.5h0M471.4 135.2h0M467.1 128.7h0M463.9 129.6h0M475.1 133.8h0M466.8 130.7h0M469.9 127.9h0M465.7 124.0h0M469.6 125.5h0M467.4 130.9h0M460.1 126.1h0M468.4 131.1h0M471.3 131.1h0M464.6 127.4h0M460.7 127.2h0M466.4 129.9h0M467.8 126.4h0M462.1 129.6h0M462.2 130.4h0M470.1 131.9h0M472.6 125.5h0M466.6 126.5h0M474.7 136.4h0M466.7 126.6h0M471.9 127.4h0M473.7 136.1h0M461.0 128.0h0M472.4 131.6h0M469.9 124.7h0M469.8 124.3h0M472.7 132.0h0M472.3 132.1h0M475.8 128.9h0M474.0 127.9h0M465.7 128.9h0M464.4 128.5h0M468.8 130.1h0M475.5 130.8h0M473.2 126.9h0M463.9 125.5h0M467.7 132.8h0M460.3 127.2h0M475.4 134.5h0M467.4 131.5h0M460.6 126.0h0M471.8 133.4h0M468.3 129.4h0M470.5 123.6h0M463.5 125.6h0M467.4 132.7h0M471.9 131.7h0M466.9 131.3h0M475.4 129.9h0M465.2 130.4h0M460.9 125.6h0M468.7 132.2h0M465.2 132.1h0M470.5 130.1h0M463.9 126.0h0M461.8 124.8h0M469.9 130.7h0M467.7 124.0h0M467.5 129.6h0M466.7 126.9h0M472.5 128.9h0M463.2 124.3h0M472.7 134.9h0M468.4 134.1h0M465.8 132.4h0M461.9 124.9h0M473.7 134.0h0M465.9 131.8h0M463.5 124.8h0M466.3 133.0h0M469.2 132.5h0M468.0 125.2h0M467.6 127.2h0M466.6 131.8h0M466.2 130.0h0M466.1 132.3h0M469.2 124.9h0M464.3 128.6h0M467.5 132.2h0M474.6 135.3h0M467.0 128.5h0M472.7 134.0h0M468.4 133.0h0M465.8 127.5h0M460.6 127.0h0M472.5 125.3h0M475.5 131.9h0M463.0 126.7h0M475.9 136.5h0M461.0 125.3h0M462.6 124.3h0M466.1 126.4h0M468.2 123.4h0M470.2 132.1h0M467.1 132.7h0M469.0 134.2h0M471.0 126.9h0M464.1 132.2h0M475.0 135.8h0M471.9 134.1h0M474.9 127.8h0M460.9 130.0h0M474.3 133.6h0M468.5 133.2h0M461.5 125.6h0M471.7 127.5h0M461.0 125.1h0M464.4 125.1h0M472.7 133.6h0M460.0 123.7h0M474.7 135.3h0M466.2 124.6h0M467.2 131.5h0M472.0 126.2h0M471.4 130.8h0M474.2 126.7h0M462.0 124.3h0M465.7 128.4h0M469.4 128.5h0M469.9 127.0h0M475.0 131.1h0M470.8 128.0h0M463.0 123.8h0M464.8 124.1h0M468.8 124.5h0M471.7 127.5h0M470.8 131.2h0M470.8 131.9h0M466.8 133.2h0M474.2 134.0h0M463.2 131.7h0M466.2 123.9h0M463.8 124.2h0M471.1 125.5h0M469.7 125.9h0" stroke="#111" stroke-width="0.6" stroke-linecap="round" opacity="0.55" fill="none"/>
<path d="M460.50,127.50 L467.50,126.50 L469.50,134.00 L475.00,139.00 L484.00,139.50 L487.00,143.00 L486.50,148.50 L480.00,150.50 L462.50,151.50 L460.00,146.00 Z" fill="#111" stroke="none" stroke-width="0.5" opacity="0.68" filter="url(#b05)"/>
<path d="M459.7 144.6h0M463.1 136.6h0M465.9 128.7h0M484.4 144.6h0M470.3 141.3h0M462.3 140.1h0M471.7 151.4h0M475.3 146.0h0M462.7 137.8h0M469.4 143.5h0M463.0 136.0h0M478.5 139.5h0M461.9 142.9h0M463.8 146.6h0M473.5 144.2h0M466.7 148.8h0M468.3 145.4h0M462.6 140.5h0M483.8 145.1h0M460.6 144.6h0M464.4 133.1h0M468.2 135.6h0M484.0 141.6h0M464.6 136.5h0M473.1 141.5h0M482.2 140.3h0M470.7 141.7h0M481.9 140.2h0M476.2 146.5h0M467.2 139.1h0M469.8 148.8h0M463.6 148.2h0M480.1 145.8h0M473.6 137.8h0M479.8 144.7h0M476.6 145.1h0M461.7 132.7h0M465.4 144.4h0M485.5 142.8h0M477.8 139.6h0M466.7 140.1h0M462.4 136.9h0M471.6 145.8h0M467.4 140.7h0M460.4 143.3h0M480.8 140.7h0M465.0 141.5h0M466.5 145.1h0M462.8 148.0h0M482.3 147.4h0M480.2 150.0h0M461.5 138.5h0M479.2 142.8h0M466.4 132.1h0M477.9 139.7h0M463.5 134.5h0M468.6 129.9h0M471.5 137.6h0M467.9 138.6h0M468.2 148.9h0M471.6 137.7h0M471.2 137.7h0M470.8 142.6h0M461.7 135.0h0M460.5 128.8h0M462.1 148.0h0M476.9 145.7h0M472.8 141.7h0M485.0 141.8h0M485.4 142.8h0M464.7 148.9h0M470.6 150.3h0M466.7 141.3h0M470.5 136.7h0M467.4 129.1h0M463.3 150.4h0M481.8 149.1h0M474.1 139.5h0M478.5 141.9h0M484.5 147.7h0M462.9 131.7h0M478.0 139.4h0M470.3 145.2h0M464.4 140.5h0M462.2 138.5h0M465.1 149.4h0M465.2 133.2h0M471.7 144.4h0M471.9 143.4h0M464.3 149.9h0M470.0 148.7h0M482.0 144.5h0M466.4 129.2h0M480.3 149.5h0M467.1 129.4h0M463.9 148.6h0M471.0 138.9h0M476.5 148.4h0M470.4 150.3h0M473.6 140.3h0M461.9 137.2h0M482.3 143.7h0M467.9 129.6h0M467.7 133.5h0M462.2 137.6h0M460.0 129.8h0M471.6 139.8h0M473.3 142.6h0M482.8 145.3h0M463.1 135.2h0M472.3 150.9h0M471.3 148.2h0M466.0 144.3h0M469.4 139.0h0M468.6 149.9h0M472.1 145.2h0M471.4 143.3h0M467.4 130.0h0M468.1 146.8h0M464.3 137.9h0M479.0 140.2h0M464.4 139.0h0M463.5 141.4h0M474.6 147.7h0M479.3 145.5h0M478.6 149.5h0M464.1 151.4h0M480.0 149.3h0M465.8 141.4h0M464.4 149.7h0M466.7 143.5h0M465.0 126.9h0M470.5 149.4h0M478.2 143.6h0M480.3 141.9h0M465.4 137.7h0M471.0 142.4h0M468.3 132.5h0M469.1 140.5h0M470.4 150.3h0M466.5 144.9h0M469.4 132.5h0M467.8 140.1h0M477.7 146.1h0M466.6 151.2h0M464.7 148.7h0M481.1 150.6h0M464.3 130.6h0M468.3 131.6h0M470.3 138.8h0M481.1 140.5h0M473.1 149.7h0M483.5 142.2h0M484.7 141.2h0M465.8 135.7h0M484.9 146.9h0M479.3 145.3h0M478.3 142.3h0M465.8 141.6h0M459.8 135.2h0M481.2 150.4h0M480.4 148.4h0M460.8 129.2h0M468.0 127.0h0M462.2 129.5h0M467.0 150.1h0M465.3 141.6h0M461.5 150.1h0M460.3 143.0h0M460.0 128.5h0M475.0 143.0h0M467.8 126.4h0M473.0 140.2h0M466.0 149.6h0M463.2 135.1h0M471.0 142.9h0M476.1 150.2h0M477.7 145.1h0M464.8 142.4h0M471.7 148.5h0M466.4 144.2h0M465.7 141.8h0M463.4 128.7h0M477.3 143.1h0M471.1 141.2h0M475.1 149.6h0M464.5 145.0h0M465.7 138.0h0M480.8 143.8h0M465.3 140.6h0M481.1 150.4h0M464.9 140.3h0M481.7 146.1h0M462.9 144.6h0M468.1 131.8h0M462.3 138.7h0M480.9 145.5h0M471.0 141.1h0M467.5 133.4h0M469.4 144.1h0M482.5 147.0h0M483.6 143.2h0M470.2 149.4h0M471.9 142.4h0M460.9 132.3h0M469.9 147.9h0M464.5 147.1h0M467.7 128.1h0M487.3 145.0h0M467.9 135.4h0M477.2 148.1h0M466.4 143.4h0M460.3 147.0h0M460.1 143.2h0M470.4 146.7h0M476.8 142.3h0M462.9 136.6h0M460.0 134.0h0M477.7 141.6h0M463.4 137.8h0M463.5 135.7h0M462.3 140.3h0M461.1 129.5h0M486.3 145.2h0M468.6 141.4h0M469.6 148.3h0M460.2 132.9h0M465.8 132.6h0M472.4 147.5h0M467.2 141.2h0M463.0 128.5h0M468.3 129.2h0M480.1 150.4h0M469.1 148.7h0M476.0 148.4h0M466.5 138.0h0M467.3 143.0h0M467.8 137.4h0M473.3 143.7h0M469.8 138.7h0M460.5 135.4h0M471.1 145.1h0M480.7 149.3h0M473.0 142.2h0M465.1 145.4h0M482.6 146.1h0M468.5 132.1h0M461.7 128.0h0M485.4 143.7h0M478.9 148.5h0M463.1 150.0h0M463.6 144.6h0M464.8 141.5h0M476.8 141.9h0M474.0 148.0h0M466.8 134.9h0M469.6 141.8h0M471.1 140.8h0M479.5 147.1h0M478.6 146.2h0M469.1 147.3h0M468.0 132.6h0M482.4 145.2h0M469.1 145.1h0M479.1 144.5h0M467.6 128.0h0M484.6 144.6h0M473.8 149.1h0M464.4 127.6h0M471.4 142.2h0M467.9 137.7h0M475.8 141.6h0M471.5 145.6h0M467.0 148.9h0M467.3 128.8h0M475.4 144.6h0M464.8 151.8h0M467.6 148.0h0M466.7 126.8h0M461.4 127.4h0M482.7 140.7h0M459.6 142.9h0M483.3 142.3h0M468.3 133.9h0M461.9 150.0h0M469.2 133.8h0M483.4 145.2h0M461.2 139.6h0M479.8 146.6h0M460.8 127.3h0M484.7 147.3h0M482.9 139.7h0M487.2 144.7h0M463.8 138.6h0M464.4 142.8h0M483.5 145.4h0M471.4 143.1h0M472.3 146.6h0M477.1 145.2h0M471.5 151.0h0M462.0 138.5h0M475.7 148.5h0M467.2 140.6h0M485.8 142.5h0M465.4 147.2h0M466.0 131.0h0M472.5 142.6h0M467.8 128.3h0M464.4 151.3h0M477.2 143.7h0M465.4 147.4h0M459.8 135.1h0M466.5 141.6h0M478.6 139.7h0M473.9 143.6h0M460.4 137.9h0M463.4 142.3h0M463.8 143.9h0M460.9 128.6h0M462.0 141.5h0M473.0 140.6h0M474.2 143.6h0M480.3 146.0h0M481.8 146.4h0M478.6 148.4h0M483.1 149.4h0M485.5 147.3h0M481.3 144.0h0M465.4 135.9h0M460.3 135.7h0M464.1 140.3h0M461.6 130.2h0M466.5 134.3h0M459.7 138.5h0M464.0 139.3h0M462.3 127.0h0M461.1 148.7h0M473.4 144.0h0M475.7 140.3h0M462.8 126.7h0M467.9 126.4h0M476.7 139.1h0M482.8 148.0h0M472.4 142.5h0M477.2 143.4h0M471.3 151.0h0M464.8 126.4h0M463.1 129.6h0M482.3 146.2h0M464.7 145.8h0M480.2 144.1h0M472.6 143.2h0M464.4 150.8h0M467.1 134.2h0M485.0 142.4h0M466.0 133.3h0M482.7 140.5h0M467.2 136.7h0M475.6 141.2h0M477.7 145.4h0M463.2 150.9h0M460.2 140.3h0M476.2 143.6h0M482.0 145.6h0M468.3 138.3h0M463.0 127.1h0M474.1 146.0h0M468.1 139.4h0M479.3 146.9h0M467.7 137.7h0M472.1 138.8h0M463.5 149.8h0M469.9 137.7h0M481.1 139.7h0M486.7 147.7h0M473.9 149.4h0M466.1 144.3h0M473.5 148.4h0M468.4 134.2h0M460.3 130.4h0M481.9 146.3h0M473.7 144.6h0M469.1 136.4h0M478.3 142.1h0M466.9 151.1h0M485.8 148.4h0M464.3 130.0h0M469.3 133.5h0M468.9 149.0h0M466.2 133.7h0M475.8 151.1h0M480.5 139.3h0M466.4 147.5h0M461.6 131.1h0M464.2 140.0h0M468.0 134.6h0M468.7 140.4h0M475.1 146.6h0M466.0 134.0h0M465.2 147.4h0M466.5 147.2h0M479.2 146.7h0M468.5 148.8h0M460.3 127.5h0M472.6 147.1h0M465.6 141.9h0M472.3 139.3h0M462.4 134.1h0M461.1 130.0h0M475.1 146.9h0M466.8 132.6h0M464.3 140.6h0M484.2 148.8h0M468.8 137.9h0M460.6 133.7h0M465.9 130.7h0M482.5 148.2h0M462.4 150.1h0M483.4 149.1h0M483.7 143.2h0M484.3 143.8h0M480.3 141.8h0M462.6 128.3h0M481.2 142.1h0M465.2 130.8h0M486.1 143.1h0M484.0 145.4h0M462.6 128.2h0M471.3 144.8h0M463.0 129.5h0M470.9 138.3h0M472.0 136.6h0M467.3 135.7h0M480.6 139.7h0M478.1 140.8h0M465.0 126.5h0M465.8 134.8h0M463.3 136.2h0M464.6 149.5h0M482.6 150.0h0M483.4 145.5h0M483.4 149.0h0M465.1 141.6h0M460.4 134.8h0M466.0 128.3h0M486.4 143.0h0M468.4 142.7h0M467.5 139.4h0M484.6 142.5h0M467.1 139.5h0M462.7 144.1h0M467.2 145.2h0M484.7 141.8h0M477.2 149.5h0M460.3 131.0h0M481.0 144.4h0M464.5 135.5h0M469.1 142.6h0M472.9 150.5h0M460.4 134.4h0M469.6 146.0h0M467.8 141.7h0M469.1 138.7h0M463.5 131.1h0M471.8 148.5h0M466.0 129.1h0M462.6 146.6h0M468.9 136.0h0M463.3 138.5h0M468.6 134.6h0M460.8 140.2h0M486.9 144.3h0M460.5 141.1h0M462.5 138.5h0M460.4 145.5h0M464.4 127.8h0M472.7 141.1h0M460.9 139.5h0M463.6 143.7h0M465.8 150.9h0M483.1 140.1h0M468.3 136.6h0M465.7 142.1h0M464.3 136.5h0M486.9 144.7h0M467.8 134.9h0M472.8 150.1h0M460.8 129.9h0M484.6 148.1h0M478.9 148.4h0M479.9 144.6h0M468.8 149.9h0M463.8 134.2h0M466.9 132.2h0M477.4 149.0h0M464.5 147.2h0M465.2 142.2h0M480.1 147.7h0M461.9 151.2h0M467.1 133.0h0" stroke="#000" stroke-width="0.7" stroke-linecap="round" opacity="0.6" fill="none"/>
<path d="M461.3 129.0h0M467.5 131.7h0M465.4 128.2h0M463.0 128.4h0M462.4 135.4h0M464.8 130.7h0M466.5 133.1h0M463.2 132.5h0M464.9 133.7h0M462.8 130.5h0M463.5 128.8h0M464.7 128.9h0M461.6 131.4h0M462.7 131.5h0M465.8 133.1h0M468.7 133.7h0M464.9 131.2h0M465.5 130.4h0M465.6 127.9h0M463.4 131.1h0M466.2 129.0h0M463.9 134.7h0M462.3 135.5h0M466.0 129.6h0M462.6 129.0h0M465.2 128.9h0M461.6 128.8h0M465.4 130.8h0M466.3 131.2h0M464.8 134.0h0M465.7 128.4h0M462.1 135.6h0M464.7 128.7h0M464.6 133.6h0M462.2 133.6h0M461.9 132.4h0M462.8 134.3h0M463.5 128.9h0M463.4 131.3h0M461.6 129.6h0M464.3 129.9h0M462.9 132.6h0M466.0 130.8h0M463.4 135.2h0M466.1 130.2h0M463.2 133.1h0M461.7 134.1h0M465.9 127.8h0M467.1 130.8h0M466.1 132.7h0M462.2 131.1h0M462.8 135.6h0M462.3 135.1h0M464.7 130.7h0M464.0 131.8h0M464.7 128.3h0M467.5 132.8h0M462.6 131.1h0M464.5 132.4h0M461.9 130.9h0" stroke="#fff" stroke-width="0.6" stroke-linecap="round" opacity="0.5" fill="none"/>
<path d="M482.0 145.3h0M480.5 146.0h0M483.4 146.8h0M484.0 148.8h0M484.5 143.0h0M483.5 142.7h0M481.4 144.5h0M480.6 143.6h0M483.7 142.9h0M482.8 143.0h0M484.6 144.4h0M488.5 142.9h0M486.8 146.6h0M487.0 143.3h0M490.0 139.6h0M483.5 144.9h0M483.3 144.4h0M486.6 143.8h0M484.2 145.4h0M484.1 142.3h0M480.6 145.9h0M489.2 140.9h0M483.4 147.8h0M481.9 141.0h0M486.2 144.0h0M486.5 139.7h0M486.8 141.9h0M487.8 146.4h0M483.6 147.3h0M484.4 140.9h0M483.9 139.9h0M484.4 141.0h0M487.8 140.8h0M488.0 146.2h0M480.9 143.5h0M484.3 142.1h0M484.5 150.0h0M484.6 140.4h0M482.7 142.4h0M490.6 142.4h0M488.6 139.6h0M483.8 142.7h0M483.8 144.7h0M486.0 143.4h0M481.6 144.5h0M484.8 145.9h0M482.7 147.7h0M485.7 140.2h0M487.0 140.9h0M483.2 143.0h0M485.6 150.8h0M484.4 145.5h0M486.1 143.2h0M481.1 144.0h0M479.9 145.0h0M481.3 144.8h0M487.5 141.7h0M486.4 147.4h0M482.3 137.6h0M483.4 144.8h0M482.4 143.9h0M485.5 146.1h0M487.9 145.1h0M482.9 143.0h0M480.9 145.9h0M490.1 139.9h0M486.3 146.1h0M492.5 150.1h0M484.0 147.0h0M486.9 138.7h0M485.4 143.2h0M489.2 143.3h0M486.2 148.4h0M487.6 140.3h0M485.0 145.1h0M486.3 143.3h0M487.4 141.8h0M483.9 148.4h0M484.3 139.8h0M488.6 140.1h0M483.3 144.8h0M487.0 146.3h0M487.5 146.4h0M486.5 144.2h0M484.3 142.4h0M490.8 146.8h0M485.7 147.6h0M486.4 145.9h0M485.7 145.9h0M485.5 140.2h0M485.7 146.0h0M485.2 143.4h0M485.6 144.0h0M482.3 143.9h0M483.2 140.3h0M486.1 144.9h0M487.2 143.3h0M486.2 144.5h0M486.5 141.7h0M487.4 142.0h0M480.1 143.9h0M481.3 147.0h0M482.0 144.3h0M480.9 145.2h0M488.6 143.0h0M488.0 143.6h0M482.2 143.2h0M483.0 145.9h0M486.4 149.1h0M483.1 143.7h0M483.6 141.6h0M484.2 145.7h0M486.7 147.2h0M484.2 143.6h0M484.0 133.8h0M485.1 144.2h0M483.7 144.5h0M487.7 140.3h0M486.0 142.1h0M484.6 143.4h0M484.4 148.5h0M484.7 143.3h0M482.3 148.9h0M486.2 144.1h0M482.9 143.0h0M489.1 141.4h0M482.6 148.2h0M482.5 146.1h0M489.9 140.3h0M482.5 147.9h0M488.4 150.1h0M485.7 144.6h0M482.2 143.3h0M485.0 144.9h0M482.9 143.3h0M487.5 148.8h0M486.6 146.5h0M488.9 138.2h0M489.8 144.0h0M480.9 145.0h0M486.9 142.3h0M488.1 146.8h0M490.9 144.0h0M485.1 142.6h0M482.4 145.2h0M490.5 142.2h0M483.0 144.5h0M483.3 145.6h0M484.4 142.5h0M483.7 144.2h0M488.7 138.2h0M489.8 145.2h0M488.7 146.8h0M486.5 141.5h0M482.9 146.5h0M486.4 150.3h0M476.9 142.2h0M478.5 150.0h0M483.2 139.6h0M486.7 146.2h0" stroke="#222" stroke-width="0.5" stroke-linecap="round" opacity="0.5" fill="none"/>
<path d="M461.00,144.00 L468.50,143.50 L468.50,150.50 L461.50,150.50 Z" fill="#000" stroke="none" stroke-width="0.5" opacity="0.7" filter="url(#b1)"/>
<path d="M462.3,140.8 L466.2,134.6 L471.3,140.8 Z" fill="#e8e8e8" stroke="#555" stroke-width="0.4"/>
<path d="M464,140.3 L466.3,136.6 L469.5,140.3" fill="none" stroke="#888" stroke-width="0.35"/>
<ellipse cx="475.9" cy="144.6" rx="6.0" ry="2.3" fill="#f2f2f2" stroke="#333" stroke-width="0.5"/>
<ellipse cx="475.9" cy="144.6" rx="4.2" ry="1.5" transform="rotate(0 475.9 144.6)" fill="none" stroke="#888" stroke-width="0.35" opacity="1"/>
<ellipse cx="475.9" cy="144.6" rx="2.3" ry="0.8" transform="rotate(0 475.9 144.6)" fill="none" stroke="#999" stroke-width="0.3" opacity="1"/>
<rect x="457.40" y="118.20" width="18.50" height="23.40" stroke="#111" stroke-width="0.75" fill="none" />
<path d="M534.6 134.3h0M535.4 131.4h0M536.6 136.0h0M534.7 135.9h0M533.8 130.2h0M539.8 134.8h0M536.7 131.0h0M534.9 139.0h0M532.8 134.0h0M537.9 138.1h0M536.6 129.5h0M532.3 132.2h0M533.8 127.5h0M536.9 135.7h0M534.6 141.2h0M533.2 140.4h0M533.3 141.4h0M534.6 140.9h0M534.0 141.3h0M533.0 134.4h0M538.2 134.1h0M535.3 129.0h0M535.7 137.2h0M537.4 136.1h0M536.2 132.5h0M535.4 139.2h0M532.8 136.8h0M533.7 128.2h0M533.5 140.9h0M536.0 137.7h0M535.2 141.4h0M532.9 131.7h0M534.7 133.8h0M538.6 139.8h0M535.9 132.6h0M535.2 126.6h0M537.5 133.8h0M538.7 138.6h0M536.5 126.3h0M538.9 138.8h0M535.4 136.9h0M532.3 129.3h0M538.6 138.6h0M537.0 134.0h0M532.4 128.0h0M536.7 140.4h0M538.8 138.1h0M532.4 138.4h0M533.7 140.1h0M533.4 131.2h0M538.1 137.5h0M533.9 132.8h0M535.1 132.6h0M534.2 139.3h0M533.6 130.0h0M537.9 140.3h0M536.2 131.6h0M537.8 140.5h0M536.0 135.8h0M535.5 136.1h0M536.4 126.3h0M537.8 136.2h0M537.3 128.0h0M538.9 136.0h0M536.9 132.5h0M539.5 132.6h0M535.5 139.1h0M534.2 140.7h0M534.7 136.7h0M536.0 131.8h0M535.6 136.8h0M532.9 137.6h0M536.1 141.9h0M534.2 130.6h0M537.6 127.3h0M538.7 135.0h0M533.9 130.3h0M538.3 138.1h0M532.0 128.7h0M533.5 134.8h0M539.7 134.9h0M536.1 132.5h0M537.1 128.5h0M535.5 141.2h0M534.2 141.7h0M535.6 139.2h0M537.6 129.0h0M534.3 132.5h0M538.3 133.8h0M534.7 131.7h0" stroke="#333" stroke-width="0.5" stroke-linecap="round" opacity="0.45" fill="none"/>
<path d="M555.1 127.9h0M560.8 138.3h0M551.9 129.9h0M552.0 138.8h0M563.3 135.2h0M556.3 130.4h0M556.6 133.5h0M553.3 125.9h0M551.4 139.3h0M560.7 131.6h0M560.1 133.8h0M553.6 138.6h0M551.5 135.0h0M551.6 139.0h0M551.4 129.6h0M559.3 128.9h0M551.1 124.1h0M559.8 133.7h0M557.4 134.0h0M556.6 136.2h0M555.3 132.4h0M555.7 127.3h0M553.4 129.4h0M560.4 141.4h0M557.5 129.6h0M551.6 126.9h0M554.0 127.1h0M560.5 132.3h0M552.8 137.3h0M561.6 132.5h0M556.9 130.4h0M557.8 137.7h0M553.4 136.1h0M552.6 131.3h0M551.5 140.8h0M562.6 135.2h0M551.2 136.3h0M560.6 135.0h0M554.8 140.8h0M554.0 125.5h0M554.4 126.8h0M551.5 124.6h0M551.0 140.9h0M553.1 126.7h0M552.4 141.3h0M561.8 134.6h0M559.2 132.2h0M553.8 136.8h0M553.2 137.3h0M560.6 129.5h0M558.4 134.7h0M558.8 138.1h0M557.8 128.8h0M554.0 139.3h0M554.2 127.3h0M557.4 140.4h0M551.5 139.0h0M558.4 139.2h0M563.2 138.5h0M551.7 133.1h0M556.1 139.9h0M555.5 130.4h0M559.9 128.3h0M554.2 128.3h0M555.4 129.7h0M562.7 137.8h0M557.6 133.9h0M557.7 134.0h0M556.0 133.4h0M562.6 135.3h0M553.4 127.9h0M561.8 135.1h0M551.6 130.2h0M555.8 141.4h0M560.2 134.8h0M558.5 132.4h0M555.9 140.5h0M551.3 139.9h0M555.1 135.1h0M555.5 127.0h0M557.1 132.1h0M552.9 137.0h0M552.5 130.4h0M557.3 126.9h0M559.5 139.5h0M559.9 141.8h0M556.6 127.7h0M553.6 131.8h0M555.4 127.7h0M552.6 140.9h0M553.4 135.8h0M551.5 130.3h0M561.9 137.0h0M551.6 136.6h0M554.1 134.9h0M551.2 131.5h0M554.6 136.5h0M558.3 130.8h0M558.6 129.9h0M556.3 130.5h0M553.1 127.9h0M553.0 125.1h0M553.7 141.1h0M562.3 139.2h0M559.9 132.4h0M561.9 133.8h0M556.6 130.3h0M554.4 135.4h0M562.4 134.8h0M554.7 134.2h0M557.7 129.9h0M551.7 128.1h0M551.1 139.4h0M560.4 131.5h0M558.3 128.6h0M558.6 132.0h0M561.0 140.6h0M552.1 140.7h0M554.8 139.8h0M562.2 136.6h0M556.1 137.0h0M551.7 127.3h0M561.8 134.6h0M560.8 140.0h0M563.7 135.9h0M552.4 126.0h0M554.1 141.1h0M562.1 132.8h0M554.0 138.5h0M550.6 138.0h0M552.6 126.1h0M554.4 130.6h0M563.1 139.5h0M558.7 135.4h0M557.6 128.8h0M550.4 136.6h0M560.5 133.0h0M557.7 140.1h0M556.9 131.7h0M555.4 140.4h0M561.4 132.9h0M559.2 133.6h0M553.7 141.1h0M558.0 134.2h0M551.9 140.0h0M558.3 127.3h0M554.9 140.8h0M559.1 136.0h0M554.9 141.0h0M558.0 137.1h0M559.0 138.9h0M554.2 130.2h0M559.4 135.3h0M556.1 138.4h0M551.6 137.6h0M557.3 139.5h0M557.5 129.5h0M556.6 138.1h0M559.4 131.0h0M552.8 134.2h0M551.7 135.3h0M556.8 133.2h0M551.4 135.4h0M556.7 134.4h0M553.9 128.7h0M552.4 141.5h0M557.0 135.3h0M556.0 129.7h0M552.1 137.6h0M551.9 141.6h0M551.5 130.3h0M557.4 133.0h0M553.3 129.7h0M558.9 138.6h0M551.9 129.3h0M551.5 138.3h0M552.8 138.4h0M551.8 138.2h0M559.1 133.1h0M558.1 131.4h0M556.9 129.8h0M554.9 137.3h0M562.5 138.3h0M557.9 139.3h0M562.1 135.2h0M554.0 129.3h0M557.8 140.3h0M560.8 131.0h0M560.7 137.2h0M563.6 135.6h0M557.6 127.4h0M553.4 135.9h0M555.9 131.7h0M554.0 126.5h0M558.4 141.5h0M559.8 128.4h0M556.8 139.7h0M552.8 128.8h0M557.8 129.3h0M555.5 131.6h0M551.8 137.3h0M550.6 134.5h0M555.4 141.7h0M553.9 140.0h0M550.4 137.9h0M551.4 128.0h0M558.3 136.1h0M557.9 139.3h0M550.9 132.3h0M555.7 140.3h0M552.6 141.8h0M553.9 141.9h0M552.7 131.1h0M562.9 142.0h0M552.8 134.8h0M556.5 137.9h0M563.4 137.5h0M559.8 135.7h0M558.2 129.3h0M557.9 132.4h0M550.3 137.5h0M563.3 135.9h0M560.7 130.5h0M556.9 129.5h0M558.2 127.7h0M555.9 132.2h0M550.9 132.6h0M561.7 141.4h0M553.5 137.3h0M552.2 137.6h0M555.2 135.1h0M560.9 137.9h0M559.8 131.0h0M560.8 129.8h0M555.8 129.3h0M550.3 140.4h0M558.9 132.3h0M556.8 140.2h0M550.6 138.2h0M560.5 136.5h0M561.3 134.4h0M558.0 140.3h0M551.3 135.8h0M560.8 140.0h0M560.8 133.6h0M552.9 134.5h0M559.7 128.2h0M562.6 141.2h0M563.6 136.3h0M560.8 130.7h0M559.5 141.0h0M551.4 127.1h0M559.2 133.5h0M553.6 133.2h0M556.5 138.2h0M557.7 134.3h0M552.9 132.2h0M559.8 130.5h0M552.5 132.0h0M552.7 129.8h0" stroke="#222" stroke-width="0.5" stroke-linecap="round" opacity="0.45" fill="none"/>
<path d="M545.4 135.1h0M541.1 136.1h0M548.5 133.1h0M549.2 131.6h0M550.1 140.9h0M550.9 138.9h0M541.2 139.5h0M547.9 135.4h0M548.9 134.9h0M544.1 133.3h0M544.9 131.7h0M547.2 128.9h0M547.2 127.7h0M541.7 139.7h0M550.4 131.2h0M541.1 138.2h0M548.8 132.8h0M542.1 139.3h0M551.3 139.5h0M543.0 141.6h0M550.2 133.9h0M538.9 138.8h0M548.2 130.2h0M546.6 138.5h0M545.9 130.4h0M542.3 138.9h0M550.8 139.2h0M541.1 132.8h0M539.8 135.2h0M547.2 134.2h0M546.0 140.7h0M550.4 133.5h0M545.3 128.2h0M547.2 139.5h0M544.7 127.8h0M544.4 134.9h0M545.9 136.0h0M545.1 136.8h0M542.5 139.8h0M542.7 133.7h0M547.8 134.8h0M547.5 130.0h0M541.9 141.8h0M550.8 133.6h0M542.9 141.3h0M546.8 125.2h0M540.2 140.3h0M550.6 129.4h0M540.2 136.1h0M541.7 130.9h0M546.4 136.3h0M543.9 128.0h0M541.5 140.2h0M544.2 137.6h0M544.2 141.2h0M550.0 135.5h0M549.7 138.5h0M547.6 130.9h0M543.7 135.1h0M546.6 139.8h0M551.1 140.0h0M547.2 136.7h0M543.9 128.8h0M549.6 139.9h0M548.1 131.1h0M544.1 136.1h0M542.0 141.2h0M545.1 133.3h0M547.2 128.9h0M542.9 140.7h0M543.2 133.5h0M546.4 132.9h0M544.5 139.9h0M548.8 138.4h0M545.4 130.0h0M547.7 133.9h0M545.0 133.7h0M550.4 129.6h0M548.6 129.3h0M542.5 132.0h0M544.8 134.4h0M543.6 130.5h0M543.2 130.8h0M549.8 140.1h0M538.1 141.5h0M543.6 130.1h0M549.0 139.1h0M549.9 137.8h0M544.6 126.4h0M542.4 135.2h0M541.5 134.0h0M546.5 132.2h0M544.9 128.2h0M546.5 133.1h0M540.2 138.2h0M542.1 129.7h0M545.1 127.1h0M547.8 134.0h0M548.0 127.6h0M539.5 137.8h0M541.8 133.3h0M548.8 126.2h0M543.0 138.0h0M548.5 124.7h0M543.2 135.8h0M541.9 136.4h0M543.8 134.6h0M549.0 136.6h0M548.9 130.7h0M542.0 130.7h0M549.0 133.1h0M545.1 129.1h0M546.9 132.7h0M541.9 135.2h0M544.3 127.3h0M541.5 138.5h0M546.9 135.6h0M551.5 141.5h0M546.7 133.6h0M548.2 132.1h0M542.0 135.9h0M545.7 139.5h0M545.9 134.9h0M544.9 134.9h0M546.3 137.6h0M544.2 134.8h0M541.6 137.3h0M547.8 139.2h0M548.5 127.0h0M543.8 130.5h0M545.1 133.2h0M543.0 136.3h0M549.9 137.7h0M549.8 137.2h0M547.5 130.7h0M543.4 138.4h0M539.8 139.3h0M548.4 130.3h0M541.8 133.2h0M543.1 134.2h0M540.1 136.0h0M546.1 141.2h0M549.0 128.3h0M547.5 135.3h0M546.7 131.3h0M548.7 130.6h0M542.0 131.6h0M551.3 134.5h0M543.7 133.6h0M545.3 128.2h0M541.4 132.4h0M544.0 128.2h0M551.8 140.9h0M548.1 125.1h0M549.0 130.5h0M547.2 128.7h0M544.6 136.2h0M547.7 128.6h0M544.7 137.2h0M542.7 137.9h0M541.4 138.3h0M539.4 138.0h0M549.5 138.1h0M549.5 138.8h0M550.6 133.4h0M542.9 138.5h0M543.9 135.3h0M547.0 131.0h0M541.0 141.7h0M547.8 140.3h0M540.9 141.5h0M543.8 139.8h0M543.0 131.9h0M549.4 136.1h0M547.6 141.5h0M549.7 135.8h0M549.8 137.7h0M539.2 137.7h0M550.5 129.0h0M547.1 137.8h0M547.5 132.5h0M545.1 135.0h0M546.5 136.4h0M542.0 140.0h0M544.3 135.4h0M542.4 131.0h0M547.6 128.2h0M545.8 133.9h0M549.4 132.7h0M541.5 141.7h0M545.2 136.2h0M543.7 133.4h0M540.3 137.7h0M544.7 125.9h0M538.1 141.2h0M541.3 133.2h0M539.6 138.2h0M542.1 141.8h0M548.7 138.2h0M550.4 134.7h0M547.5 129.0h0M543.1 133.1h0M547.4 133.5h0M547.0 126.6h0M544.5 129.2h0M541.8 141.4h0M551.4 140.0h0M539.4 136.6h0M547.8 124.6h0M541.4 138.9h0M545.3 130.3h0M544.2 132.5h0M540.4 138.9h0M548.1 138.3h0M539.7 140.2h0M541.5 136.6h0M543.7 134.2h0M540.2 140.4h0M542.0 131.3h0M547.6 139.3h0M544.1 131.3h0M549.1 138.3h0M540.9 138.3h0M549.9 130.1h0M550.4 130.3h0M546.7 128.9h0M540.6 132.9h0M547.0 129.7h0M547.6 133.3h0M551.0 132.8h0M539.2 140.9h0M542.0 132.9h0M551.4 135.0h0M548.5 137.6h0M545.4 135.0h0M546.4 129.1h0M540.2 137.3h0M547.3 126.8h0M545.4 139.5h0M539.7 140.3h0M540.1 136.2h0M542.0 140.4h0M549.8 140.6h0M544.6 126.6h0M550.0 138.9h0M543.4 141.2h0M549.5 135.4h0M541.4 139.0h0M549.5 131.1h0M542.8 135.8h0M550.2 132.9h0M545.5 127.5h0M540.6 138.0h0M544.4 126.1h0M550.2 131.5h0M548.2 135.6h0M548.3 134.8h0M543.1 134.0h0M538.9 138.9h0M550.5 138.3h0M550.4 135.0h0M544.2 135.9h0M538.8 139.5h0M547.6 127.6h0M547.6 126.8h0M538.1 141.1h0M544.8 128.8h0M545.9 139.5h0M541.8 133.2h0M544.8 133.8h0M545.5 137.6h0M549.4 139.5h0M542.6 131.7h0M544.9 139.8h0M541.3 138.6h0M545.0 127.2h0M551.1 132.3h0M547.7 125.5h0M543.2 130.4h0M549.2 139.1h0M549.7 129.9h0M541.9 139.3h0M547.5 130.3h0M541.0 131.3h0M546.9 141.4h0M547.2 140.9h0M546.3 137.4h0M539.1 139.2h0M549.7 130.6h0M548.3 134.5h0M549.1 133.3h0M546.0 135.4h0M543.7 131.9h0M547.6 137.4h0M547.4 136.0h0M546.1 128.3h0M544.7 139.3h0M549.6 132.5h0M544.3 127.0h0M543.8 130.2h0M547.9 128.5h0M546.0 132.3h0M540.3 139.9h0M549.7 127.5h0M545.0 130.7h0M547.2 128.1h0M545.2 127.0h0M548.1 135.5h0M548.0 135.1h0M541.3 132.8h0M550.1 135.6h0M549.8 128.0h0M549.4 136.5h0M548.6 126.5h0M545.1 126.7h0M542.6 135.5h0M548.9 137.2h0M549.9 128.1h0M549.7 135.8h0M551.1 135.6h0M543.7 127.3h0M540.0 141.8h0M546.3 125.6h0M541.6 132.4h0M544.4 138.8h0M542.7 140.4h0M547.8 131.4h0M549.8 129.6h0M544.5 127.5h0M542.6 134.2h0M547.6 130.8h0M545.1 140.8h0M545.8 134.6h0M547.2 138.6h0M550.9 135.4h0M551.8 141.6h0M547.3 128.3h0M545.4 140.4h0M548.2 134.2h0M546.8 130.2h0M543.7 134.1h0M546.6 129.9h0M545.8 137.3h0M544.9 125.6h0M543.3 140.2h0M547.1 141.5h0M547.5 134.8h0M540.3 140.2h0M546.4 132.5h0M543.6 134.8h0M543.3 135.4h0M542.4 132.9h0M551.4 141.2h0M546.6 141.8h0M550.9 130.3h0M550.7 134.1h0M544.6 134.4h0M550.5 131.2h0M545.9 133.4h0M545.9 136.1h0M544.0 129.7h0M546.5 138.9h0M548.5 132.5h0M544.9 141.1h0M546.7 134.9h0M542.7 131.9h0M547.0 127.9h0M548.0 139.8h0M542.4 129.4h0M549.4 129.0h0M548.6 129.2h0M549.1 139.0h0M539.8 141.0h0M539.8 137.4h0M549.1 127.3h0M543.0 138.2h0M544.9 137.1h0M544.8 131.4h0M548.7 130.0h0M544.2 136.9h0M550.0 140.8h0M538.3 139.7h0M543.2 134.4h0M550.3 130.6h0M550.5 138.9h0M549.3 131.7h0M550.6 132.9h0M549.5 133.8h0M543.1 131.6h0M546.9 125.6h0M540.9 131.4h0M547.0 129.2h0M541.8 135.4h0M543.2 133.9h0M541.8 133.2h0M542.6 130.2h0M547.9 137.1h0M548.8 133.3h0M544.8 129.9h0M544.6 127.2h0M548.9 132.6h0M547.4 126.6h0M550.0 134.4h0M546.7 131.9h0M545.2 135.8h0M548.7 138.9h0M545.6 134.0h0M543.5 129.4h0M545.5 126.6h0M549.5 129.8h0M548.7 125.6h0M543.7 128.9h0M548.5 126.1h0M550.6 129.8h0M546.2 133.7h0M540.4 140.4h0M550.6 141.9h0M543.4 128.2h0M545.1 139.5h0M551.0 140.5h0M541.9 133.4h0M540.2 140.2h0M542.6 129.7h0M547.6 139.1h0M542.3 133.4h0M547.4 130.8h0M546.6 126.5h0M543.0 128.9h0M546.1 129.1h0M547.7 135.2h0M540.8 140.6h0M544.9 129.4h0M548.2 137.5h0M546.3 141.1h0M551.2 132.6h0M539.6 140.2h0M545.7 125.4h0M548.9 132.4h0M542.9 135.0h0M545.2 132.8h0M549.0 129.9h0M541.6 138.8h0M547.3 126.9h0M550.3 138.2h0M543.6 133.8h0M548.5 131.8h0M550.3 136.9h0M543.8 141.3h0M542.4 136.8h0M545.6 127.3h0M545.0 139.9h0M545.8 139.9h0M544.0 127.4h0M548.1 127.3h0M544.2 135.6h0M548.0 128.9h0M544.1 134.6h0M548.2 141.0h0M549.3 139.9h0M547.5 135.8h0M551.3 141.0h0M548.3 128.4h0M550.4 130.7h0M539.0 141.8h0M545.2 127.1h0M541.9 139.8h0M543.9 135.1h0M541.5 131.1h0M544.4 127.5h0M551.2 136.8h0M546.1 132.2h0M551.7 141.3h0M549.7 139.3h0M548.5 131.6h0M540.2 139.3h0M549.4 131.6h0M551.5 141.2h0M539.3 137.4h0M546.5 139.0h0M549.4 127.1h0M541.9 130.0h0M547.9 126.8h0M547.1 130.3h0M550.9 141.5h0M541.8 140.6h0M546.0 126.4h0M542.7 141.7h0M543.2 137.4h0M544.9 139.2h0M545.5 138.1h0M540.4 134.7h0M543.3 136.2h0M551.1 139.1h0M541.1 135.9h0M550.9 136.1h0M546.4 137.7h0M541.5 131.2h0M544.3 127.7h0M541.2 139.9h0M551.6 141.2h0" stroke="#000" stroke-width="0.65" stroke-linecap="round" opacity="0.55" fill="none"/>
<path d="M537.80,142.00 L539.50,136.00 L543.00,134.00 L543.50,142.00 Z" fill="#000" stroke="none" stroke-width="0.5" opacity="0.8" filter="url(#b05)"/>
<path d="M539.5,141.6 C541,133 543.5,125.5 547.5,125.2 C550.5,125.5 550.8,133 549.6,141.6" fill="#888" stroke="#111" stroke-width="0.9" opacity="0.95"/>
<path d="M542.5,141.3 C543.3,135 544.8,129 547,128.7 C549,129 549.1,135 548.4,141.3" fill="#bbb" stroke="#333" stroke-width="0.4"/>
<path d="M544.2,140.5 C544.6,136 545.6,132 546.8,131.8 C547.8,132.2 547.8,136 547.5,140.5" fill="#f4f4f4" stroke="#888" stroke-width="0.35"/>
<path d="M549.8,141.6 C550.5,136 552,133.3 554.5,133.3 C557.5,133.5 559.4,137 559.4,141.6 Z" fill="#999" stroke="#333" stroke-width="0.5" opacity="0.85"/>
<path d="M551.5,141.2 C552,137.5 553,135.5 554.6,135.5 C556.5,135.7 557.6,138 557.7,141.2" fill="none" stroke="#666" stroke-width="0.35"/>
<line x1="538.00" y1="141.80" x2="559.50" y2="141.80" stroke="#222" stroke-width="0.6" />
<rect x="542.20" y="121.30" width="25.40" height="23.20" stroke="#111" stroke-width="0.75" fill="none" />
<path d="M80.9 241.1h0M89.1 242.7h0M94.1 237.8h0M92.2 257.6h0M91.5 241.9h0M87.6 243.8h0M91.7 244.2h0M87.1 232.5h0M85.2 248.2h0M93.8 239.3h0M96.6 247.6h0M88.4 249.4h0M103.0 244.8h0M90.2 245.2h0M88.0 235.4h0M85.8 239.5h0M88.4 241.5h0M79.7 232.4h0M88.6 248.0h0M91.9 243.0h0M86.5 238.1h0M90.5 242.4h0M96.8 251.0h0M98.6 242.2h0M81.5 242.0h0M87.5 235.1h0M91.2 238.2h0M90.2 242.2h0M87.7 244.6h0M88.0 241.9h0M97.1 253.1h0M87.4 251.7h0M89.7 235.8h0M87.5 237.5h0M96.9 243.1h0M96.2 244.6h0M81.6 232.9h0M93.1 238.6h0M88.7 249.2h0M104.1 244.8h0M93.5 253.5h0M97.0 231.6h0M92.8 240.0h0M85.7 245.6h0M89.5 231.0h0M73.0 240.6h0M84.8 235.8h0M90.8 248.6h0M89.9 235.2h0M81.0 239.6h0M85.9 240.7h0M91.9 230.6h0M93.7 246.8h0M92.7 241.2h0M84.7 239.5h0M100.3 238.6h0M92.3 238.6h0M81.3 244.6h0M90.5 237.6h0M99.7 242.8h0M83.0 242.4h0M84.8 241.9h0M76.9 247.4h0M89.8 234.9h0M100.1 240.9h0M91.5 241.9h0M88.7 238.0h0M90.0 244.9h0M83.6 236.6h0M95.3 235.0h0M89.8 234.8h0M89.0 237.3h0M87.3 241.8h0M91.9 239.0h0M98.6 240.0h0M88.9 242.5h0M94.4 244.9h0M84.3 232.9h0M78.7 233.4h0M92.4 228.3h0M97.7 239.1h0M90.9 230.4h0M90.5 247.3h0M89.7 250.7h0M93.3 239.6h0M97.1 237.7h0M93.0 242.8h0M84.8 245.1h0M98.2 244.3h0M99.2 240.0h0M89.9 252.2h0M83.4 247.4h0M78.8 243.8h0M98.6 228.3h0M99.0 235.9h0M86.8 241.3h0M90.8 244.2h0M95.5 242.9h0M92.0 239.3h0M102.2 243.9h0M91.0 242.6h0M96.5 249.4h0M92.4 241.7h0M95.0 242.0h0M84.7 236.0h0M95.9 241.8h0M91.8 239.4h0M86.8 241.0h0M84.8 237.7h0M90.3 244.8h0M88.8 245.6h0M95.6 239.9h0M89.4 245.3h0M98.3 251.4h0M92.9 246.1h0M100.4 248.0h0M83.1 246.6h0M89.2 238.6h0M76.9 240.8h0M90.2 245.4h0M87.3 245.2h0M84.2 243.0h0M91.7 236.2h0M88.2 242.9h0M99.7 238.0h0M84.8 243.4h0M98.7 248.2h0M93.7 242.3h0M93.6 243.4h0M92.5 238.5h0M94.1 235.7h0M80.6 241.0h0M88.4 244.3h0M80.8 228.5h0M83.2 240.8h0M83.4 237.3h0M93.5 236.0h0M97.1 242.9h0M94.4 239.2h0M90.1 247.2h0M89.3 244.3h0M90.7 237.4h0M79.6 245.4h0M92.6 236.9h0M96.7 237.1h0M89.2 246.1h0M85.9 246.1h0M102.7 240.6h0M91.4 246.0h0M96.7 238.8h0M93.8 244.4h0M95.9 237.2h0M94.4 247.9h0M92.1 239.7h0M98.8 231.4h0M91.7 245.6h0M94.7 234.4h0M92.6 243.3h0M88.2 243.8h0M89.1 236.7h0M84.0 244.0h0M91.9 235.6h0M85.2 236.5h0M81.2 243.4h0M93.8 245.6h0M86.0 246.7h0M90.8 237.9h0M92.4 238.3h0M96.5 237.2h0M98.8 252.6h0M92.3 241.0h0M93.3 238.5h0M92.6 246.1h0M89.0 248.8h0M86.0 235.8h0M97.4 231.5h0M90.1 245.4h0M94.0 248.3h0M91.4 240.0h0M91.1 240.8h0M94.8 238.5h0M96.9 241.5h0M91.5 246.2h0M83.8 246.6h0M88.2 239.0h0M84.7 246.1h0M102.5 238.5h0M89.8 234.0h0M99.3 241.7h0M92.5 248.0h0M91.2 236.5h0M93.1 239.7h0M98.3 235.8h0M93.5 238.6h0M90.6 237.2h0M86.9 234.8h0M91.1 243.0h0M94.1 241.2h0M94.3 234.5h0M88.1 238.0h0M82.1 240.4h0M80.5 242.8h0M94.5 241.9h0M85.9 253.3h0M93.3 234.9h0M84.3 245.2h0M90.8 238.0h0M89.1 242.3h0M96.5 248.6h0M84.9 239.5h0M91.9 239.9h0M76.0 248.0h0M101.4 243.8h0M99.3 239.6h0M91.7 232.0h0M83.1 239.6h0M78.6 247.5h0M88.6 243.0h0M92.6 243.2h0M94.1 236.6h0M84.4 236.1h0M90.4 237.1h0M82.6 241.8h0M93.1 242.9h0M83.5 236.2h0M90.4 241.3h0M88.4 244.6h0M88.1 245.2h0M94.3 231.3h0M94.2 240.4h0M85.7 241.6h0M96.6 245.1h0M88.8 240.9h0M101.2 240.0h0M91.7 243.5h0M94.0 237.3h0M81.7 234.9h0M92.4 235.3h0M80.2 234.8h0M101.4 247.7h0M93.3 247.0h0M91.6 231.3h0M95.3 241.1h0M90.9 240.8h0M86.4 249.0h0M93.4 237.4h0M86.9 234.1h0M96.7 240.1h0M93.9 241.1h0M97.0 246.2h0M99.1 239.5h0M85.2 235.9h0M96.3 241.5h0M102.8 240.1h0M85.7 247.0h0M90.8 245.6h0M86.5 243.5h0M89.1 238.1h0M85.3 245.8h0M82.0 231.7h0M84.0 241.0h0M90.1 238.8h0M92.8 241.8h0M91.5 240.2h0M96.3 248.7h0M93.3 241.8h0M93.4 245.6h0M85.1 238.8h0M89.8 233.8h0M93.9 237.5h0M85.9 237.3h0M80.0 239.8h0M79.0 236.6h0M84.3 243.1h0M88.7 243.2h0M83.4 241.6h0M88.9 242.5h0M89.2 243.8h0M88.8 245.8h0M100.3 243.1h0M91.0 240.9h0M92.7 237.4h0M85.3 240.0h0M87.8 239.4h0M103.5 251.3h0M89.1 232.9h0M91.6 240.0h0M85.3 245.9h0M88.0 235.6h0M89.0 248.1h0M86.7 242.3h0M86.7 236.8h0M90.4 247.1h0M99.2 235.2h0M89.8 240.5h0M92.4 243.3h0M94.4 239.1h0M83.9 252.9h0M93.0 238.6h0M92.1 241.4h0M88.5 229.6h0M97.1 235.8h0M96.8 241.5h0M87.6 242.7h0M97.4 244.0h0M92.1 237.3h0M96.6 247.4h0M90.1 229.7h0M92.7 239.6h0M96.3 234.7h0M83.6 241.8h0M100.7 243.1h0M98.2 252.9h0M84.6 237.3h0M84.0 244.0h0M84.3 234.5h0M94.1 239.3h0M100.2 245.2h0M87.3 243.7h0M86.1 234.6h0M105.3 238.5h0M92.9 249.5h0M89.8 241.9h0M96.7 237.4h0M94.3 241.7h0M86.4 247.4h0M92.8 241.9h0M93.9 232.7h0M84.5 237.4h0M89.1 244.4h0M94.2 239.3h0M93.0 246.9h0M80.3 238.0h0M97.8 231.8h0M89.0 241.4h0M99.9 243.4h0M85.3 234.3h0M94.7 237.5h0M86.1 249.1h0M82.5 237.9h0M92.4 232.5h0M102.9 246.0h0M79.8 243.8h0M96.9 242.8h0M92.1 231.1h0M97.9 235.0h0M88.0 239.7h0M94.8 236.3h0M87.3 233.8h0M84.6 245.9h0M82.8 236.2h0M94.5 238.5h0M93.0 245.0h0M95.0 246.5h0M93.1 235.9h0M90.0 240.0h0M86.9 243.3h0M87.5 243.5h0M89.8 236.8h0M102.7 246.8h0M103.3 246.2h0M100.5 240.5h0M102.0 236.6h0M90.1 242.0h0M87.2 241.8h0M97.8 227.4h0M82.8 244.6h0M98.7 237.6h0M95.9 236.6h0M91.1 242.5h0M78.6 238.2h0M87.5 242.0h0M92.9 238.4h0M92.9 234.0h0M96.5 245.3h0M90.0 235.5h0M99.3 247.7h0M92.1 237.3h0M95.9 247.2h0M84.0 232.0h0M94.6 248.9h0M90.3 241.6h0M83.7 234.7h0M97.3 247.9h0M89.8 236.8h0M88.4 251.7h0M86.1 241.1h0M94.6 245.1h0M87.3 233.6h0M85.7 236.3h0M88.8 236.2h0M90.2 234.1h0M91.1 245.2h0M91.8 228.6h0M92.5 239.7h0M88.5 236.2h0M82.8 244.1h0M93.3 228.5h0M90.5 244.5h0M92.1 229.5h0M87.6 229.9h0M97.5 236.8h0M93.3 239.9h0M87.1 254.7h0M92.1 237.7h0M82.8 253.0h0M85.0 243.0h0M98.4 245.7h0M89.4 242.0h0M94.6 241.2h0M78.9 246.4h0M88.8 244.9h0M83.8 242.0h0M90.0 240.6h0M82.8 239.1h0M97.8 255.7h0M91.7 246.1h0M95.5 247.5h0M75.4 231.9h0M89.1 238.3h0" stroke="#333" stroke-width="0.55" stroke-linecap="round" opacity="0.35" fill="none"/>
<path d="M85.4 249.9h0M92.7 256.3h0M78.1 248.7h0M90.7 247.5h0M87.6 249.2h0M84.6 250.8h0M85.0 251.5h0M98.3 248.7h0M91.2 249.8h0M84.5 252.2h0M91.7 250.2h0M92.8 247.1h0M88.5 251.0h0M78.0 255.4h0M86.8 249.8h0M93.7 253.1h0M90.9 251.8h0M86.5 246.8h0M80.8 250.3h0M96.6 248.1h0M94.2 248.2h0M89.4 254.4h0M86.8 245.2h0M97.8 248.4h0M99.7 254.6h0M99.3 251.3h0M99.0 250.1h0M96.2 250.2h0M92.7 253.3h0M86.8 247.5h0M91.5 251.5h0M90.1 253.0h0M85.7 246.3h0M81.4 249.5h0M80.5 250.5h0M89.1 246.9h0M92.0 248.8h0M78.6 252.5h0M87.4 252.1h0M93.9 247.4h0M90.5 256.2h0M97.2 250.5h0M92.5 252.8h0M93.8 249.2h0M90.3 247.0h0M95.3 250.1h0M90.4 254.9h0M91.4 248.8h0M89.7 252.6h0M84.3 254.5h0M94.3 253.1h0M85.1 248.6h0M97.0 251.2h0M88.1 251.3h0M91.3 254.3h0M89.3 252.5h0M83.4 255.5h0M91.9 251.2h0M87.4 250.3h0M93.1 247.0h0M100.4 250.9h0M99.0 248.5h0M80.4 248.1h0M89.8 252.2h0M91.7 256.1h0M87.4 247.4h0M86.5 248.2h0M89.6 250.7h0M86.5 250.5h0M91.2 248.6h0M95.3 248.3h0M91.9 246.0h0M90.6 252.0h0M95.0 248.3h0M87.8 249.2h0M96.0 250.0h0M89.1 250.3h0M85.3 253.8h0M89.0 249.8h0M95.4 249.8h0M89.8 246.8h0M85.1 254.0h0M91.7 250.8h0M84.0 251.2h0M90.0 251.6h0M88.8 249.7h0M94.9 250.3h0M89.8 243.7h0M90.2 250.9h0M87.7 254.2h0M88.7 253.6h0M93.4 252.6h0M86.6 252.7h0M96.9 252.9h0M99.1 249.3h0M81.6 252.1h0M94.0 250.5h0M91.5 249.3h0M88.8 251.8h0M89.5 254.7h0M93.6 250.1h0M83.8 254.2h0M80.2 249.1h0M90.6 247.7h0M88.8 254.8h0M95.0 250.2h0M91.7 252.1h0M97.8 249.7h0M84.8 251.4h0M90.7 244.9h0M76.1 248.1h0M80.5 249.0h0M91.1 245.5h0M85.2 249.4h0M81.1 253.1h0M89.2 246.0h0M91.5 250.0h0M94.5 250.2h0M94.1 254.6h0M82.4 250.6h0M88.0 249.6h0M90.1 252.5h0M89.6 251.7h0M88.1 251.5h0M90.7 251.5h0M92.7 253.3h0M97.3 251.8h0M86.2 248.4h0M89.0 251.2h0M105.5 250.5h0M79.8 250.6h0M83.5 250.0h0M85.0 251.1h0M96.1 253.4h0M90.0 254.9h0M91.5 252.2h0M69.7 248.3h0M86.5 249.5h0M85.2 249.1h0M84.1 252.5h0M82.7 248.7h0M91.4 255.6h0M95.3 248.3h0M91.6 251.5h0M97.0 246.7h0M91.5 248.7h0M76.7 254.5h0M93.7 251.7h0M83.7 253.6h0M91.7 250.7h0M87.9 249.8h0M94.1 253.8h0M84.8 250.7h0M83.5 251.1h0M84.9 253.8h0M84.4 252.3h0M88.7 249.4h0M83.9 255.8h0M83.3 251.4h0M81.6 249.3h0M77.3 252.7h0M92.4 250.9h0M95.0 254.4h0M82.7 254.2h0M87.0 249.9h0M90.1 252.0h0M85.8 248.6h0M87.8 249.6h0M90.4 249.3h0M93.8 255.8h0M86.1 247.8h0M84.9 249.5h0M96.3 254.1h0M95.3 249.6h0M85.4 248.1h0M87.4 251.7h0M87.9 248.6h0M94.3 255.4h0M88.6 250.7h0M95.5 251.3h0M85.1 249.3h0M95.1 253.3h0M87.7 250.9h0M88.7 252.3h0M96.2 251.8h0M76.0 252.5h0M94.2 249.8h0M82.5 247.3h0M93.7 250.4h0M94.9 254.7h0M83.7 250.5h0M84.1 248.4h0M96.7 248.4h0M89.4 254.6h0M92.4 249.9h0M93.7 252.3h0M101.8 248.5h0M90.7 252.7h0M91.9 250.7h0M94.7 251.1h0M91.1 255.7h0M102.1 252.8h0M93.1 250.7h0M81.7 244.9h0M96.2 253.6h0M92.6 249.6h0M95.0 256.1h0M92.9 247.8h0M80.5 250.2h0M87.0 252.6h0M78.5 253.0h0M87.9 254.7h0M88.9 252.3h0M86.9 247.7h0M99.2 249.3h0M81.7 250.6h0M90.1 249.8h0M86.2 250.0h0M91.9 253.3h0M90.8 251.5h0M93.7 248.2h0M90.5 254.4h0M85.8 254.0h0M90.1 253.6h0M83.2 248.3h0M95.7 249.6h0M85.1 250.9h0M70.6 252.5h0M97.7 250.5h0M76.7 244.4h0M88.8 255.7h0M89.1 251.1h0M94.0 249.2h0M94.1 246.3h0M87.5 249.7h0M87.0 244.7h0M87.1 252.8h0M85.7 255.0h0M88.1 251.1h0M78.5 252.9h0M91.0 254.0h0M84.1 251.1h0M96.4 250.7h0M88.4 247.2h0M97.6 253.7h0M83.2 253.7h0M97.5 253.4h0M89.5 251.3h0M79.0 250.1h0M87.3 247.4h0M93.8 250.3h0M93.3 249.5h0M80.0 251.1h0M87.6 252.7h0M89.2 254.6h0M86.1 255.8h0M91.8 253.7h0M81.6 252.9h0M90.1 254.2h0M85.9 251.2h0M80.2 252.8h0M95.4 253.3h0M89.0 253.2h0M91.7 248.6h0M90.1 250.9h0M93.5 252.8h0M93.5 254.3h0M80.5 255.3h0M99.8 253.0h0M95.3 254.2h0M88.9 250.9h0M93.4 254.3h0M86.8 250.0h0M88.1 254.6h0M88.7 249.9h0M90.2 249.5h0M85.3 252.8h0M93.4 249.3h0M90.4 252.7h0M80.7 246.4h0M91.8 247.4h0M91.2 252.4h0M88.7 249.4h0M94.6 254.5h0M82.7 251.9h0M95.5 252.5h0M86.1 249.4h0M79.5 251.2h0M83.9 252.2h0M92.2 250.8h0M90.8 254.0h0M88.2 255.9h0M92.9 248.5h0M83.4 253.3h0M91.7 246.3h0M91.3 255.6h0M91.3 248.4h0M94.1 253.4h0M85.3 252.3h0M80.9 255.7h0" stroke="#222" stroke-width="0.55" stroke-linecap="round" opacity="0.5" fill="none"/>
<path d="M81.5 239.8h0M108.8 238.8h0M82.3 231.5h0M87.3 258.6h0M82.8 251.1h0M91.8 234.7h0M107.4 237.9h0M106.3 247.7h0M78.8 232.0h0M80.5 226.0h0M71.9 224.4h0M86.2 231.0h0M100.3 253.5h0M84.2 232.6h0M107.1 232.0h0M105.8 236.3h0M102.1 234.9h0M91.3 253.6h0M103.2 224.4h0M84.0 236.5h0M85.4 225.9h0M104.3 257.5h0M96.8 253.6h0M90.9 224.5h0M75.1 256.3h0" stroke="#555" stroke-width="0.5" stroke-linecap="round" opacity="0.4" fill="none"/>
<ellipse cx="90" cy="243" rx="8" ry="6" fill="#555" opacity="0.25" filter="url(#b2)"/>
<line x1="76.30" y1="215.00" x2="77.30" y2="252.00" stroke="#888" stroke-width="0.45" />
<ellipse cx="77.3" cy="234.3" rx="1.9" ry="9.2" transform="rotate(0 77.3 234.3)" fill="#000" opacity="0.95" filter="url(#b05)"/>
<ellipse cx="77.4" cy="234.3" rx="0.6" ry="6.2" transform="rotate(0 77.4 234.3)" fill="none" stroke="#fff" stroke-width="0.35" opacity="0.55"/>
<circle cx="77.2" cy="253.2" r="1.3" fill="#111"/>
<path d="M80.30,255.30 C80.80,241.65 97.50,241.65 98.00,255.30 Z" fill="#9a9a9a" stroke="#222" stroke-width="0.9" opacity="0.9"/>
<path d="M82.00,255.00 C82.50,244.08 95.80,244.08 96.30,255.00 Z" fill="#c8c8c8" stroke="#444" stroke-width="0.4" opacity="1"/>
<path d="M83.80,254.80 C84.30,246.48 94.10,246.48 94.60,254.80 Z" fill="#b0b0b0" stroke="#555" stroke-width="0.4" opacity="1"/>
<path d="M85.60,254.60 C86.10,249.01 92.30,249.01 92.80,254.60 Z" fill="#d0d0d0" stroke="#666" stroke-width="0.4" opacity="1"/>
<line x1="80.30" y1="255.00" x2="98.00" y2="255.00" stroke="#111" stroke-width="1.0" />
<path d="M79.10,251.10 L87.90,241.00 L106.00,241.00 L106.00,257.40 L79.90,257.40 Z" fill="none" stroke="#111" stroke-width="0.75" opacity="1"/>
<path d="M88.1 305.9h0M93.2 303.4h0M91.1 305.4h0M93.0 300.0h0M94.5 296.2h0M96.4 289.0h0M93.5 305.4h0M91.3 304.9h0M90.7 306.4h0M93.1 291.9h0M82.4 304.5h0M85.2 304.5h0M90.7 291.3h0M91.2 298.7h0M91.3 295.1h0M92.3 299.4h0M79.4 299.9h0M96.8 300.6h0M94.6 303.4h0M87.1 294.1h0M91.5 294.4h0M81.9 305.4h0M95.6 299.2h0M81.9 291.5h0M95.4 306.9h0M88.1 304.0h0M82.0 298.5h0M93.6 301.4h0M84.7 297.4h0M91.2 301.1h0M88.9 301.3h0M95.3 296.3h0M98.1 300.1h0M90.5 291.6h0M86.4 301.4h0M87.8 308.0h0M97.7 304.8h0M86.1 293.7h0M79.4 308.7h0M83.4 291.9h0M91.3 310.5h0M89.0 299.2h0M94.7 300.1h0M89.7 304.9h0M78.1 290.5h0M88.1 311.3h0M91.5 288.3h0M91.4 289.9h0M92.4 304.2h0M86.6 304.2h0M85.2 312.7h0M102.8 301.5h0M83.7 300.5h0M87.2 301.6h0M92.3 298.4h0M100.9 314.9h0M101.8 302.6h0M87.6 305.8h0M81.0 300.8h0M106.5 303.1h0M96.2 292.0h0M86.9 298.9h0M94.0 299.9h0M88.1 297.3h0M87.1 307.1h0M83.3 299.7h0M97.1 303.1h0M93.4 306.9h0M84.5 307.5h0M96.0 309.0h0M87.9 294.3h0M89.4 292.1h0M85.6 296.6h0M97.7 303.1h0M85.5 303.7h0M86.8 295.3h0M95.5 299.6h0M99.6 299.5h0M89.0 298.8h0M83.3 298.6h0M87.7 303.1h0M95.0 302.9h0M87.1 304.8h0M99.6 314.9h0M92.4 293.4h0M85.6 297.9h0M95.3 295.4h0M95.8 292.6h0M93.0 305.1h0M94.8 308.6h0M92.5 304.5h0M98.1 308.7h0M84.0 294.3h0M91.8 298.8h0M90.6 302.5h0M89.5 296.0h0M92.9 303.2h0M89.1 289.7h0M89.1 291.9h0M91.2 294.2h0M90.7 310.8h0M94.4 302.8h0M92.6 299.1h0M96.8 297.3h0M91.7 307.2h0M89.0 303.8h0M93.9 296.0h0M101.8 303.6h0M93.9 306.4h0M85.2 289.4h0M94.0 303.7h0M96.4 300.8h0M92.6 304.0h0M89.6 298.4h0M96.7 302.9h0M96.3 300.4h0M94.9 298.5h0M77.8 301.7h0M96.5 305.4h0M87.0 306.2h0M86.2 305.2h0M102.4 300.5h0M96.1 306.5h0M93.3 299.9h0M87.8 297.9h0M85.4 301.5h0M93.2 312.1h0M90.8 299.5h0M101.6 296.4h0M90.6 303.0h0M91.8 298.2h0M90.1 307.5h0M86.1 297.5h0M89.9 299.5h0M89.7 299.9h0M91.2 301.7h0M90.4 289.7h0M101.8 307.6h0M88.5 304.7h0M86.1 302.1h0M101.8 306.0h0M96.0 314.9h0M89.1 285.1h0M94.9 313.0h0M96.7 309.4h0M94.2 305.1h0M102.7 297.4h0M93.5 307.2h0M104.0 310.5h0M98.6 308.0h0M77.5 303.7h0M92.7 308.4h0M84.5 304.2h0M79.4 307.0h0M97.6 292.1h0M88.6 296.8h0M89.6 291.5h0M94.0 301.5h0M85.7 309.2h0M97.5 299.9h0M94.9 297.8h0M93.7 311.0h0M90.7 300.5h0M79.8 293.5h0M89.9 315.2h0M90.5 308.0h0M92.7 294.7h0M89.5 300.1h0M94.1 304.0h0M95.5 309.3h0M94.7 308.6h0M93.3 287.5h0M90.6 293.0h0M94.2 301.1h0M94.0 304.4h0M88.8 300.5h0M96.4 303.5h0M96.6 302.3h0M95.0 292.2h0M93.8 303.3h0M86.5 303.8h0M79.8 287.6h0M83.0 309.8h0M97.7 303.7h0M89.9 305.2h0M79.6 300.2h0M95.3 302.2h0M86.9 305.8h0M97.6 298.1h0M102.2 296.1h0M91.0 298.8h0M94.6 302.8h0M82.1 295.1h0M98.5 308.8h0M89.4 296.7h0M91.2 301.8h0M91.1 309.3h0M88.7 298.1h0M86.9 297.5h0M102.0 303.1h0M96.4 298.1h0M95.0 302.1h0M97.9 305.5h0M96.7 298.3h0M92.2 293.7h0M93.8 297.9h0M83.3 304.7h0M97.3 306.2h0M88.9 299.0h0M87.7 307.3h0M99.1 296.8h0M96.0 306.1h0M88.9 305.8h0M95.7 300.7h0M89.3 296.8h0M92.8 299.4h0M95.2 304.0h0M93.5 309.5h0M84.0 300.3h0M89.5 302.9h0M87.9 307.8h0M92.6 303.4h0M84.2 301.3h0M93.4 302.8h0M95.4 300.5h0M82.9 283.2h0M93.3 300.1h0M90.9 303.5h0M89.4 304.7h0M94.6 302.2h0M83.8 303.4h0M91.9 300.8h0M92.8 301.3h0M93.2 316.3h0M85.1 297.1h0M96.7 304.8h0M98.7 304.0h0M80.7 298.5h0M100.8 303.9h0M90.0 304.2h0M85.7 299.4h0M93.7 305.5h0M93.0 287.3h0M96.9 305.1h0M93.5 306.4h0M94.4 302.4h0M83.7 308.9h0M84.1 295.2h0M88.3 305.9h0M92.8 301.2h0M93.9 306.6h0M105.0 300.8h0M89.0 301.9h0M93.5 295.5h0M89.6 302.3h0M101.7 300.4h0M82.2 298.7h0M94.4 290.4h0M78.4 296.8h0M92.7 303.3h0M83.6 301.5h0M93.6 302.6h0M88.7 306.3h0M94.4 309.4h0M91.8 304.2h0M98.7 299.5h0M90.4 299.1h0M90.1 289.7h0M86.6 303.9h0M98.6 310.9h0M99.2 301.3h0M84.3 292.8h0M92.1 284.5h0M98.5 292.6h0M97.2 303.7h0M97.2 301.7h0M90.7 301.7h0M79.5 297.9h0M87.5 304.7h0M91.2 291.8h0M97.5 301.9h0M89.7 300.9h0M99.6 301.4h0M90.8 297.4h0M95.6 310.4h0M83.9 300.4h0M96.0 304.3h0M96.2 297.1h0M92.5 300.7h0M88.1 314.0h0M97.4 298.5h0M91.1 295.4h0M94.6 300.1h0M89.5 294.5h0M83.7 300.5h0M91.5 295.6h0M92.3 296.5h0M89.9 311.3h0M88.7 299.3h0M86.1 300.2h0M87.7 295.4h0M88.9 300.2h0M97.4 295.5h0M91.6 301.6h0M93.2 301.8h0M99.4 290.6h0M97.1 297.2h0M83.2 312.0h0M92.3 310.3h0M85.2 300.4h0M95.1 304.9h0M73.1 296.8h0M100.4 306.7h0M91.1 303.2h0M83.8 307.1h0M90.3 301.3h0M93.7 297.9h0M95.2 295.4h0M88.7 294.0h0M90.7 289.9h0M88.9 307.1h0M83.4 291.8h0M98.8 308.9h0M94.3 296.5h0M90.1 304.5h0M97.0 300.3h0M92.0 306.2h0M95.8 308.9h0M92.7 309.3h0M94.7 307.9h0M88.3 298.2h0M86.9 304.6h0M84.8 306.9h0M91.4 295.0h0M86.6 312.5h0M86.6 298.0h0M88.9 307.5h0M96.0 304.3h0M88.3 307.7h0M87.1 300.8h0M87.5 293.6h0M92.2 301.4h0M87.8 305.3h0M93.3 299.4h0M97.7 296.2h0M83.9 295.0h0M94.0 297.5h0M91.0 308.4h0M84.5 301.6h0M84.7 294.3h0M84.9 302.2h0M90.3 300.5h0M83.8 294.2h0M87.2 308.3h0M78.5 294.3h0M92.7 301.6h0M87.4 302.9h0M82.4 305.5h0M88.6 296.2h0M87.3 304.1h0M94.5 299.2h0M99.5 290.8h0M89.7 299.9h0M89.9 302.4h0M88.6 307.5h0M89.3 302.8h0M89.2 300.2h0M93.0 290.3h0M85.8 286.4h0M89.4 295.6h0M92.5 300.9h0M97.9 301.7h0M97.1 306.1h0M90.4 308.8h0M97.2 310.0h0M86.3 306.8h0M89.2 299.2h0M91.8 314.5h0M88.0 301.8h0M77.3 287.2h0M95.8 309.0h0M85.8 292.5h0M87.4 308.2h0M92.5 310.8h0M88.3 310.0h0M79.4 302.1h0M82.2 310.8h0M96.5 302.4h0M89.7 299.1h0M85.1 301.9h0M90.8 306.7h0M81.7 290.6h0M95.0 300.6h0M99.3 301.1h0M92.3 291.4h0M96.6 301.6h0M102.3 300.2h0M88.1 292.7h0M97.3 309.6h0M88.0 296.8h0M92.8 296.2h0M95.7 299.8h0M99.1 304.1h0M94.5 306.4h0M87.8 306.4h0M91.1 302.9h0M98.3 294.1h0M93.7 302.7h0M94.0 298.5h0M99.8 307.9h0M86.3 299.5h0M96.9 307.2h0M91.5 304.2h0M80.9 296.4h0M89.2 313.9h0M103.2 291.3h0M92.4 304.5h0M94.9 298.7h0M87.9 290.6h0M87.8 294.2h0" stroke="#333" stroke-width="0.55" stroke-linecap="round" opacity="0.35" fill="none"/>
<path d="M85.1 310.7h0M80.5 308.4h0M89.7 312.7h0M91.6 313.2h0M85.5 312.9h0M88.6 311.4h0M87.8 310.1h0M87.6 311.7h0M93.1 309.5h0M93.7 308.5h0M90.2 312.4h0M93.2 311.4h0M88.4 311.4h0M80.4 312.0h0M87.1 305.7h0M86.3 310.3h0M91.4 309.4h0M88.8 306.9h0M80.9 310.1h0M91.7 308.9h0M89.0 308.7h0M98.9 309.6h0M87.7 315.3h0M95.2 310.7h0M92.9 310.5h0M95.3 307.9h0M82.9 310.1h0M85.5 307.5h0M87.3 311.1h0M93.4 315.7h0M86.9 305.3h0M89.8 307.3h0M84.7 308.6h0M82.9 311.3h0M94.8 313.1h0M89.8 313.8h0M96.3 313.4h0M83.3 311.9h0M81.8 313.3h0M81.4 312.1h0M92.8 313.3h0M97.5 308.8h0M77.2 310.7h0M94.8 309.4h0M91.5 312.9h0M95.9 306.9h0M91.0 313.3h0M86.7 317.0h0M95.9 311.0h0M97.3 311.2h0M92.2 309.6h0M89.1 307.7h0M81.7 311.1h0M84.5 309.4h0M94.5 316.2h0M91.8 312.1h0M86.1 314.4h0M77.5 306.9h0M85.6 314.6h0M89.9 311.9h0M89.2 311.7h0M84.5 313.0h0M76.2 309.5h0M91.5 307.0h0M98.0 315.4h0M91.6 309.2h0M95.9 313.4h0M92.3 313.6h0M92.9 314.1h0M90.3 308.8h0M88.2 307.7h0M81.4 312.9h0M93.2 310.9h0M96.1 309.8h0M93.6 307.1h0M95.9 308.0h0M95.2 312.3h0M105.2 312.4h0M93.2 307.6h0M83.8 310.0h0M87.6 309.4h0M89.9 311.8h0M78.1 314.1h0M99.7 313.5h0M83.6 311.2h0M93.6 309.0h0M87.8 307.8h0M100.0 306.8h0M92.8 309.7h0M91.3 310.9h0M88.2 314.1h0M85.3 310.3h0M90.2 309.8h0M78.7 309.7h0M99.9 312.1h0M93.8 311.3h0M99.4 308.0h0M95.8 313.4h0M94.6 309.7h0M93.6 311.6h0M91.1 313.2h0M84.9 310.8h0M85.3 312.2h0M98.1 314.5h0M86.1 312.5h0M95.5 309.1h0M95.7 312.2h0M93.0 307.3h0M92.9 314.6h0M84.6 310.8h0M85.1 309.5h0M79.1 311.4h0M86.6 313.4h0M94.6 310.8h0M84.2 311.7h0M92.6 313.6h0M97.9 307.5h0M86.6 310.9h0M93.2 307.6h0M85.3 312.7h0M84.5 305.8h0M94.8 312.3h0M96.2 311.7h0M83.5 308.1h0M90.8 307.0h0M92.0 316.7h0M92.3 309.8h0M88.0 306.0h0M94.2 310.0h0M91.6 315.4h0M84.6 310.3h0M94.0 305.7h0M91.2 310.5h0M83.1 309.1h0M91.5 307.8h0M90.6 309.8h0M94.1 314.3h0M84.3 311.0h0M98.2 310.7h0M91.0 310.1h0M100.5 313.9h0M92.4 314.6h0M85.3 307.4h0M89.8 309.1h0M90.5 311.5h0M98.4 316.7h0M77.4 310.4h0M93.0 313.8h0M83.6 306.3h0M92.8 308.7h0M84.6 311.7h0M72.8 313.6h0M81.3 315.0h0M80.7 311.7h0M78.8 313.1h0M81.3 318.3h0M99.8 310.3h0M94.6 309.4h0M88.8 306.0h0M86.0 315.5h0M87.3 311.8h0M78.9 305.3h0M86.4 311.3h0M91.6 310.7h0M91.8 309.8h0M85.9 311.9h0M90.2 311.0h0M85.9 312.7h0M93.2 310.9h0M73.6 315.7h0M87.0 310.5h0M83.5 308.5h0M93.8 309.8h0M90.6 310.9h0M85.2 306.7h0M88.1 309.7h0M101.7 311.7h0M89.9 312.5h0M90.6 312.6h0M94.4 313.3h0M98.9 308.6h0M89.1 304.1h0M87.2 308.8h0M94.4 305.1h0M88.8 310.1h0M83.1 310.9h0M91.1 317.2h0M87.3 309.9h0M89.3 309.3h0M96.2 310.2h0M87.9 314.2h0M81.3 314.0h0M87.3 312.0h0M91.9 311.1h0M93.0 308.2h0M80.5 310.0h0M82.7 308.0h0M83.5 312.4h0M98.0 308.7h0M91.0 312.2h0M93.8 309.3h0M88.2 310.5h0M93.2 310.2h0M85.2 313.8h0M91.2 316.6h0M93.5 309.5h0M98.5 311.7h0M85.0 316.0h0M89.5 309.2h0M91.3 313.3h0M89.1 312.0h0M95.5 312.7h0M80.9 310.8h0M91.2 309.3h0M99.8 312.4h0M88.2 316.1h0M78.2 312.5h0M86.6 313.0h0M83.2 313.5h0M84.8 308.5h0M100.7 309.6h0M102.4 312.7h0M96.8 311.4h0M96.6 310.0h0M97.7 309.1h0M83.4 309.6h0M84.4 309.6h0M89.0 309.4h0M91.4 311.7h0M94.2 313.7h0M91.9 312.8h0M85.5 308.8h0M95.7 311.0h0M86.1 312.7h0M89.6 315.8h0M87.5 309.8h0M87.7 314.4h0M96.8 316.3h0M97.8 310.7h0M72.5 312.9h0M93.6 314.8h0M91.3 316.5h0M94.6 315.4h0M92.5 308.6h0M93.1 314.1h0M79.6 309.9h0M101.6 313.4h0M83.4 304.6h0M90.8 312.6h0M97.4 315.7h0M86.1 310.5h0M87.2 314.2h0M86.0 313.0h0M84.4 310.2h0M93.0 313.8h0M90.1 313.5h0M82.8 310.3h0M93.4 311.8h0M76.4 310.9h0M84.1 311.4h0M90.3 311.1h0M87.3 312.7h0M103.1 312.9h0M90.0 310.3h0M91.0 310.7h0M87.8 308.2h0M92.5 311.2h0M86.5 310.1h0M100.9 308.5h0M90.7 311.6h0M83.6 313.6h0M76.5 310.0h0M91.4 314.0h0M83.4 305.3h0M89.8 307.9h0M74.3 307.9h0M87.8 310.1h0M86.9 305.5h0M85.4 309.9h0M96.2 310.6h0M89.5 312.2h0M88.4 310.5h0M88.5 310.5h0M81.6 312.9h0M88.0 311.4h0M79.2 312.9h0M84.0 307.2h0M99.4 310.1h0M91.4 311.3h0M91.9 312.7h0M90.3 309.0h0M92.7 312.4h0M88.3 316.2h0M84.8 309.9h0M89.8 312.5h0M87.9 310.9h0M87.6 311.2h0M90.5 309.4h0M98.8 310.7h0M90.7 307.3h0" stroke="#222" stroke-width="0.55" stroke-linecap="round" opacity="0.5" fill="none"/>
<path d="M98.1 301.3h0M102.2 306.3h0M88.3 289.2h0M82.2 310.5h0M81.5 295.3h0M107.5 305.7h0M77.9 305.8h0M109.4 306.6h0M108.7 315.8h0M82.0 305.5h0M76.9 308.8h0M105.5 289.5h0M77.5 311.0h0M96.0 299.8h0M97.9 298.0h0M105.3 301.2h0M97.6 286.9h0M76.2 302.5h0M99.7 298.9h0M99.3 299.4h0M80.6 311.2h0M104.8 294.7h0M96.9 283.8h0M107.0 285.3h0M94.3 294.8h0" stroke="#555" stroke-width="0.5" stroke-linecap="round" opacity="0.4" fill="none"/>
<ellipse cx="90" cy="303.1" rx="8" ry="6" fill="#555" opacity="0.25" filter="url(#b2)"/>
<line x1="76.30" y1="275.10" x2="77.30" y2="312.10" stroke="#888" stroke-width="0.45" />
<ellipse cx="77.3" cy="294.40000000000003" rx="1.9" ry="9.2" transform="rotate(0 77.3 294.40000000000003)" fill="#000" opacity="0.95" filter="url(#b05)"/>
<ellipse cx="77.4" cy="294.40000000000003" rx="0.6" ry="6.2" transform="rotate(0 77.4 294.40000000000003)" fill="none" stroke="#fff" stroke-width="0.35" opacity="0.55"/>
<circle cx="77.2" cy="313.3" r="1.3" fill="#111"/>
<path d="M80.30,315.40 C80.80,301.75 97.50,301.75 98.00,315.40 Z" fill="#9a9a9a" stroke="#222" stroke-width="0.9" opacity="0.75"/>
<path d="M82.00,315.10 C82.50,304.18 95.80,304.18 96.30,315.10 Z" fill="#c8c8c8" stroke="#444" stroke-width="0.4" opacity="1"/>
<path d="M83.80,314.90 C84.30,306.58 94.10,306.58 94.60,314.90 Z" fill="#b0b0b0" stroke="#555" stroke-width="0.4" opacity="1"/>
<path d="M85.60,314.70 C86.10,309.11 92.30,309.11 92.80,314.70 Z" fill="#d0d0d0" stroke="#666" stroke-width="0.4" opacity="1"/>
<line x1="80.30" y1="315.10" x2="98.00" y2="315.10" stroke="#111" stroke-width="1.0" />
<path d="M79.10,311.20 L87.90,301.10 L106.00,301.10 L106.00,317.50 L79.90,317.50 Z" fill="none" stroke="#111" stroke-width="0.75" opacity="1"/>
<path d="M394.40,237.90 L397.80,241.90 L399.80,246.80 L401.80,251.70 L403.70,256.70 L405.70,261.60 L405.70,263.80 L386.00,263.80 L386.00,261.60 L387.40,256.70 L388.90,251.70 L389.90,246.80 L391.40,241.90 Z" fill="#000" stroke="none" stroke-width="0.5" opacity="0.95" filter="url(#b05)"/>
<path d="M394.9 238.1h0M395.5 238.6h0M398.1 240.9h0M396.8 240.1h0M395.6 238.2h0M395.9 240.3h0M396.5 239.6h0M395.1 238.8h0M398.6 240.7h0M395.0 238.8h0M400.1 243.8h0M398.6 242.2h0M400.1 245.1h0M399.7 247.0h0M398.9 243.0h0M400.1 244.9h0M399.2 243.6h0M399.8 245.4h0M399.9 245.5h0M400.5 243.2h0M401.1 246.8h0M401.7 250.6h0M401.9 251.1h0M402.0 249.7h0M402.6 251.9h0M400.2 247.7h0M403.0 251.6h0M400.8 247.9h0M402.8 251.7h0M401.6 249.5h0M404.2 255.4h0M402.7 253.4h0M403.2 254.6h0M403.8 254.7h0M403.2 255.0h0M403.3 254.4h0M405.1 255.1h0M403.5 251.9h0M403.0 253.9h0M402.5 251.4h0M405.7 262.0h0M406.1 261.4h0M406.2 260.3h0M406.1 261.3h0M405.9 260.6h0M404.6 258.1h0M405.3 258.7h0M404.8 259.4h0M404.4 257.8h0M405.9 259.0h0M392.1 239.9h0M390.9 241.5h0M393.3 238.2h0M393.0 239.9h0M391.8 241.3h0M389.9 241.8h0M391.0 242.0h0M393.2 238.9h0M391.9 240.1h0M390.3 241.3h0M390.1 244.6h0M391.1 243.3h0M390.1 244.5h0M389.5 245.8h0M389.9 244.2h0M389.8 247.0h0M391.3 242.2h0M389.4 243.7h0M390.1 245.6h0M388.9 245.6h0M389.7 247.1h0M388.3 251.0h0M387.1 251.0h0M387.9 252.0h0M388.6 246.7h0M389.7 247.3h0M388.1 251.4h0M389.1 248.1h0M389.4 248.1h0M389.4 248.2h0M388.2 254.7h0M387.7 255.3h0M387.3 255.4h0M386.2 253.7h0M387.3 255.0h0M387.3 254.6h0M386.8 253.4h0M387.9 254.6h0M387.4 254.8h0M387.0 255.5h0M386.0 260.2h0M386.9 257.6h0M386.6 259.6h0M384.4 261.4h0M385.1 260.8h0M386.0 257.0h0M386.0 260.0h0M385.6 258.1h0M385.6 257.0h0M385.5 257.4h0" stroke="#000" stroke-width="0.7" stroke-linecap="round" opacity="0.85" fill="none"/>
<ellipse cx="395.3" cy="258" rx="1.2" ry="4" fill="#999" opacity="0.55" filter="url(#b05)"/>
<path d="M391.8 247.7h0M392.5 256.4h0M393.4 252.1h0M394.3 256.9h0M394.5 249.3h0M395.3 256.5h0M395.9 245.3h0M393.7 241.6h0M392.3 253.1h0M396.6 256.7h0M394.8 254.5h0M391.6 256.6h0M390.5 252.8h0M394.2 251.7h0M394.8 250.3h0M392.6 254.9h0M393.5 246.4h0M397.6 250.4h0M393.2 244.5h0M395.5 255.6h0M391.7 253.2h0M396.2 245.9h0M390.5 253.6h0M388.8 257.5h0M398.9 251.9h0M393.0 257.9h0M391.4 253.2h0M391.6 256.9h0M396.9 249.7h0M393.7 243.5h0M393.4 255.2h0M392.9 255.8h0M390.1 256.1h0M399.2 255.4h0M398.5 250.8h0M391.4 247.2h0M397.6 255.1h0M391.1 247.5h0M398.4 249.0h0M398.7 249.0h0M396.2 257.1h0M392.1 246.0h0M391.3 258.0h0M395.4 250.6h0M400.8 256.4h0" stroke="#fff" stroke-width="0.5" stroke-linecap="round" opacity="0.55" fill="none"/>
<path d="M406.0 250.7h0M404.7 255.9h0M405.3 253.5h0M404.4 254.7h0M404.4 252.0h0M405.7 250.9h0M402.5 254.2h0M405.1 253.6h0" stroke="#111" stroke-width="0.6" stroke-linecap="round" opacity="0.8" fill="none"/>
<path d="M413.1 257.7h0M407.4 257.5h0M415.6 262.6h0M406.8 262.5h0M415.6 257.1h0M405.7 257.2h0M408.8 263.0h0M413.8 263.4h0M406.2 257.1h0M407.9 259.6h0M414.1 261.1h0M412.8 262.4h0M417.5 261.7h0M413.9 258.2h0M406.4 257.2h0M411.8 262.4h0M413.9 259.9h0M413.1 260.6h0M409.2 259.3h0M406.7 262.7h0M408.0 257.2h0M411.2 262.2h0" stroke="#111" stroke-width="0.55" stroke-linecap="round" opacity="0.8" fill="none"/>
<rect x="408.50" y="237.40" width="19.10" height="26.60" stroke="#111" stroke-width="0.75" fill="none" />
<path d="M394.80,298.40 L397.30,302.90 L398.80,307.80 L400.30,312.70 L401.80,317.70 L402.70,322.60 L402.70,324.40 L389.40,324.40 L389.40,322.60 L390.40,317.70 L390.90,312.70 L391.90,307.80 L392.90,302.90 Z" fill="#000" stroke="none" stroke-width="0.5" opacity="0.95" filter="url(#b05)"/>
<path d="M397.4 303.3h0M396.4 300.9h0M398.6 303.7h0M396.7 299.2h0M396.6 300.8h0M396.3 299.8h0M397.1 302.0h0M396.6 298.5h0M397.0 302.0h0M396.9 300.0h0M398.9 305.4h0M398.9 306.4h0M399.3 307.3h0M398.9 305.5h0M397.9 304.2h0M400.5 307.3h0M398.3 305.5h0M399.2 306.1h0M398.0 305.5h0M398.8 304.5h0M400.4 310.7h0M400.9 312.0h0M402.0 312.2h0M400.5 310.5h0M399.6 309.7h0M400.8 311.7h0M400.5 307.6h0M400.3 309.7h0M400.8 313.1h0M401.1 312.7h0M401.3 313.1h0M401.9 314.8h0M401.1 315.1h0M400.6 313.7h0M402.0 316.2h0M401.7 314.9h0M401.5 314.6h0M402.4 315.7h0M401.9 317.6h0M401.2 315.5h0M402.2 319.7h0M403.3 321.1h0M402.7 321.9h0M403.2 319.5h0M403.2 321.6h0M403.4 320.3h0M404.7 320.2h0M403.6 320.3h0M403.3 320.5h0M402.0 318.3h0M393.7 300.1h0M392.9 302.7h0M392.8 301.6h0M393.9 300.5h0M393.2 302.7h0M394.5 297.5h0M392.6 303.2h0M393.5 301.3h0M393.4 300.4h0M392.7 301.6h0M391.5 303.4h0M391.8 307.5h0M392.5 303.2h0M391.8 306.9h0M392.3 304.0h0M391.9 305.3h0M391.6 303.8h0M392.8 302.7h0M391.5 307.2h0M390.7 307.0h0M389.5 312.1h0M391.4 309.5h0M390.8 312.6h0M389.7 309.1h0M391.3 309.6h0M391.1 308.5h0M391.0 311.7h0M391.6 309.4h0M390.2 309.7h0M390.1 312.0h0M390.3 317.8h0M390.6 314.3h0M390.8 313.2h0M390.0 314.3h0M390.4 317.3h0M390.3 313.8h0M390.6 314.7h0M389.8 317.5h0M390.1 314.9h0M390.3 315.8h0M388.9 323.0h0M388.9 321.7h0M388.7 322.2h0M389.5 321.2h0M389.0 321.9h0M389.1 318.8h0M389.6 321.1h0M389.1 321.7h0M389.1 321.8h0M388.3 322.3h0" stroke="#000" stroke-width="0.7" stroke-linecap="round" opacity="0.85" fill="none"/>
<ellipse cx="395.2" cy="319" rx="1.1" ry="3" fill="#999" opacity="0.55" filter="url(#b05)"/>
<path d="M399.8 317.2h0M395.5 318.5h0M395.9 303.5h0M392.2 318.4h0M395.7 308.3h0M392.2 316.8h0M394.0 309.0h0M390.7 317.4h0M398.1 309.4h0M393.2 309.3h0M394.3 316.3h0M398.2 310.9h0M393.7 312.2h0M395.0 311.5h0M396.9 316.4h0M391.5 315.7h0M394.0 303.9h0M396.4 318.7h0M396.3 312.4h0M396.5 304.3h0M392.4 307.3h0M391.0 316.2h0M397.0 313.8h0M393.5 315.5h0M398.2 317.0h0M396.7 305.8h0M393.7 311.0h0M395.7 306.3h0M396.4 314.1h0M398.0 317.1h0M391.8 318.9h0M395.0 305.5h0M396.5 317.6h0M396.2 305.6h0M392.2 309.2h0" stroke="#fff" stroke-width="0.5" stroke-linecap="round" opacity="0.55" fill="none"/>
<path d="M399.8 301.6h0M400.4 303.9h0M398.3 300.8h0M398.1 307.6h0M400.7 308.6h0M399.6 309.1h0M399.3 308.9h0M399.0 307.4h0" stroke="#111" stroke-width="0.6" stroke-linecap="round" opacity="0.7" fill="none"/>
<path d="M413.1 323.8h0M417.9 323.3h0M407.7 321.9h0M415.7 318.6h0M405.4 320.5h0M414.9 316.8h0M418.2 321.6h0M412.7 317.8h0M409.1 323.8h0M402.6 317.7h0M414.2 317.0h0M407.8 320.3h0M403.7 320.0h0M402.9 321.3h0M407.6 317.3h0M414.5 317.7h0M412.4 322.3h0M406.2 316.9h0M413.3 323.3h0M419.7 318.1h0M405.5 322.3h0M418.5 317.9h0M413.2 321.2h0M408.2 318.2h0" stroke="#111" stroke-width="0.55" stroke-linecap="round" opacity="0.8" fill="none"/>
<rect x="408.50" y="297.70" width="19.10" height="27.20" stroke="#111" stroke-width="0.75" fill="none" />
<text x="0.00" y="0.00" font-size="9.0" text-anchor="middle" fill="#000" stroke="#000" stroke-width="0.12" transform="translate(645.00 34.00) scale(0.89 1)" >Microniche VS. Fresh</text>
<line x1="613.30" y1="39.40" x2="613.30" y2="142.30" stroke="#111" stroke-width="0.8" />
<line x1="613.30" y1="142.30" x2="681.80" y2="142.30" stroke="#111" stroke-width="0.8" />
<line x1="610.40" y1="39.40" x2="613.30" y2="39.40" stroke="#111" stroke-width="0.8" />
<text x="0.00" y="0.00" font-size="8.6" text-anchor="end" fill="#000" stroke="#000" stroke-width="0.12" transform="translate(608.50 42.40) scale(0.9 1)" >1000</text>
<line x1="610.40" y1="73.70" x2="613.30" y2="73.70" stroke="#111" stroke-width="0.8" />
<text x="0.00" y="0.00" font-size="8.6" text-anchor="end" fill="#000" stroke="#000" stroke-width="0.12" transform="translate(608.50 76.70) scale(0.9 1)" >100</text>
<line x1="610.40" y1="108.00" x2="613.30" y2="108.00" stroke="#111" stroke-width="0.8" />
<text x="0.00" y="0.00" font-size="8.6" text-anchor="end" fill="#000" stroke="#000" stroke-width="0.12" transform="translate(608.50 111.00) scale(0.9 1)" >10</text>
<line x1="610.40" y1="142.30" x2="613.30" y2="142.30" stroke="#111" stroke-width="0.8" />
<text x="0.00" y="0.00" font-size="8.6" text-anchor="end" fill="#000" stroke="#000" stroke-width="0.12" transform="translate(608.50 145.30) scale(0.9 1)" >1</text>
<text x="592.60" y="95.00" font-size="8.3" text-anchor="middle" fill="#000" stroke="#000" stroke-width="0.12" transform="rotate(-90 592.6 95)" >Fold change</text>
<rect x="619.70" y="115.86" width="12.00" height="26.44" stroke="#1b1b1b" stroke-width="0.6" fill="#1a93ac" />
<line x1="625.70" y1="142.30" x2="625.70" y2="146.00" stroke="#111" stroke-width="0.8" />
<rect x="634.20" y="115.86" width="11.70" height="26.44" stroke="#1b1b1b" stroke-width="0.6" fill="#1a93ac" />
<line x1="640.05" y1="142.30" x2="640.05" y2="146.00" stroke="#111" stroke-width="0.8" />
<rect x="648.90" y="98.44" width="11.60" height="43.86" stroke="#1b1b1b" stroke-width="0.6" fill="#1a93ac" />
<line x1="654.70" y1="142.30" x2="654.70" y2="146.00" stroke="#111" stroke-width="0.8" />
<rect x="663.80" y="65.97" width="11.80" height="76.33" stroke="#1b1b1b" stroke-width="0.6" fill="#1a93ac" />
<line x1="669.70" y1="142.30" x2="669.70" y2="146.00" stroke="#111" stroke-width="0.8" />
<circle cx="621.00" cy="115.46" r="1.6" fill="#000"/>
<circle cx="623.35" cy="115.76" r="1.6" fill="#000"/>
<circle cx="625.70" cy="115.26" r="1.6" fill="#000"/>
<circle cx="628.05" cy="115.66" r="1.6" fill="#000"/>
<circle cx="630.40" cy="115.46" r="1.6" fill="#000"/>
<circle cx="635.50" cy="115.46" r="1.6" fill="#000"/>
<circle cx="637.77" cy="115.26" r="1.6" fill="#000"/>
<circle cx="640.05" cy="115.76" r="1.6" fill="#000"/>
<circle cx="642.33" cy="115.36" r="1.6" fill="#000"/>
<circle cx="644.60" cy="115.56" r="1.6" fill="#000"/>
<circle cx="650.20" cy="98.04" r="1.6" fill="#000"/>
<circle cx="652.45" cy="95.44" r="1.6" fill="#000"/>
<circle cx="654.70" cy="96.24" r="1.6" fill="#000"/>
<circle cx="656.95" cy="98.04" r="1.6" fill="#000"/>
<circle cx="659.20" cy="96.74" r="1.6" fill="#000"/>
<circle cx="665.10" cy="65.57" r="1.6" fill="#000"/>
<circle cx="667.40" cy="63.57" r="1.6" fill="#000"/>
<circle cx="669.70" cy="64.37" r="1.6" fill="#000"/>
<circle cx="672.00" cy="64.67" r="1.6" fill="#000"/>
<circle cx="674.30" cy="65.27" r="1.6" fill="#000"/>
<text x="616" y="103.9" font-size="4.6" fill="#000"><tspan font-style="italic">P</tspan>&lt;0.001</text>
<text x="617.00" y="111.60" font-size="7.1" text-anchor="start" fill="#000" stroke="#000" stroke-width="0.15" >6.2×</text>
<text x="630.5" y="99.8" font-size="4.6" fill="#000"><tspan font-style="italic">P</tspan>&lt;0.001</text>
<text x="632.70" y="111.60" font-size="7.1" text-anchor="start" fill="#000" stroke="#000" stroke-width="0.15" >6.5×</text>
<text x="643.9" y="83.6" font-size="4.6" fill="#000"><tspan font-style="italic">P</tspan>&lt;0.001</text>
<text x="643.70" y="92.30" font-size="7.1" text-anchor="start" fill="#000" stroke="#000" stroke-width="0.15" >20.8×</text>
<text x="660.2" y="50.8" font-size="4.6" fill="#000"><tspan font-style="italic">P</tspan>&lt;0.001</text>
<text x="661.00" y="60.00" font-size="7.1" text-anchor="start" fill="#000" stroke="#000" stroke-width="0.15" >179×</text>
<text id="xl1" x="0" y="0" font-size="6.9" text-anchor="end" fill="#000" stroke="#000" stroke-width="0.15" transform="translate(628.00 155.30) rotate(-45) scale(1.09 1)">CD34<tspan font-size="4.0" dy="-3.0">+</tspan><tspan dy="3.0"></tspan></text>
<text id="xl2" x="0" y="0" font-size="6.9" text-anchor="end" fill="#000" stroke="#000" stroke-width="0.15" transform="translate(643.00 155.90) rotate(-45) scale(1.09 1)">CD34<tspan font-size="4.0" dy="-3.0">+</tspan><tspan dy="3.0"></tspan>38<tspan font-size="4.0" dy="-3.0">−</tspan><tspan dy="3.0"></tspan></text>
<text id="xl3" x="0" y="0" font-size="6.9" text-anchor="end" fill="#000" stroke="#000" stroke-width="0.15" transform="translate(654.90 156.10) rotate(-45) scale(1.09 1)">CD34<tspan font-size="4.0" dy="-3.0">+</tspan><tspan dy="3.0"></tspan>38<tspan font-size="4.0" dy="-3.0">−</tspan><tspan dy="3.0"></tspan></text>
<text id="xl4" x="0" y="0" font-size="6.9" text-anchor="end" fill="#000" stroke="#000" stroke-width="0.15" transform="translate(664.00 156.70) rotate(-45) scale(1.09 1)">45RA<tspan font-size="4.0" dy="-3.0">−</tspan><tspan dy="3.0"></tspan>90<tspan font-size="4.0" dy="-3.0">+</tspan><tspan dy="3.0"></tspan></text>
<text id="xl5" x="0" y="0" font-size="6.9" text-anchor="end" fill="#000" stroke="#000" stroke-width="0.15" transform="translate(674.50 155.95) rotate(-45) scale(1.09 1)">CD34<tspan font-size="4.0" dy="-3.0">+</tspan><tspan dy="3.0"></tspan>38<tspan font-size="4.0" dy="-3.0">−</tspan><tspan dy="3.0"></tspan></text>
<text id="xl6" x="0" y="0" font-size="6.9" text-anchor="end" fill="#000" stroke="#000" stroke-width="0.15" transform="translate(684.85 156.85) rotate(-45) scale(1.09 1)">45RA<tspan font-size="4.0" dy="-3.0">−</tspan><tspan dy="3.0"></tspan>90<tspan font-size="4.0" dy="-3.0">+</tspan><tspan dy="3.0"></tspan>49f<tspan font-size="4.0" dy="-3.0">+</tspan><tspan dy="3.0"></tspan></text>
<rect x="65.40" y="213.00" width="52.40" height="52.30" stroke="#444" stroke-width="0.95" fill="none" />
<text x="0.00" y="0.00" font-size="9.3" text-anchor="end" fill="#000" stroke="#000" stroke-width="0.12" transform="translate(114.10 222.20) scale(0.85 1)" >27.1</text>
<rect x="61.10" y="264.75" width="2" height="0.7" fill="#888"/>
<rect x="61.10" y="254.88" width="2" height="0.7" fill="#888"/>
<rect x="61.10" y="245.01" width="2" height="0.7" fill="#888"/>
<rect x="61.10" y="235.15" width="2" height="0.7" fill="#888"/>
<rect x="61.10" y="225.28" width="2" height="0.7" fill="#888"/>
<rect x="61.10" y="215.41" width="2" height="0.7" fill="#888"/>
<text font-size="3.4" text-anchor="middle" fill="#555" transform="translate(68.28 271.30) rotate(-40)">-10³</text>
<text font-size="3.4" text-anchor="middle" fill="#555" transform="translate(76.40 271.30) rotate(-40)">0</text>
<text font-size="3.4" text-anchor="middle" fill="#555" transform="translate(87.93 271.30) rotate(-40)">10³</text>
<text font-size="3.4" text-anchor="middle" fill="#555" transform="translate(101.03 271.30) rotate(-40)">10⁴</text>
<text font-size="3.4" text-anchor="middle" fill="#555" transform="translate(112.82 271.30) rotate(-40)">10⁵</text>
<rect x="75.20" y="265.00" width="2.4" height="1.1" fill="#222"/>
<rect x="65.40" y="273.20" width="52.40" height="52.30" stroke="#444" stroke-width="0.95" fill="none" />
<text x="0.00" y="0.00" font-size="9.3" text-anchor="end" fill="#000" stroke="#000" stroke-width="0.12" transform="translate(114.10 282.40) scale(0.85 1)" >36.9</text>
<rect x="61.10" y="324.95" width="2" height="0.7" fill="#888"/>
<rect x="61.10" y="315.08" width="2" height="0.7" fill="#888"/>
<rect x="61.10" y="305.21" width="2" height="0.7" fill="#888"/>
<rect x="61.10" y="295.35" width="2" height="0.7" fill="#888"/>
<rect x="61.10" y="285.48" width="2" height="0.7" fill="#888"/>
<rect x="61.10" y="275.61" width="2" height="0.7" fill="#888"/>
<text font-size="3.4" text-anchor="middle" fill="#555" transform="translate(68.28 331.50) rotate(-40)">-10³</text>
<text font-size="3.4" text-anchor="middle" fill="#555" transform="translate(76.40 331.50) rotate(-40)">0</text>
<text font-size="3.4" text-anchor="middle" fill="#555" transform="translate(87.93 331.50) rotate(-40)">10³</text>
<text font-size="3.4" text-anchor="middle" fill="#555" transform="translate(101.03 331.50) rotate(-40)">10⁴</text>
<text font-size="3.4" text-anchor="middle" fill="#555" transform="translate(112.82 331.50) rotate(-40)">10⁵</text>
<rect x="75.20" y="325.20" width="2.4" height="1.1" fill="#222"/>
<rect x="383.30" y="212.80" width="52.20" height="52.50" stroke="#444" stroke-width="0.95" fill="none" />
<text x="0.00" y="0.00" font-size="9.3" text-anchor="end" fill="#000" stroke="#000" stroke-width="0.12" transform="translate(432.90 222.00) scale(0.85 1)" >0.014</text>
<rect x="379.00" y="264.75" width="2" height="0.7" fill="#888"/>
<rect x="379.00" y="254.84" width="2" height="0.7" fill="#888"/>
<rect x="379.00" y="244.94" width="2" height="0.7" fill="#888"/>
<rect x="379.00" y="235.03" width="2" height="0.7" fill="#888"/>
<rect x="379.00" y="225.13" width="2" height="0.7" fill="#888"/>
<rect x="379.00" y="215.22" width="2" height="0.7" fill="#888"/>
<text font-size="3.4" text-anchor="middle" fill="#555" transform="translate(386.17 271.30) rotate(-40)">-10³</text>
<text font-size="3.4" text-anchor="middle" fill="#555" transform="translate(394.26 271.30) rotate(-40)">0</text>
<text font-size="3.4" text-anchor="middle" fill="#555" transform="translate(405.75 271.30) rotate(-40)">10³</text>
<text font-size="3.4" text-anchor="middle" fill="#555" transform="translate(418.80 271.30) rotate(-40)">10⁴</text>
<text font-size="3.4" text-anchor="middle" fill="#555" transform="translate(430.54 271.30) rotate(-40)">10⁵</text>
<rect x="393.06" y="265.00" width="2.4" height="1.1" fill="#222"/>
<rect x="383.30" y="273.60" width="52.20" height="52.20" stroke="#444" stroke-width="0.95" fill="none" />
<text x="0.00" y="0.00" font-size="9.3" text-anchor="end" fill="#000" stroke="#000" stroke-width="0.12" transform="translate(432.90 282.80) scale(0.85 1)" >0.020</text>
<rect x="379.00" y="325.25" width="2" height="0.7" fill="#888"/>
<rect x="379.00" y="315.40" width="2" height="0.7" fill="#888"/>
<rect x="379.00" y="305.55" width="2" height="0.7" fill="#888"/>
<rect x="379.00" y="295.70" width="2" height="0.7" fill="#888"/>
<rect x="379.00" y="285.85" width="2" height="0.7" fill="#888"/>
<rect x="379.00" y="276.00" width="2" height="0.7" fill="#888"/>
<text font-size="3.4" text-anchor="middle" fill="#555" transform="translate(386.17 331.80) rotate(-40)">-10³</text>
<text font-size="3.4" text-anchor="middle" fill="#555" transform="translate(394.26 331.80) rotate(-40)">0</text>
<text font-size="3.4" text-anchor="middle" fill="#555" transform="translate(405.75 331.80) rotate(-40)">10³</text>
<text font-size="3.4" text-anchor="middle" fill="#555" transform="translate(418.80 331.80) rotate(-40)">10⁴</text>
<text font-size="3.4" text-anchor="middle" fill="#555" transform="translate(430.54 331.80) rotate(-40)">10⁵</text>
<rect x="393.06" y="325.50" width="2.4" height="1.1" fill="#222"/>
<text x="48.50" y="233.00" font-size="8.2" text-anchor="middle" fill="#000" stroke="#000" stroke-width="0.12" transform="rotate(-90 48.5 233)" >Fresh</text>
<text x="48.50" y="304.00" font-size="8.2" text-anchor="middle" fill="#000" stroke="#000" stroke-width="0.12" transform="rotate(-90 48.5 304)" >Microniche</text>
<text x="56.50" y="296.00" font-size="8.2" text-anchor="middle" fill="#000" stroke="#000" stroke-width="0.12" transform="rotate(-90 56.5 296)" >SSC</text>
<path d="M55.0,312.0 L55.0,339.7 L78.5,339.7" stroke="#111" stroke-width="0.75" fill="none" />
<path d="M52.6,312.7 L55.0,308.5 L57.4,312.7 Z" stroke="none" stroke-width="0.8" fill="#111" />
<path d="M77.8,337.3 L82,339.7 L77.8,342.09999999999997 Z" stroke="none" stroke-width="0.8" fill="#111" />
<text x="84.20" y="342.30" font-size="8.2" text-anchor="start" fill="#000" stroke="#000" stroke-width="0.12" >hCD45</text>
<text x="366.50" y="233.00" font-size="8.2" text-anchor="middle" fill="#000" stroke="#000" stroke-width="0.12" transform="rotate(-90 366.5 233)" >Fresh</text>
<text x="366.50" y="304.00" font-size="8.2" text-anchor="middle" fill="#000" stroke="#000" stroke-width="0.12" transform="rotate(-90 366.5 304)" >Microniche</text>
<text x="374.50" y="296.00" font-size="8.2" text-anchor="middle" fill="#000" stroke="#000" stroke-width="0.12" transform="rotate(-90 374.5 296)" >SSC</text>
<path d="M372.2,312.0 L372.2,339.7 L395.5,339.7" stroke="#111" stroke-width="0.75" fill="none" />
<path d="M369.8,312.7 L372.2,308.5 L374.59999999999997,312.7 Z" stroke="none" stroke-width="0.8" fill="#111" />
<path d="M394.8,337.3 L399,339.7 L394.8,342.09999999999997 Z" stroke="none" stroke-width="0.8" fill="#111" />
<text x="400.70" y="342.30" font-size="8.2" text-anchor="start" fill="#000" stroke="#000" stroke-width="0.12" >hCD41a</text>
<rect x="144.80" y="215.20" width="116.80" height="103.70" stroke="#222" stroke-width="0.8" fill="none" />
<line x1="142.60" y1="216.60" x2="144.80" y2="216.60" stroke="#111" stroke-width="0.7" />
<text x="140.50" y="216.60" font-size="8.2" text-anchor="middle" fill="#000" stroke="#000" stroke-width="0.12" transform="rotate(-90 140.5 216.6)" >0.0</text>
<line x1="142.60" y1="233.26" x2="144.80" y2="233.26" stroke="#111" stroke-width="0.7" />
<text x="140.50" y="233.26" font-size="8.2" text-anchor="middle" fill="#000" stroke="#000" stroke-width="0.12" transform="rotate(-90 140.5 233.265)" >−0.5</text>
<line x1="142.60" y1="249.93" x2="144.80" y2="249.93" stroke="#111" stroke-width="0.7" />
<text x="140.50" y="249.93" font-size="8.2" text-anchor="middle" fill="#000" stroke="#000" stroke-width="0.12" transform="rotate(-90 140.5 249.93)" >−1.0</text>
<line x1="142.60" y1="266.59" x2="144.80" y2="266.59" stroke="#111" stroke-width="0.7" />
<text x="140.50" y="266.59" font-size="8.2" text-anchor="middle" fill="#000" stroke="#000" stroke-width="0.12" transform="rotate(-90 140.5 266.59499999999997)" >−1.5</text>
<line x1="142.60" y1="283.26" x2="144.80" y2="283.26" stroke="#111" stroke-width="0.7" />
<text x="140.50" y="283.26" font-size="8.2" text-anchor="middle" fill="#000" stroke="#000" stroke-width="0.12" transform="rotate(-90 140.5 283.26)" >−2.0</text>
<line x1="142.60" y1="299.92" x2="144.80" y2="299.92" stroke="#111" stroke-width="0.7" />
<text x="140.50" y="299.92" font-size="8.2" text-anchor="middle" fill="#000" stroke="#000" stroke-width="0.12" transform="rotate(-90 140.5 299.92499999999995)" >−2.5</text>
<line x1="142.60" y1="316.59" x2="144.80" y2="316.59" stroke="#111" stroke-width="0.7" />
<text x="140.50" y="316.59" font-size="8.2" text-anchor="middle" fill="#000" stroke="#000" stroke-width="0.12" transform="rotate(-90 140.5 316.59)" >−3.0</text>
<line x1="148.40" y1="318.90" x2="148.40" y2="321.40" stroke="#111" stroke-width="0.7" />
<text x="148.40" y="329.80" font-size="8.2" text-anchor="middle" fill="#000" stroke="#000" stroke-width="0.12" >0</text>
<line x1="165.33" y1="318.90" x2="165.33" y2="321.40" stroke="#111" stroke-width="0.7" />
<text x="165.33" y="329.80" font-size="8.2" text-anchor="middle" fill="#000" stroke="#000" stroke-width="0.12" >1</text>
<line x1="182.26" y1="318.90" x2="182.26" y2="321.40" stroke="#111" stroke-width="0.7" />
<text x="182.26" y="329.80" font-size="8.2" text-anchor="middle" fill="#000" stroke="#000" stroke-width="0.12" >2</text>
<line x1="199.19" y1="318.90" x2="199.19" y2="321.40" stroke="#111" stroke-width="0.7" />
<text x="199.19" y="329.80" font-size="8.2" text-anchor="middle" fill="#000" stroke="#000" stroke-width="0.12" >3</text>
<line x1="216.12" y1="318.90" x2="216.12" y2="321.40" stroke="#111" stroke-width="0.7" />
<text x="216.12" y="329.80" font-size="8.2" text-anchor="middle" fill="#000" stroke="#000" stroke-width="0.12" >4</text>
<line x1="233.05" y1="318.90" x2="233.05" y2="321.40" stroke="#111" stroke-width="0.7" />
<text x="233.05" y="329.80" font-size="8.2" text-anchor="middle" fill="#000" stroke="#000" stroke-width="0.12" >5</text>
<line x1="249.98" y1="318.90" x2="249.98" y2="321.40" stroke="#111" stroke-width="0.7" />
<text x="249.98" y="329.80" font-size="8.2" text-anchor="middle" fill="#000" stroke="#000" stroke-width="0.12" >6</text>
<text x="129.30" y="269.50" font-size="8.2" text-anchor="middle" fill="#000" stroke="#000" stroke-width="0.12" transform="rotate(-90 129.3 269.5)" >Log fraction nonresponding</text>
<text x="134.9" y="338.3" font-size="8.2" fill="#111">Dose (number of initial MNCs, 10<tspan font-size="5.2" dy="-3">8</tspan><tspan dy="3">)</tspan></text>
<clipPath id="ldc148"><rect x="144.8" y="215.2" width="116.80000000000001" height="103.69999999999999"/></clipPath>
<g clip-path="url(#ldc148)">
<line x1="148.2" y1="216.6" x2="266.60" y2="274.64" stroke="#222" stroke-width="0.8" stroke-dasharray="3.2,2.6"/>
<line x1="148.2" y1="216.6" x2="250.27" y2="323.90" stroke="#222" stroke-width="0.8"/>
<line x1="148.2" y1="216.6" x2="196.48" y2="323.90" stroke="#222" stroke-width="0.8" stroke-dasharray="3.2,2.6"/>
<line x1="148.2" y1="216.6" x2="174.53" y2="323.90" stroke="#1aaec4" stroke-width="0.8" stroke-dasharray="3.2,2.6"/>
<line x1="148.2" y1="216.6" x2="162.18" y2="323.90" stroke="#1aaec4" stroke-width="0.8"/>
<line x1="148.2" y1="216.6" x2="155.31" y2="323.90" stroke="#1aaec4" stroke-width="0.8" stroke-dasharray="3.2,2.6"/>
</g>
<rect x="146" y="214.6" width="3.2" height="3.2" fill="none" stroke="#1aaec4" stroke-width="0.6"/>
<circle cx="149.8" cy="250.7" r="1" fill="#222"/>
<circle cx="159.8" cy="258.8" r="1" fill="#222"/>
<circle cx="257.5" cy="264.1" r="1" fill="#222"/>
<circle cx="149.3" cy="226.3" r="1" fill="#1aaec4"/>
<circle cx="159.8" cy="277.4" r="1" fill="#1aaec4"/>
<path d="M255.6,314.6 L258.6,314.6 L257.1,317.2 Z" fill="#1aaec4"/>
<clipPath id="ldc468"><rect x="464.2" y="213.3" width="116.69999999999999" height="104.09999999999997"/></clipPath>
<g clip-path="url(#ldc468)">
<line x1="468.2" y1="214.3" x2="585.90" y2="233.95" stroke="#222" stroke-width="0.8" stroke-dasharray="3.2,2.6"/>
<line x1="468.2" y1="214.3" x2="585.90" y2="252.38" stroke="#222" stroke-width="0.8"/>
<line x1="468.2" y1="214.3" x2="585.90" y2="291.98" stroke="#222" stroke-width="0.8" stroke-dasharray="3.2,2.6"/>
<line x1="468.2" y1="214.3" x2="585.90" y2="312.84" stroke="#1aaec4" stroke-width="0.8" stroke-dasharray="3.2,2.6"/>
<line x1="468.2" y1="214.3" x2="529.38" y2="322.40" stroke="#1aaec4" stroke-width="0.8"/>
<line x1="468.2" y1="214.3" x2="496.84" y2="322.40" stroke="#1aaec4" stroke-width="0.8" stroke-dasharray="3.2,2.6"/>
</g>
<rect x="466" y="212.4" width="3.2" height="3.2" fill="none" stroke="#1aaec4" stroke-width="0.6"/>
<circle cx="469.4" cy="234.6" r="0.9" fill="#222"/>
<circle cx="470.2" cy="236" r="0.9" fill="#222"/>
<circle cx="478.5" cy="230.9" r="0.9" fill="#222"/>
<circle cx="473.5" cy="217.8" r="0.9" fill="#222"/>
<circle cx="577" cy="224.2" r="0.9" fill="#222"/>
<circle cx="478.4" cy="224.4" r="0.9" fill="#1aaec4"/>
<circle cx="479.2" cy="253.3" r="0.9" fill="#1aaec4"/>
<path d="M575.4,312.6 L578.4,312.6 L576.9,315.2 Z" fill="#1aaec4"/>
<text x="255.80" y="225.20" font-size="8.2" text-anchor="end" fill="#000" stroke="#000" stroke-width="0.12" >Fresh</text>
<text x="258.20" y="233.60" font-size="8.2" text-anchor="end" fill="#1ba6c0" stroke="#1ba6c0" stroke-width="0.12" >Microniche</text>
<rect x="464.20" y="213.30" width="116.70" height="104.10" stroke="#222" stroke-width="0.8" fill="none" />
<line x1="462.00" y1="214.30" x2="464.20" y2="214.30" stroke="#111" stroke-width="0.7" />
<text x="459.90" y="214.30" font-size="8.2" text-anchor="middle" fill="#000" stroke="#000" stroke-width="0.12" transform="rotate(-90 459.9 214.3)" >0.0</text>
<line x1="462.00" y1="236.00" x2="464.20" y2="236.00" stroke="#111" stroke-width="0.7" />
<text x="459.90" y="236.00" font-size="8.2" text-anchor="middle" fill="#000" stroke="#000" stroke-width="0.12" transform="rotate(-90 459.9 236.0)" >−0.5</text>
<line x1="462.00" y1="257.70" x2="464.20" y2="257.70" stroke="#111" stroke-width="0.7" />
<text x="459.90" y="257.70" font-size="8.2" text-anchor="middle" fill="#000" stroke="#000" stroke-width="0.12" transform="rotate(-90 459.9 257.7)" >−1.0</text>
<line x1="462.00" y1="279.40" x2="464.20" y2="279.40" stroke="#111" stroke-width="0.7" />
<text x="459.90" y="279.40" font-size="8.2" text-anchor="middle" fill="#000" stroke="#000" stroke-width="0.12" transform="rotate(-90 459.9 279.4)" >−1.5</text>
<line x1="462.00" y1="301.10" x2="464.20" y2="301.10" stroke="#111" stroke-width="0.7" />
<text x="459.90" y="301.10" font-size="8.2" text-anchor="middle" fill="#000" stroke="#000" stroke-width="0.12" transform="rotate(-90 459.9 301.1)" >−2.0</text>
<line x1="468.40" y1="317.40" x2="468.40" y2="319.90" stroke="#111" stroke-width="0.7" />
<text x="468.40" y="329.80" font-size="8.2" text-anchor="middle" fill="#000" stroke="#000" stroke-width="0.12" >0</text>
<line x1="485.30" y1="317.40" x2="485.30" y2="319.90" stroke="#111" stroke-width="0.7" />
<text x="485.30" y="329.80" font-size="8.2" text-anchor="middle" fill="#000" stroke="#000" stroke-width="0.12" >1</text>
<line x1="502.20" y1="317.40" x2="502.20" y2="319.90" stroke="#111" stroke-width="0.7" />
<text x="502.20" y="329.80" font-size="8.2" text-anchor="middle" fill="#000" stroke="#000" stroke-width="0.12" >2</text>
<line x1="519.10" y1="317.40" x2="519.10" y2="319.90" stroke="#111" stroke-width="0.7" />
<text x="519.10" y="329.80" font-size="8.2" text-anchor="middle" fill="#000" stroke="#000" stroke-width="0.12" >3</text>
<line x1="536.00" y1="317.40" x2="536.00" y2="319.90" stroke="#111" stroke-width="0.7" />
<text x="536.00" y="329.80" font-size="8.2" text-anchor="middle" fill="#000" stroke="#000" stroke-width="0.12" >4</text>
<line x1="552.90" y1="317.40" x2="552.90" y2="319.90" stroke="#111" stroke-width="0.7" />
<text x="552.90" y="329.80" font-size="8.2" text-anchor="middle" fill="#000" stroke="#000" stroke-width="0.12" >5</text>
<line x1="569.80" y1="317.40" x2="569.80" y2="319.90" stroke="#111" stroke-width="0.7" />
<text x="569.80" y="329.80" font-size="8.2" text-anchor="middle" fill="#000" stroke="#000" stroke-width="0.12" >6</text>
<text x="451.20" y="268.30" font-size="8.2" text-anchor="middle" fill="#000" stroke="#000" stroke-width="0.12" transform="rotate(-90 451.2 268.3)" >Log fraction nonresponding</text>
<text x="454.9" y="338.3" font-size="8.2" fill="#111">Dose (number of initial MNCs, 10<tspan font-size="5.2" dy="-3">8</tspan><tspan dy="3">)</tspan></text>
<text x="572.80" y="224.60" font-size="8.2" text-anchor="end" fill="#000" stroke="#000" stroke-width="0.12" >Fresh</text>
<text x="575.30" y="232.80" font-size="8.2" text-anchor="end" fill="#1ba6c0" stroke="#1ba6c0" stroke-width="0.12" >Microniche</text>
<line x1="289.80" y1="217.30" x2="289.80" y2="308.70" stroke="#111" stroke-width="0.8" />
<line x1="289.80" y1="308.70" x2="340.60" y2="308.70" stroke="#111" stroke-width="0.8" />
<line x1="287.00" y1="308.70" x2="289.80" y2="308.70" stroke="#111" stroke-width="0.8" />
<text x="0.00" y="0.00" font-size="8.6" text-anchor="end" fill="#000" stroke="#000" stroke-width="0.12" transform="translate(285.50 311.70) scale(0.96 1)" >0</text>
<line x1="287.00" y1="290.42" x2="289.80" y2="290.42" stroke="#111" stroke-width="0.8" />
<text x="0.00" y="0.00" font-size="8.6" text-anchor="end" fill="#000" stroke="#000" stroke-width="0.12" transform="translate(285.50 293.42) scale(0.96 1)" >2</text>
<line x1="287.00" y1="272.14" x2="289.80" y2="272.14" stroke="#111" stroke-width="0.8" />
<text x="0.00" y="0.00" font-size="8.6" text-anchor="end" fill="#000" stroke="#000" stroke-width="0.12" transform="translate(285.50 275.14) scale(0.96 1)" >4</text>
<line x1="287.00" y1="253.86" x2="289.80" y2="253.86" stroke="#111" stroke-width="0.8" />
<text x="0.00" y="0.00" font-size="8.6" text-anchor="end" fill="#000" stroke="#000" stroke-width="0.12" transform="translate(285.50 256.86) scale(0.96 1)" >6</text>
<line x1="287.00" y1="235.58" x2="289.80" y2="235.58" stroke="#111" stroke-width="0.8" />
<text x="0.00" y="0.00" font-size="8.6" text-anchor="end" fill="#000" stroke="#000" stroke-width="0.12" transform="translate(285.50 238.58) scale(0.96 1)" >8</text>
<line x1="287.00" y1="217.30" x2="289.80" y2="217.30" stroke="#111" stroke-width="0.8" />
<text x="0.00" y="0.00" font-size="8.6" text-anchor="end" fill="#000" stroke="#000" stroke-width="0.12" transform="translate(285.50 220.30) scale(0.96 1)" >10</text>
<line x1="304.60" y1="308.70" x2="304.60" y2="311.70" stroke="#111" stroke-width="0.8" />
<line x1="325.90" y1="308.70" x2="325.90" y2="311.70" stroke="#111" stroke-width="0.8" />
<rect x="297.60" y="298.19" width="13.70" height="7.77" stroke="#333" stroke-width="0.7" fill="#f9d9da" />
<line x1="297.60" y1="303.22" x2="311.30" y2="303.22" stroke="#333" stroke-width="0.7" />
<rect x="319.20" y="239.24" width="13.50" height="50.27" stroke="#1b1b1b" stroke-width="0.7" fill="#1a93ac" />
<line x1="319.20" y1="272.14" x2="332.70" y2="272.14" stroke="#111" stroke-width="0.8" />
<text x="0" y="0" font-size="8.9" fill="#000" stroke="#000" stroke-width="0.1" transform="translate(298.6 221.29999999999998) scale(0.9 1)"><tspan font-style="italic">P</tspan> &lt; 0.001</text>
<path d="M304.4,228.29999999999998 L304.4,224.7 L326.4,224.7 L326.4,228.29999999999998" stroke="#111" stroke-width="0.8" fill="none" />
<text x="316.00" y="236.50" font-size="8.2" text-anchor="middle" fill="#f0545a" stroke="#f0545a" stroke-width="0.12" >7.39×</text>
<text x="306.80" y="316.70" font-size="8.2" text-anchor="end" fill="#000" stroke="#000" stroke-width="0.12" transform="rotate(-45 306.8 316.7)" >Fresh</text>
<text x="328.40" y="316.70" font-size="8.2" text-anchor="end" fill="#000" stroke="#000" stroke-width="0.12" transform="rotate(-45 328.4 316.7)" >Microniche</text>
<text x="274.00" y="263.00" font-size="8.5" text-anchor="middle" fill="#000" stroke="#000" stroke-width="0.12" transform="rotate(-90 274.0 263)" >Stem cell frequency (10<tspan font-size="5.2" dy="-3">−6</tspan><tspan dy="3">)</tspan></text>
<line x1="621.40" y1="217.70" x2="621.40" y2="306.50" stroke="#111" stroke-width="0.8" />
<line x1="621.40" y1="306.50" x2="670.20" y2="306.50" stroke="#111" stroke-width="0.8" />
<line x1="618.60" y1="306.50" x2="621.40" y2="306.50" stroke="#111" stroke-width="0.8" />
<text x="0.00" y="0.00" font-size="8.6" text-anchor="end" fill="#000" stroke="#000" stroke-width="0.12" transform="translate(617.10 309.50) scale(0.96 1)" >0</text>
<line x1="618.60" y1="284.30" x2="621.40" y2="284.30" stroke="#111" stroke-width="0.8" />
<text x="0.00" y="0.00" font-size="8.6" text-anchor="end" fill="#000" stroke="#000" stroke-width="0.12" transform="translate(617.10 287.30) scale(0.96 1)" >0.5</text>
<line x1="618.60" y1="262.10" x2="621.40" y2="262.10" stroke="#111" stroke-width="0.8" />
<text x="0.00" y="0.00" font-size="8.6" text-anchor="end" fill="#000" stroke="#000" stroke-width="0.12" transform="translate(617.10 265.10) scale(0.96 1)" >1.0</text>
<line x1="618.60" y1="239.90" x2="621.40" y2="239.90" stroke="#111" stroke-width="0.8" />
<text x="0.00" y="0.00" font-size="8.6" text-anchor="end" fill="#000" stroke="#000" stroke-width="0.12" transform="translate(617.10 242.90) scale(0.96 1)" >1.5</text>
<line x1="618.60" y1="217.70" x2="621.40" y2="217.70" stroke="#111" stroke-width="0.8" />
<text x="0.00" y="0.00" font-size="8.6" text-anchor="end" fill="#000" stroke="#000" stroke-width="0.12" transform="translate(617.10 220.70) scale(0.96 1)" >2.0</text>
<line x1="635.00" y1="306.50" x2="635.00" y2="309.50" stroke="#111" stroke-width="0.8" />
<line x1="656.10" y1="306.50" x2="656.10" y2="309.50" stroke="#111" stroke-width="0.8" />
<rect x="628.50" y="295.84" width="13.50" height="8.44" stroke="#333" stroke-width="0.7" fill="#f9d9da" />
<line x1="628.50" y1="301.17" x2="642.00" y2="301.17" stroke="#333" stroke-width="0.7" />
<rect x="649.30" y="242.56" width="13.10" height="50.62" stroke="#1b1b1b" stroke-width="0.7" fill="#1a93ac" />
<line x1="649.30" y1="276.75" x2="662.40" y2="276.75" stroke="#111" stroke-width="0.8" />
<text x="0" y="0" font-size="8.9" fill="#000" stroke="#000" stroke-width="0.1" transform="translate(632 221.7) scale(0.9 1)"><tspan font-style="italic">P</tspan> &lt; 0.001</text>
<path d="M638.3,227.2 L638.3,223.6 L658.7,223.6 L658.7,227.2" stroke="#111" stroke-width="0.8" fill="none" />
<text x="650.00" y="235.40" font-size="8.2" text-anchor="middle" fill="#f0545a" stroke="#f0545a" stroke-width="0.12" >5.67×</text>
<text x="637.50" y="314.50" font-size="8.2" text-anchor="end" fill="#000" stroke="#000" stroke-width="0.12" transform="rotate(-45 637.5 314.5)" >Fresh</text>
<text x="658.10" y="314.50" font-size="8.2" text-anchor="end" fill="#000" stroke="#000" stroke-width="0.12" transform="rotate(-45 658.1 314.5)" >Microniche</text>
<text x="598.80" y="264.00" font-size="8.5" text-anchor="middle" fill="#000" stroke="#000" stroke-width="0.12" transform="rotate(-90 598.8 264)" >Stem cell frequency (10<tspan font-size="5.2" dy="-3">−6</tspan><tspan dy="3">)</tspan></text>
</svg></body></html>
